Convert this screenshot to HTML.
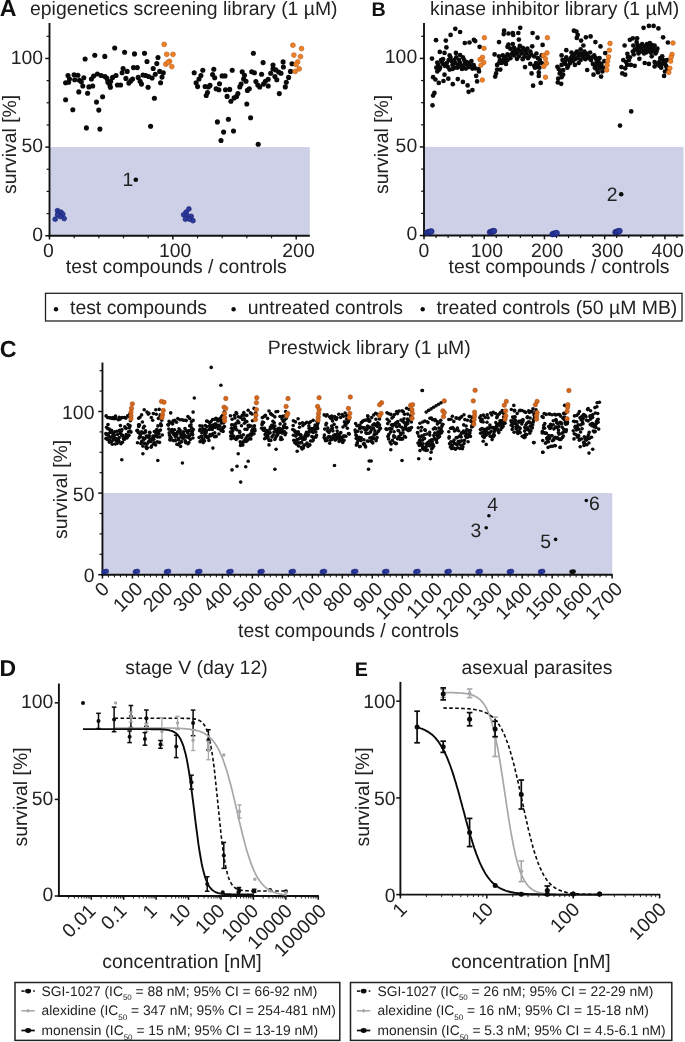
<!DOCTYPE html>
<html><head><meta charset="utf-8"><title>Figure</title>
<style>
html,body{margin:0;padding:0;background:#fff;}
svg{display:block;font-family:"Liberation Sans", sans-serif;will-change:transform;text-rendering:geometricPrecision;}
</style></head><body>
<svg width="685" height="1042" viewBox="0 0 685 1042">
<rect width="685" height="1042" fill="#ffffff"/>
<g id="panelA">
<rect x="49.5" y="147.1" width="260.3" height="88.6" fill="#cdd0e6"/>
<text x="-0.30" y="15.70" font-size="23.2" text-anchor="start" font-weight="bold" fill="#111" >A</text>
<text x="30.00" y="15.00" font-size="19.4" text-anchor="start" font-weight="normal" fill="#222222" >epigenetics screening library (1 µM)</text>
<line x1="49.50" y1="22.99" x2="49.50" y2="236.70" stroke="#111111" stroke-width="1.9" />
<line x1="45.30" y1="235.75" x2="49.50" y2="235.75" stroke="#111111" stroke-width="1.5" />
<text x="43.10" y="240.95" font-size="19.4" text-anchor="end" font-weight="normal" fill="#222222" >0</text>
<line x1="46.60" y1="213.59" x2="49.50" y2="213.59" stroke="#111111" stroke-width="1.2" />
<line x1="46.60" y1="191.43" x2="49.50" y2="191.43" stroke="#111111" stroke-width="1.2" />
<line x1="46.60" y1="169.26" x2="49.50" y2="169.26" stroke="#111111" stroke-width="1.2" />
<line x1="45.30" y1="147.10" x2="49.50" y2="147.10" stroke="#111111" stroke-width="1.5" />
<text x="43.10" y="152.30" font-size="19.4" text-anchor="end" font-weight="normal" fill="#222222" >50</text>
<line x1="46.60" y1="124.94" x2="49.50" y2="124.94" stroke="#111111" stroke-width="1.2" />
<line x1="46.60" y1="102.78" x2="49.50" y2="102.78" stroke="#111111" stroke-width="1.2" />
<line x1="46.60" y1="80.61" x2="49.50" y2="80.61" stroke="#111111" stroke-width="1.2" />
<line x1="45.30" y1="58.45" x2="49.50" y2="58.45" stroke="#111111" stroke-width="1.5" />
<text x="43.10" y="63.65" font-size="19.4" text-anchor="end" font-weight="normal" fill="#222222" >100</text>
<line x1="46.60" y1="36.29" x2="49.50" y2="36.29" stroke="#111111" stroke-width="1.2" />
<text transform="translate(16,144.4) rotate(-90)" font-size="19.4" text-anchor="middle" fill="#222222">survival [%]</text>
<line x1="48.55" y1="235.75" x2="309.80" y2="235.75" stroke="#111111" stroke-width="1.9" />
<line x1="49.50" y1="235.75" x2="49.50" y2="239.55" stroke="#111111" stroke-width="1.5" />
<text x="48.50" y="256.60" font-size="19.4" text-anchor="middle" font-weight="normal" fill="#222222" >0</text>
<line x1="74.17" y1="235.75" x2="74.17" y2="238.35" stroke="#111111" stroke-width="1.2" />
<line x1="98.84" y1="235.75" x2="98.84" y2="238.35" stroke="#111111" stroke-width="1.2" />
<line x1="123.51" y1="235.75" x2="123.51" y2="238.35" stroke="#111111" stroke-width="1.2" />
<line x1="148.18" y1="235.75" x2="148.18" y2="238.35" stroke="#111111" stroke-width="1.2" />
<line x1="172.85" y1="235.75" x2="172.85" y2="239.55" stroke="#111111" stroke-width="1.5" />
<text x="175.15" y="256.60" font-size="19.4" text-anchor="middle" font-weight="normal" fill="#222222" >100</text>
<line x1="197.52" y1="235.75" x2="197.52" y2="238.35" stroke="#111111" stroke-width="1.2" />
<line x1="222.19" y1="235.75" x2="222.19" y2="238.35" stroke="#111111" stroke-width="1.2" />
<line x1="246.86" y1="235.75" x2="246.86" y2="238.35" stroke="#111111" stroke-width="1.2" />
<line x1="271.53" y1="235.75" x2="271.53" y2="238.35" stroke="#111111" stroke-width="1.2" />
<line x1="296.20" y1="235.75" x2="296.20" y2="239.55" stroke="#111111" stroke-width="1.5" />
<text x="298.50" y="256.60" font-size="19.4" text-anchor="middle" font-weight="normal" fill="#222222" >200</text>
<text x="176.30" y="273.30" font-size="19.4" text-anchor="middle" font-weight="normal" fill="#222222" >test compounds / controls</text>
<circle cx="114.7" cy="48.0" r="2.55" fill="#0a0a0a"/>
<circle cx="124.6" cy="52.2" r="2.55" fill="#0a0a0a"/>
<circle cx="134.5" cy="53.9" r="2.55" fill="#0a0a0a"/>
<circle cx="144.5" cy="53.2" r="2.55" fill="#0a0a0a"/>
<circle cx="94.8" cy="55.2" r="2.55" fill="#0a0a0a"/>
<circle cx="104.8" cy="56.4" r="2.55" fill="#0a0a0a"/>
<circle cx="85.1" cy="59.0" r="2.55" fill="#0a0a0a"/>
<circle cx="158.0" cy="57.5" r="2.55" fill="#0a0a0a"/>
<circle cx="147.0" cy="61.5" r="2.55" fill="#0a0a0a"/>
<circle cx="156.8" cy="63.6" r="2.55" fill="#0a0a0a"/>
<circle cx="153.2" cy="68.5" r="2.55" fill="#0a0a0a"/>
<circle cx="123.1" cy="68.5" r="2.55" fill="#0a0a0a"/>
<circle cx="133.5" cy="67.6" r="2.55" fill="#0a0a0a"/>
<circle cx="137.3" cy="67.6" r="2.55" fill="#0a0a0a"/>
<circle cx="127.2" cy="71.4" r="2.55" fill="#0a0a0a"/>
<circle cx="122.1" cy="72.7" r="2.55" fill="#0a0a0a"/>
<circle cx="68.0" cy="75.5" r="2.55" fill="#0a0a0a"/>
<circle cx="74.1" cy="74.8" r="2.55" fill="#0a0a0a"/>
<circle cx="77.9" cy="75.2" r="2.55" fill="#0a0a0a"/>
<circle cx="69.5" cy="79.0" r="2.55" fill="#0a0a0a"/>
<circle cx="65.6" cy="82.8" r="2.55" fill="#0a0a0a"/>
<circle cx="68.6" cy="82.2" r="2.55" fill="#0a0a0a"/>
<circle cx="74.7" cy="79.7" r="2.55" fill="#0a0a0a"/>
<circle cx="79.4" cy="80.3" r="2.55" fill="#0a0a0a"/>
<circle cx="83.8" cy="77.8" r="2.55" fill="#0a0a0a"/>
<circle cx="81.3" cy="81.8" r="2.55" fill="#0a0a0a"/>
<circle cx="82.8" cy="86.0" r="2.55" fill="#0a0a0a"/>
<circle cx="78.8" cy="91.9" r="2.55" fill="#0a0a0a"/>
<circle cx="87.6" cy="93.2" r="2.55" fill="#0a0a0a"/>
<circle cx="88.9" cy="86.9" r="2.55" fill="#0a0a0a"/>
<circle cx="92.7" cy="86.0" r="2.55" fill="#0a0a0a"/>
<circle cx="91.4" cy="79.0" r="2.55" fill="#0a0a0a"/>
<circle cx="93.6" cy="76.1" r="2.55" fill="#0a0a0a"/>
<circle cx="97.4" cy="74.0" r="2.55" fill="#0a0a0a"/>
<circle cx="101.2" cy="75.5" r="2.55" fill="#0a0a0a"/>
<circle cx="105.0" cy="76.5" r="2.55" fill="#0a0a0a"/>
<circle cx="106.9" cy="78.4" r="2.55" fill="#0a0a0a"/>
<circle cx="107.9" cy="82.2" r="2.55" fill="#0a0a0a"/>
<circle cx="110.7" cy="81.2" r="2.55" fill="#0a0a0a"/>
<circle cx="109.8" cy="85.0" r="2.55" fill="#0a0a0a"/>
<circle cx="110.4" cy="87.3" r="2.55" fill="#0a0a0a"/>
<circle cx="112.6" cy="77.4" r="2.55" fill="#0a0a0a"/>
<circle cx="116.0" cy="75.5" r="2.55" fill="#0a0a0a"/>
<circle cx="117.4" cy="85.0" r="2.55" fill="#0a0a0a"/>
<circle cx="120.6" cy="85.0" r="2.55" fill="#0a0a0a"/>
<circle cx="125.9" cy="78.4" r="2.55" fill="#0a0a0a"/>
<circle cx="128.8" cy="83.1" r="2.55" fill="#0a0a0a"/>
<circle cx="130.7" cy="80.9" r="2.55" fill="#0a0a0a"/>
<circle cx="132.6" cy="79.0" r="2.55" fill="#0a0a0a"/>
<circle cx="138.2" cy="77.4" r="2.55" fill="#0a0a0a"/>
<circle cx="140.1" cy="81.2" r="2.55" fill="#0a0a0a"/>
<circle cx="141.5" cy="84.1" r="2.55" fill="#0a0a0a"/>
<circle cx="143.0" cy="75.0" r="2.55" fill="#0a0a0a"/>
<circle cx="145.8" cy="75.5" r="2.55" fill="#0a0a0a"/>
<circle cx="148.7" cy="76.5" r="2.55" fill="#0a0a0a"/>
<circle cx="152.1" cy="78.0" r="2.55" fill="#0a0a0a"/>
<circle cx="155.3" cy="74.2" r="2.55" fill="#0a0a0a"/>
<circle cx="159.7" cy="71.4" r="2.55" fill="#0a0a0a"/>
<circle cx="163.3" cy="72.7" r="2.55" fill="#0a0a0a"/>
<circle cx="162.0" cy="77.1" r="2.55" fill="#0a0a0a"/>
<circle cx="160.6" cy="82.8" r="2.55" fill="#0a0a0a"/>
<circle cx="148.1" cy="87.3" r="2.55" fill="#0a0a0a"/>
<circle cx="154.4" cy="98.3" r="2.55" fill="#0a0a0a"/>
<circle cx="150.6" cy="126.2" r="2.55" fill="#0a0a0a"/>
<circle cx="102.6" cy="96.8" r="2.55" fill="#0a0a0a"/>
<circle cx="96.5" cy="102.1" r="2.55" fill="#0a0a0a"/>
<circle cx="98.8" cy="110.1" r="2.55" fill="#0a0a0a"/>
<circle cx="86.4" cy="127.9" r="2.55" fill="#0a0a0a"/>
<circle cx="99.9" cy="129.1" r="2.55" fill="#0a0a0a"/>
<circle cx="65.6" cy="99.8" r="2.55" fill="#0a0a0a"/>
<circle cx="72.8" cy="109.7" r="2.55" fill="#0a0a0a"/>
<circle cx="253.4" cy="53.2" r="2.55" fill="#0a0a0a"/>
<circle cx="263.1" cy="62.6" r="2.55" fill="#0a0a0a"/>
<circle cx="283.1" cy="61.9" r="2.55" fill="#0a0a0a"/>
<circle cx="273.0" cy="65.1" r="2.55" fill="#0a0a0a"/>
<circle cx="292.0" cy="63.8" r="2.55" fill="#0a0a0a"/>
<circle cx="283.4" cy="67.0" r="2.55" fill="#0a0a0a"/>
<circle cx="232.2" cy="70.2" r="2.55" fill="#0a0a0a"/>
<circle cx="213.8" cy="69.3" r="2.55" fill="#0a0a0a"/>
<circle cx="202.8" cy="70.2" r="2.55" fill="#0a0a0a"/>
<circle cx="194.2" cy="72.7" r="2.55" fill="#0a0a0a"/>
<circle cx="200.9" cy="75.5" r="2.55" fill="#0a0a0a"/>
<circle cx="199.0" cy="79.0" r="2.55" fill="#0a0a0a"/>
<circle cx="196.1" cy="82.8" r="2.55" fill="#0a0a0a"/>
<circle cx="197.6" cy="86.6" r="2.55" fill="#0a0a0a"/>
<circle cx="212.6" cy="74.6" r="2.55" fill="#0a0a0a"/>
<circle cx="214.7" cy="77.8" r="2.55" fill="#0a0a0a"/>
<circle cx="222.1" cy="75.9" r="2.55" fill="#0a0a0a"/>
<circle cx="225.0" cy="75.9" r="2.55" fill="#0a0a0a"/>
<circle cx="242.2" cy="71.8" r="2.55" fill="#0a0a0a"/>
<circle cx="244.5" cy="75.2" r="2.55" fill="#0a0a0a"/>
<circle cx="243.6" cy="79.0" r="2.55" fill="#0a0a0a"/>
<circle cx="246.0" cy="81.2" r="2.55" fill="#0a0a0a"/>
<circle cx="251.7" cy="71.8" r="2.55" fill="#0a0a0a"/>
<circle cx="254.4" cy="72.7" r="2.55" fill="#0a0a0a"/>
<circle cx="261.6" cy="74.2" r="2.55" fill="#0a0a0a"/>
<circle cx="270.7" cy="73.3" r="2.55" fill="#0a0a0a"/>
<circle cx="273.0" cy="68.9" r="2.55" fill="#0a0a0a"/>
<circle cx="275.8" cy="69.9" r="2.55" fill="#0a0a0a"/>
<circle cx="278.7" cy="72.1" r="2.55" fill="#0a0a0a"/>
<circle cx="281.0" cy="73.3" r="2.55" fill="#0a0a0a"/>
<circle cx="290.5" cy="71.4" r="2.55" fill="#0a0a0a"/>
<circle cx="288.6" cy="77.4" r="2.55" fill="#0a0a0a"/>
<circle cx="286.3" cy="82.2" r="2.55" fill="#0a0a0a"/>
<circle cx="285.3" cy="86.9" r="2.55" fill="#0a0a0a"/>
<circle cx="274.9" cy="76.5" r="2.55" fill="#0a0a0a"/>
<circle cx="276.8" cy="79.7" r="2.55" fill="#0a0a0a"/>
<circle cx="268.2" cy="79.3" r="2.55" fill="#0a0a0a"/>
<circle cx="265.4" cy="81.2" r="2.55" fill="#0a0a0a"/>
<circle cx="263.5" cy="84.1" r="2.55" fill="#0a0a0a"/>
<circle cx="268.2" cy="86.0" r="2.55" fill="#0a0a0a"/>
<circle cx="255.9" cy="81.6" r="2.55" fill="#0a0a0a"/>
<circle cx="257.8" cy="85.0" r="2.55" fill="#0a0a0a"/>
<circle cx="259.7" cy="86.9" r="2.55" fill="#0a0a0a"/>
<circle cx="241.1" cy="84.1" r="2.55" fill="#0a0a0a"/>
<circle cx="239.8" cy="86.9" r="2.55" fill="#0a0a0a"/>
<circle cx="249.3" cy="88.8" r="2.55" fill="#0a0a0a"/>
<circle cx="247.4" cy="90.4" r="2.55" fill="#0a0a0a"/>
<circle cx="237.9" cy="93.6" r="2.55" fill="#0a0a0a"/>
<circle cx="236.6" cy="96.4" r="2.55" fill="#0a0a0a"/>
<circle cx="234.1" cy="97.9" r="2.55" fill="#0a0a0a"/>
<circle cx="230.9" cy="101.2" r="2.55" fill="#0a0a0a"/>
<circle cx="227.1" cy="96.4" r="2.55" fill="#0a0a0a"/>
<circle cx="225.5" cy="89.8" r="2.55" fill="#0a0a0a"/>
<circle cx="229.7" cy="89.4" r="2.55" fill="#0a0a0a"/>
<circle cx="219.5" cy="83.7" r="2.55" fill="#0a0a0a"/>
<circle cx="216.1" cy="88.8" r="2.55" fill="#0a0a0a"/>
<circle cx="218.9" cy="89.8" r="2.55" fill="#0a0a0a"/>
<circle cx="210.0" cy="85.4" r="2.55" fill="#0a0a0a"/>
<circle cx="205.1" cy="86.6" r="2.55" fill="#0a0a0a"/>
<circle cx="208.5" cy="86.9" r="2.55" fill="#0a0a0a"/>
<circle cx="207.5" cy="92.6" r="2.55" fill="#0a0a0a"/>
<circle cx="206.2" cy="95.5" r="2.55" fill="#0a0a0a"/>
<circle cx="279.3" cy="93.6" r="2.55" fill="#0a0a0a"/>
<circle cx="246.8" cy="104.0" r="2.55" fill="#0a0a0a"/>
<circle cx="250.6" cy="117.7" r="2.55" fill="#0a0a0a"/>
<circle cx="228.4" cy="119.2" r="2.55" fill="#0a0a0a"/>
<circle cx="217.4" cy="121.9" r="2.55" fill="#0a0a0a"/>
<circle cx="233.5" cy="131.0" r="2.55" fill="#0a0a0a"/>
<circle cx="223.6" cy="132.1" r="2.55" fill="#0a0a0a"/>
<circle cx="221.0" cy="140.5" r="2.55" fill="#0a0a0a"/>
<circle cx="258.2" cy="144.2" r="2.55" fill="#0a0a0a"/>
<circle cx="164.2" cy="44.4" r="2.4" fill="#ee8228" stroke="#c4621c" stroke-width="0.7"/>
<circle cx="166.7" cy="54.3" r="2.4" fill="#ee8228" stroke="#c4621c" stroke-width="0.7"/>
<circle cx="173.0" cy="54.3" r="2.4" fill="#ee8228" stroke="#c4621c" stroke-width="0.7"/>
<circle cx="169.6" cy="61.3" r="2.4" fill="#ee8228" stroke="#c4621c" stroke-width="0.7"/>
<circle cx="165.8" cy="64.2" r="2.4" fill="#ee8228" stroke="#c4621c" stroke-width="0.7"/>
<circle cx="168.0" cy="62.3" r="2.4" fill="#ee8228" stroke="#c4621c" stroke-width="0.7"/>
<circle cx="171.8" cy="66.6" r="2.4" fill="#ee8228" stroke="#c4621c" stroke-width="0.7"/>
<circle cx="292.9" cy="45.2" r="2.4" fill="#ee8228" stroke="#c4621c" stroke-width="0.7"/>
<circle cx="301.5" cy="48.6" r="2.4" fill="#ee8228" stroke="#c4621c" stroke-width="0.7"/>
<circle cx="293.9" cy="55.1" r="2.4" fill="#ee8228" stroke="#c4621c" stroke-width="0.7"/>
<circle cx="300.5" cy="56.6" r="2.4" fill="#ee8228" stroke="#c4621c" stroke-width="0.7"/>
<circle cx="297.7" cy="61.9" r="2.4" fill="#ee8228" stroke="#c4621c" stroke-width="0.7"/>
<circle cx="296.1" cy="64.5" r="2.4" fill="#ee8228" stroke="#c4621c" stroke-width="0.7"/>
<circle cx="299.2" cy="68.9" r="2.4" fill="#ee8228" stroke="#c4621c" stroke-width="0.7"/>
<circle cx="295.2" cy="71.4" r="2.4" fill="#ee8228" stroke="#c4621c" stroke-width="0.7"/>
<circle cx="55.2" cy="219.2" r="2.4" fill="#2c3a9c" stroke="#1b2478" stroke-width="0.7"/>
<circle cx="57.5" cy="210.7" r="2.4" fill="#2c3a9c" stroke="#1b2478" stroke-width="0.7"/>
<circle cx="59.0" cy="212.8" r="2.4" fill="#2c3a9c" stroke="#1b2478" stroke-width="0.7"/>
<circle cx="61.0" cy="212.2" r="2.4" fill="#2c3a9c" stroke="#1b2478" stroke-width="0.7"/>
<circle cx="62.8" cy="214.2" r="2.4" fill="#2c3a9c" stroke="#1b2478" stroke-width="0.7"/>
<circle cx="60.4" cy="216.6" r="2.4" fill="#2c3a9c" stroke="#1b2478" stroke-width="0.7"/>
<circle cx="64.2" cy="218.6" r="2.4" fill="#2c3a9c" stroke="#1b2478" stroke-width="0.7"/>
<circle cx="57.5" cy="214.8" r="2.4" fill="#2c3a9c" stroke="#1b2478" stroke-width="0.7"/>
<circle cx="188.9" cy="209.0" r="2.4" fill="#2c3a9c" stroke="#1b2478" stroke-width="0.7"/>
<circle cx="186.0" cy="212.2" r="2.4" fill="#2c3a9c" stroke="#1b2478" stroke-width="0.7"/>
<circle cx="183.6" cy="214.8" r="2.4" fill="#2c3a9c" stroke="#1b2478" stroke-width="0.7"/>
<circle cx="187.4" cy="215.7" r="2.4" fill="#2c3a9c" stroke="#1b2478" stroke-width="0.7"/>
<circle cx="191.2" cy="216.3" r="2.4" fill="#2c3a9c" stroke="#1b2478" stroke-width="0.7"/>
<circle cx="185.4" cy="219.2" r="2.4" fill="#2c3a9c" stroke="#1b2478" stroke-width="0.7"/>
<circle cx="189.5" cy="219.2" r="2.4" fill="#2c3a9c" stroke="#1b2478" stroke-width="0.7"/>
<circle cx="193.0" cy="220.7" r="2.4" fill="#2c3a9c" stroke="#1b2478" stroke-width="0.7"/>
<circle cx="135.8" cy="179.8" r="2.3" fill="#0a0a0a"/>
<text x="122.50" y="186.20" font-size="19.4" text-anchor="start" font-weight="normal" fill="#222222" >1</text>
</g>
<g id="panelB">
<rect x="424.0" y="146.9" width="259.5" height="88.6" fill="#cdd0e6"/>
<text x="371.60" y="15.50" font-size="19.7" text-anchor="start" font-weight="bold" fill="#111" >B</text>
<text x="430.00" y="15.00" font-size="19.4" text-anchor="start" font-weight="normal" fill="#222222" >kinase inhibitor library (1 µM)</text>
<line x1="424.00" y1="22.98" x2="424.00" y2="236.45" stroke="#111111" stroke-width="1.9" />
<line x1="419.80" y1="235.50" x2="424.00" y2="235.50" stroke="#111111" stroke-width="1.5" />
<text x="417.20" y="240.40" font-size="19.4" text-anchor="end" font-weight="normal" fill="#222222" >0</text>
<line x1="421.10" y1="213.36" x2="424.00" y2="213.36" stroke="#111111" stroke-width="1.2" />
<line x1="421.10" y1="191.22" x2="424.00" y2="191.22" stroke="#111111" stroke-width="1.2" />
<line x1="421.10" y1="169.09" x2="424.00" y2="169.09" stroke="#111111" stroke-width="1.2" />
<line x1="419.80" y1="146.95" x2="424.00" y2="146.95" stroke="#111111" stroke-width="1.5" />
<text x="417.20" y="151.85" font-size="19.4" text-anchor="end" font-weight="normal" fill="#222222" >50</text>
<line x1="421.10" y1="124.81" x2="424.00" y2="124.81" stroke="#111111" stroke-width="1.2" />
<line x1="421.10" y1="102.68" x2="424.00" y2="102.68" stroke="#111111" stroke-width="1.2" />
<line x1="421.10" y1="80.54" x2="424.00" y2="80.54" stroke="#111111" stroke-width="1.2" />
<line x1="419.80" y1="58.40" x2="424.00" y2="58.40" stroke="#111111" stroke-width="1.5" />
<text x="417.20" y="63.30" font-size="19.4" text-anchor="end" font-weight="normal" fill="#222222" >100</text>
<line x1="421.10" y1="36.26" x2="424.00" y2="36.26" stroke="#111111" stroke-width="1.2" />
<text transform="translate(388,144.4) rotate(-90)" font-size="19.4" text-anchor="middle" fill="#222222">survival [%]</text>
<line x1="423.05" y1="235.50" x2="683.50" y2="235.50" stroke="#111111" stroke-width="1.9" />
<line x1="424.00" y1="235.50" x2="424.00" y2="239.30" stroke="#111111" stroke-width="1.5" />
<text x="424.00" y="256.50" font-size="19.4" text-anchor="middle" font-weight="normal" fill="#222222" >0</text>
<line x1="436.04" y1="235.50" x2="436.04" y2="238.10" stroke="#111111" stroke-width="1.2" />
<line x1="448.09" y1="235.50" x2="448.09" y2="238.10" stroke="#111111" stroke-width="1.2" />
<line x1="460.13" y1="235.50" x2="460.13" y2="238.10" stroke="#111111" stroke-width="1.2" />
<line x1="472.18" y1="235.50" x2="472.18" y2="238.10" stroke="#111111" stroke-width="1.2" />
<line x1="484.22" y1="235.50" x2="484.22" y2="239.30" stroke="#111111" stroke-width="1.5" />
<text x="486.92" y="256.50" font-size="19.4" text-anchor="middle" font-weight="normal" fill="#222222" >100</text>
<line x1="496.26" y1="235.50" x2="496.26" y2="238.10" stroke="#111111" stroke-width="1.2" />
<line x1="508.31" y1="235.50" x2="508.31" y2="238.10" stroke="#111111" stroke-width="1.2" />
<line x1="520.35" y1="235.50" x2="520.35" y2="238.10" stroke="#111111" stroke-width="1.2" />
<line x1="532.40" y1="235.50" x2="532.40" y2="238.10" stroke="#111111" stroke-width="1.2" />
<line x1="544.44" y1="235.50" x2="544.44" y2="239.30" stroke="#111111" stroke-width="1.5" />
<text x="547.14" y="256.50" font-size="19.4" text-anchor="middle" font-weight="normal" fill="#222222" >200</text>
<line x1="556.48" y1="235.50" x2="556.48" y2="238.10" stroke="#111111" stroke-width="1.2" />
<line x1="568.53" y1="235.50" x2="568.53" y2="238.10" stroke="#111111" stroke-width="1.2" />
<line x1="580.57" y1="235.50" x2="580.57" y2="238.10" stroke="#111111" stroke-width="1.2" />
<line x1="592.62" y1="235.50" x2="592.62" y2="238.10" stroke="#111111" stroke-width="1.2" />
<line x1="604.66" y1="235.50" x2="604.66" y2="239.30" stroke="#111111" stroke-width="1.5" />
<text x="607.36" y="256.50" font-size="19.4" text-anchor="middle" font-weight="normal" fill="#222222" >300</text>
<line x1="616.70" y1="235.50" x2="616.70" y2="238.10" stroke="#111111" stroke-width="1.2" />
<line x1="628.75" y1="235.50" x2="628.75" y2="238.10" stroke="#111111" stroke-width="1.2" />
<line x1="640.79" y1="235.50" x2="640.79" y2="238.10" stroke="#111111" stroke-width="1.2" />
<line x1="652.84" y1="235.50" x2="652.84" y2="238.10" stroke="#111111" stroke-width="1.2" />
<line x1="664.88" y1="235.50" x2="664.88" y2="239.30" stroke="#111111" stroke-width="1.5" />
<text x="667.58" y="256.50" font-size="19.4" text-anchor="middle" font-weight="normal" fill="#222222" >400</text>
<line x1="676.92" y1="235.50" x2="676.92" y2="238.10" stroke="#111111" stroke-width="1.2" />
<text x="559.00" y="273.30" font-size="19.4" text-anchor="middle" font-weight="normal" fill="#222222" >test compounds / controls</text>
<circle cx="455.3" cy="28.8" r="2.35" fill="#0a0a0a"/>
<circle cx="460.1" cy="32.0" r="2.35" fill="#0a0a0a"/>
<circle cx="450.6" cy="34.9" r="2.35" fill="#0a0a0a"/>
<circle cx="436.0" cy="40.2" r="2.35" fill="#0a0a0a"/>
<circle cx="445.8" cy="40.6" r="2.35" fill="#0a0a0a"/>
<circle cx="446.4" cy="47.4" r="2.35" fill="#0a0a0a"/>
<circle cx="464.8" cy="43.0" r="2.35" fill="#0a0a0a"/>
<circle cx="469.5" cy="42.5" r="2.35" fill="#0a0a0a"/>
<circle cx="473.9" cy="39.8" r="2.35" fill="#0a0a0a"/>
<circle cx="475.2" cy="41.1" r="2.35" fill="#0a0a0a"/>
<circle cx="479.6" cy="46.8" r="2.35" fill="#0a0a0a"/>
<circle cx="439.8" cy="51.9" r="2.35" fill="#0a0a0a"/>
<circle cx="444.5" cy="52.9" r="2.35" fill="#0a0a0a"/>
<circle cx="455.9" cy="52.9" r="2.35" fill="#0a0a0a"/>
<circle cx="449.6" cy="55.4" r="2.35" fill="#0a0a0a"/>
<circle cx="460.1" cy="55.0" r="2.35" fill="#0a0a0a"/>
<circle cx="432.0" cy="58.6" r="2.35" fill="#0a0a0a"/>
<circle cx="441.1" cy="60.1" r="2.35" fill="#0a0a0a"/>
<circle cx="448.7" cy="60.1" r="2.35" fill="#0a0a0a"/>
<circle cx="454.4" cy="60.1" r="2.35" fill="#0a0a0a"/>
<circle cx="459.1" cy="60.1" r="2.35" fill="#0a0a0a"/>
<circle cx="464.2" cy="60.1" r="2.35" fill="#0a0a0a"/>
<circle cx="471.4" cy="61.1" r="2.35" fill="#0a0a0a"/>
<circle cx="438.2" cy="64.9" r="2.35" fill="#0a0a0a"/>
<circle cx="443.0" cy="63.9" r="2.35" fill="#0a0a0a"/>
<circle cx="446.8" cy="63.0" r="2.35" fill="#0a0a0a"/>
<circle cx="452.5" cy="64.9" r="2.35" fill="#0a0a0a"/>
<circle cx="458.2" cy="64.9" r="2.35" fill="#0a0a0a"/>
<circle cx="462.9" cy="65.8" r="2.35" fill="#0a0a0a"/>
<circle cx="467.6" cy="64.9" r="2.35" fill="#0a0a0a"/>
<circle cx="473.7" cy="65.2" r="2.35" fill="#0a0a0a"/>
<circle cx="436.3" cy="67.7" r="2.35" fill="#0a0a0a"/>
<circle cx="440.1" cy="67.7" r="2.35" fill="#0a0a0a"/>
<circle cx="449.6" cy="69.6" r="2.35" fill="#0a0a0a"/>
<circle cx="452.5" cy="69.0" r="2.35" fill="#0a0a0a"/>
<circle cx="462.0" cy="69.0" r="2.35" fill="#0a0a0a"/>
<circle cx="465.8" cy="68.6" r="2.35" fill="#0a0a0a"/>
<circle cx="475.2" cy="68.3" r="2.35" fill="#0a0a0a"/>
<circle cx="478.5" cy="69.2" r="2.35" fill="#0a0a0a"/>
<circle cx="437.3" cy="71.5" r="2.35" fill="#0a0a0a"/>
<circle cx="444.5" cy="74.7" r="2.35" fill="#0a0a0a"/>
<circle cx="433.1" cy="77.2" r="2.35" fill="#0a0a0a"/>
<circle cx="435.4" cy="79.5" r="2.35" fill="#0a0a0a"/>
<circle cx="438.8" cy="82.9" r="2.35" fill="#0a0a0a"/>
<circle cx="443.5" cy="81.0" r="2.35" fill="#0a0a0a"/>
<circle cx="448.3" cy="78.7" r="2.35" fill="#0a0a0a"/>
<circle cx="452.8" cy="84.2" r="2.35" fill="#0a0a0a"/>
<circle cx="457.8" cy="79.1" r="2.35" fill="#0a0a0a"/>
<circle cx="462.9" cy="81.9" r="2.35" fill="#0a0a0a"/>
<circle cx="467.6" cy="85.4" r="2.35" fill="#0a0a0a"/>
<circle cx="476.2" cy="75.9" r="2.35" fill="#0a0a0a"/>
<circle cx="477.1" cy="81.4" r="2.35" fill="#0a0a0a"/>
<circle cx="479.0" cy="71.5" r="2.35" fill="#0a0a0a"/>
<circle cx="472.4" cy="90.1" r="2.35" fill="#0a0a0a"/>
<circle cx="468.6" cy="91.8" r="2.35" fill="#0a0a0a"/>
<circle cx="434.4" cy="92.9" r="2.35" fill="#0a0a0a"/>
<circle cx="433.1" cy="95.6" r="2.35" fill="#0a0a0a"/>
<circle cx="432.5" cy="105.3" r="2.35" fill="#0a0a0a"/>
<circle cx="442.0" cy="62.0" r="2.35" fill="#0a0a0a"/>
<circle cx="444.9" cy="65.8" r="2.35" fill="#0a0a0a"/>
<circle cx="455.3" cy="63.0" r="2.35" fill="#0a0a0a"/>
<circle cx="457.2" cy="67.7" r="2.35" fill="#0a0a0a"/>
<circle cx="469.5" cy="63.0" r="2.35" fill="#0a0a0a"/>
<circle cx="464.8" cy="63.9" r="2.35" fill="#0a0a0a"/>
<circle cx="451.5" cy="61.1" r="2.35" fill="#0a0a0a"/>
<circle cx="460.1" cy="63.0" r="2.35" fill="#0a0a0a"/>
<circle cx="471.4" cy="65.8" r="2.35" fill="#0a0a0a"/>
<circle cx="437.3" cy="62.6" r="2.35" fill="#0a0a0a"/>
<circle cx="447.7" cy="66.8" r="2.35" fill="#0a0a0a"/>
<circle cx="454.4" cy="67.7" r="2.35" fill="#0a0a0a"/>
<circle cx="461.0" cy="67.1" r="2.35" fill="#0a0a0a"/>
<circle cx="468.6" cy="67.1" r="2.35" fill="#0a0a0a"/>
<circle cx="472.4" cy="68.6" r="2.35" fill="#0a0a0a"/>
<circle cx="439.2" cy="69.6" r="2.35" fill="#0a0a0a"/>
<circle cx="443.0" cy="59.2" r="2.35" fill="#0a0a0a"/>
<circle cx="450.6" cy="57.6" r="2.35" fill="#0a0a0a"/>
<circle cx="462.9" cy="57.3" r="2.35" fill="#0a0a0a"/>
<circle cx="466.7" cy="62.0" r="2.35" fill="#0a0a0a"/>
<circle cx="456.3" cy="57.3" r="2.35" fill="#0a0a0a"/>
<circle cx="520.2" cy="27.8" r="2.35" fill="#0a0a0a"/>
<circle cx="504.1" cy="30.7" r="2.35" fill="#0a0a0a"/>
<circle cx="503.7" cy="34.1" r="2.35" fill="#0a0a0a"/>
<circle cx="508.5" cy="33.5" r="2.35" fill="#0a0a0a"/>
<circle cx="512.8" cy="33.0" r="2.35" fill="#0a0a0a"/>
<circle cx="513.2" cy="34.9" r="2.35" fill="#0a0a0a"/>
<circle cx="518.3" cy="33.0" r="2.35" fill="#0a0a0a"/>
<circle cx="532.6" cy="33.0" r="2.35" fill="#0a0a0a"/>
<circle cx="537.5" cy="37.7" r="2.35" fill="#0a0a0a"/>
<circle cx="518.9" cy="39.6" r="2.35" fill="#0a0a0a"/>
<circle cx="499.0" cy="42.1" r="2.35" fill="#0a0a0a"/>
<circle cx="508.5" cy="44.5" r="2.35" fill="#0a0a0a"/>
<circle cx="512.8" cy="44.0" r="2.35" fill="#0a0a0a"/>
<circle cx="542.6" cy="44.9" r="2.35" fill="#0a0a0a"/>
<circle cx="507.5" cy="46.8" r="2.35" fill="#0a0a0a"/>
<circle cx="514.1" cy="47.8" r="2.35" fill="#0a0a0a"/>
<circle cx="518.3" cy="49.3" r="2.35" fill="#0a0a0a"/>
<circle cx="522.7" cy="47.8" r="2.35" fill="#0a0a0a"/>
<circle cx="527.4" cy="48.7" r="2.35" fill="#0a0a0a"/>
<circle cx="532.2" cy="46.3" r="2.35" fill="#0a0a0a"/>
<circle cx="494.6" cy="54.4" r="2.35" fill="#0a0a0a"/>
<circle cx="499.0" cy="56.3" r="2.35" fill="#0a0a0a"/>
<circle cx="502.8" cy="55.4" r="2.35" fill="#0a0a0a"/>
<circle cx="507.5" cy="54.4" r="2.35" fill="#0a0a0a"/>
<circle cx="512.2" cy="53.5" r="2.35" fill="#0a0a0a"/>
<circle cx="517.0" cy="53.5" r="2.35" fill="#0a0a0a"/>
<circle cx="521.7" cy="53.5" r="2.35" fill="#0a0a0a"/>
<circle cx="526.5" cy="53.5" r="2.35" fill="#0a0a0a"/>
<circle cx="531.2" cy="54.4" r="2.35" fill="#0a0a0a"/>
<circle cx="536.4" cy="53.5" r="2.35" fill="#0a0a0a"/>
<circle cx="541.7" cy="55.4" r="2.35" fill="#0a0a0a"/>
<circle cx="510.4" cy="58.2" r="2.35" fill="#0a0a0a"/>
<circle cx="517.0" cy="58.8" r="2.35" fill="#0a0a0a"/>
<circle cx="522.7" cy="59.2" r="2.35" fill="#0a0a0a"/>
<circle cx="528.0" cy="58.2" r="2.35" fill="#0a0a0a"/>
<circle cx="499.9" cy="60.1" r="2.35" fill="#0a0a0a"/>
<circle cx="497.1" cy="64.9" r="2.35" fill="#0a0a0a"/>
<circle cx="501.8" cy="63.0" r="2.35" fill="#0a0a0a"/>
<circle cx="506.0" cy="63.9" r="2.35" fill="#0a0a0a"/>
<circle cx="530.3" cy="63.9" r="2.35" fill="#0a0a0a"/>
<circle cx="534.1" cy="65.8" r="2.35" fill="#0a0a0a"/>
<circle cx="537.9" cy="66.8" r="2.35" fill="#0a0a0a"/>
<circle cx="541.7" cy="63.0" r="2.35" fill="#0a0a0a"/>
<circle cx="525.0" cy="67.1" r="2.35" fill="#0a0a0a"/>
<circle cx="497.1" cy="69.6" r="2.35" fill="#0a0a0a"/>
<circle cx="500.3" cy="69.6" r="2.35" fill="#0a0a0a"/>
<circle cx="496.1" cy="73.4" r="2.35" fill="#0a0a0a"/>
<circle cx="495.2" cy="76.6" r="2.35" fill="#0a0a0a"/>
<circle cx="531.6" cy="73.4" r="2.35" fill="#0a0a0a"/>
<circle cx="538.8" cy="72.4" r="2.35" fill="#0a0a0a"/>
<circle cx="538.8" cy="75.9" r="2.35" fill="#0a0a0a"/>
<circle cx="540.7" cy="82.9" r="2.35" fill="#0a0a0a"/>
<circle cx="533.1" cy="85.7" r="2.35" fill="#0a0a0a"/>
<circle cx="539.4" cy="67.7" r="2.35" fill="#0a0a0a"/>
<circle cx="535.0" cy="67.7" r="2.35" fill="#0a0a0a"/>
<circle cx="505.6" cy="57.3" r="2.35" fill="#0a0a0a"/>
<circle cx="509.4" cy="55.4" r="2.35" fill="#0a0a0a"/>
<circle cx="514.1" cy="55.4" r="2.35" fill="#0a0a0a"/>
<circle cx="518.9" cy="56.3" r="2.35" fill="#0a0a0a"/>
<circle cx="524.6" cy="56.3" r="2.35" fill="#0a0a0a"/>
<circle cx="529.3" cy="56.3" r="2.35" fill="#0a0a0a"/>
<circle cx="534.1" cy="56.3" r="2.35" fill="#0a0a0a"/>
<circle cx="537.9" cy="58.2" r="2.35" fill="#0a0a0a"/>
<circle cx="503.7" cy="59.2" r="2.35" fill="#0a0a0a"/>
<circle cx="507.5" cy="60.1" r="2.35" fill="#0a0a0a"/>
<circle cx="513.2" cy="51.6" r="2.35" fill="#0a0a0a"/>
<circle cx="520.8" cy="51.2" r="2.35" fill="#0a0a0a"/>
<circle cx="525.5" cy="51.6" r="2.35" fill="#0a0a0a"/>
<circle cx="530.3" cy="51.6" r="2.35" fill="#0a0a0a"/>
<circle cx="536.0" cy="63.0" r="2.35" fill="#0a0a0a"/>
<circle cx="539.8" cy="60.1" r="2.35" fill="#0a0a0a"/>
<circle cx="499.0" cy="63.0" r="2.35" fill="#0a0a0a"/>
<circle cx="504.7" cy="62.0" r="2.35" fill="#0a0a0a"/>
<circle cx="516.0" cy="50.6" r="2.35" fill="#0a0a0a"/>
<circle cx="510.4" cy="48.7" r="2.35" fill="#0a0a0a"/>
<circle cx="519.8" cy="45.9" r="2.35" fill="#0a0a0a"/>
<circle cx="524.6" cy="49.7" r="2.35" fill="#0a0a0a"/>
<circle cx="537.9" cy="63.9" r="2.35" fill="#0a0a0a"/>
<circle cx="573.9" cy="30.7" r="2.35" fill="#0a0a0a"/>
<circle cx="576.4" cy="31.6" r="2.35" fill="#0a0a0a"/>
<circle cx="577.7" cy="34.9" r="2.35" fill="#0a0a0a"/>
<circle cx="576.8" cy="37.9" r="2.35" fill="#0a0a0a"/>
<circle cx="581.1" cy="40.6" r="2.35" fill="#0a0a0a"/>
<circle cx="585.9" cy="37.3" r="2.35" fill="#0a0a0a"/>
<circle cx="590.6" cy="36.4" r="2.35" fill="#0a0a0a"/>
<circle cx="595.4" cy="42.1" r="2.35" fill="#0a0a0a"/>
<circle cx="600.5" cy="46.4" r="2.35" fill="#0a0a0a"/>
<circle cx="583.4" cy="45.5" r="2.35" fill="#0a0a0a"/>
<circle cx="580.6" cy="49.3" r="2.35" fill="#0a0a0a"/>
<circle cx="566.3" cy="50.2" r="2.35" fill="#0a0a0a"/>
<circle cx="571.5" cy="52.5" r="2.35" fill="#0a0a0a"/>
<circle cx="575.8" cy="53.5" r="2.35" fill="#0a0a0a"/>
<circle cx="584.4" cy="51.6" r="2.35" fill="#0a0a0a"/>
<circle cx="590.1" cy="52.5" r="2.35" fill="#0a0a0a"/>
<circle cx="605.2" cy="53.1" r="2.35" fill="#0a0a0a"/>
<circle cx="561.6" cy="55.4" r="2.35" fill="#0a0a0a"/>
<circle cx="566.3" cy="57.3" r="2.35" fill="#0a0a0a"/>
<circle cx="572.0" cy="56.3" r="2.35" fill="#0a0a0a"/>
<circle cx="578.7" cy="56.3" r="2.35" fill="#0a0a0a"/>
<circle cx="582.5" cy="55.4" r="2.35" fill="#0a0a0a"/>
<circle cx="588.2" cy="56.3" r="2.35" fill="#0a0a0a"/>
<circle cx="594.2" cy="55.4" r="2.35" fill="#0a0a0a"/>
<circle cx="599.5" cy="58.2" r="2.35" fill="#0a0a0a"/>
<circle cx="562.5" cy="60.1" r="2.35" fill="#0a0a0a"/>
<circle cx="569.2" cy="60.1" r="2.35" fill="#0a0a0a"/>
<circle cx="574.9" cy="59.2" r="2.35" fill="#0a0a0a"/>
<circle cx="580.6" cy="60.1" r="2.35" fill="#0a0a0a"/>
<circle cx="585.3" cy="59.2" r="2.35" fill="#0a0a0a"/>
<circle cx="591.0" cy="60.1" r="2.35" fill="#0a0a0a"/>
<circle cx="596.7" cy="61.1" r="2.35" fill="#0a0a0a"/>
<circle cx="604.3" cy="61.1" r="2.35" fill="#0a0a0a"/>
<circle cx="557.4" cy="66.8" r="2.35" fill="#0a0a0a"/>
<circle cx="561.6" cy="64.9" r="2.35" fill="#0a0a0a"/>
<circle cx="565.4" cy="63.9" r="2.35" fill="#0a0a0a"/>
<circle cx="570.1" cy="63.0" r="2.35" fill="#0a0a0a"/>
<circle cx="574.9" cy="64.9" r="2.35" fill="#0a0a0a"/>
<circle cx="578.7" cy="63.0" r="2.35" fill="#0a0a0a"/>
<circle cx="592.9" cy="63.9" r="2.35" fill="#0a0a0a"/>
<circle cx="597.6" cy="64.9" r="2.35" fill="#0a0a0a"/>
<circle cx="601.4" cy="63.9" r="2.35" fill="#0a0a0a"/>
<circle cx="558.7" cy="69.0" r="2.35" fill="#0a0a0a"/>
<circle cx="563.1" cy="70.2" r="2.35" fill="#0a0a0a"/>
<circle cx="567.3" cy="67.7" r="2.35" fill="#0a0a0a"/>
<circle cx="587.2" cy="70.0" r="2.35" fill="#0a0a0a"/>
<circle cx="594.8" cy="67.7" r="2.35" fill="#0a0a0a"/>
<circle cx="599.5" cy="68.3" r="2.35" fill="#0a0a0a"/>
<circle cx="603.0" cy="67.7" r="2.35" fill="#0a0a0a"/>
<circle cx="559.7" cy="73.4" r="2.35" fill="#0a0a0a"/>
<circle cx="563.1" cy="74.7" r="2.35" fill="#0a0a0a"/>
<circle cx="558.2" cy="78.7" r="2.35" fill="#0a0a0a"/>
<circle cx="561.6" cy="77.2" r="2.35" fill="#0a0a0a"/>
<circle cx="557.8" cy="82.5" r="2.35" fill="#0a0a0a"/>
<circle cx="561.2" cy="83.8" r="2.35" fill="#0a0a0a"/>
<circle cx="593.5" cy="74.7" r="2.35" fill="#0a0a0a"/>
<circle cx="598.0" cy="72.4" r="2.35" fill="#0a0a0a"/>
<circle cx="602.4" cy="71.5" r="2.35" fill="#0a0a0a"/>
<circle cx="601.1" cy="76.6" r="2.35" fill="#0a0a0a"/>
<circle cx="573.0" cy="61.1" r="2.35" fill="#0a0a0a"/>
<circle cx="568.2" cy="65.8" r="2.35" fill="#0a0a0a"/>
<circle cx="576.8" cy="51.6" r="2.35" fill="#0a0a0a"/>
<circle cx="581.5" cy="53.5" r="2.35" fill="#0a0a0a"/>
<circle cx="586.3" cy="53.5" r="2.35" fill="#0a0a0a"/>
<circle cx="592.0" cy="57.3" r="2.35" fill="#0a0a0a"/>
<circle cx="595.8" cy="58.2" r="2.35" fill="#0a0a0a"/>
<circle cx="573.9" cy="55.4" r="2.35" fill="#0a0a0a"/>
<circle cx="577.7" cy="58.2" r="2.35" fill="#0a0a0a"/>
<circle cx="583.4" cy="57.3" r="2.35" fill="#0a0a0a"/>
<circle cx="589.1" cy="58.2" r="2.35" fill="#0a0a0a"/>
<circle cx="564.4" cy="62.0" r="2.35" fill="#0a0a0a"/>
<circle cx="571.1" cy="58.2" r="2.35" fill="#0a0a0a"/>
<circle cx="598.6" cy="62.0" r="2.35" fill="#0a0a0a"/>
<circle cx="594.8" cy="64.9" r="2.35" fill="#0a0a0a"/>
<circle cx="600.5" cy="66.4" r="2.35" fill="#0a0a0a"/>
<circle cx="596.7" cy="69.6" r="2.35" fill="#0a0a0a"/>
<circle cx="560.6" cy="71.5" r="2.35" fill="#0a0a0a"/>
<circle cx="565.4" cy="60.1" r="2.35" fill="#0a0a0a"/>
<circle cx="579.6" cy="53.5" r="2.35" fill="#0a0a0a"/>
<circle cx="585.3" cy="54.4" r="2.35" fill="#0a0a0a"/>
<circle cx="643.6" cy="27.8" r="2.35" fill="#0a0a0a"/>
<circle cx="648.9" cy="25.9" r="2.35" fill="#0a0a0a"/>
<circle cx="653.6" cy="25.9" r="2.35" fill="#0a0a0a"/>
<circle cx="658.4" cy="28.4" r="2.35" fill="#0a0a0a"/>
<circle cx="663.1" cy="37.3" r="2.35" fill="#0a0a0a"/>
<circle cx="667.9" cy="42.5" r="2.35" fill="#0a0a0a"/>
<circle cx="629.9" cy="39.8" r="2.35" fill="#0a0a0a"/>
<circle cx="632.8" cy="38.3" r="2.35" fill="#0a0a0a"/>
<circle cx="637.1" cy="38.3" r="2.35" fill="#0a0a0a"/>
<circle cx="636.6" cy="42.1" r="2.35" fill="#0a0a0a"/>
<circle cx="624.6" cy="45.5" r="2.35" fill="#0a0a0a"/>
<circle cx="633.3" cy="45.5" r="2.35" fill="#0a0a0a"/>
<circle cx="637.5" cy="44.9" r="2.35" fill="#0a0a0a"/>
<circle cx="642.2" cy="44.0" r="2.35" fill="#0a0a0a"/>
<circle cx="647.0" cy="44.0" r="2.35" fill="#0a0a0a"/>
<circle cx="651.7" cy="44.9" r="2.35" fill="#0a0a0a"/>
<circle cx="636.6" cy="48.7" r="2.35" fill="#0a0a0a"/>
<circle cx="641.3" cy="48.7" r="2.35" fill="#0a0a0a"/>
<circle cx="646.0" cy="48.7" r="2.35" fill="#0a0a0a"/>
<circle cx="650.8" cy="48.7" r="2.35" fill="#0a0a0a"/>
<circle cx="657.4" cy="48.7" r="2.35" fill="#0a0a0a"/>
<circle cx="632.8" cy="51.6" r="2.35" fill="#0a0a0a"/>
<circle cx="638.5" cy="53.5" r="2.35" fill="#0a0a0a"/>
<circle cx="644.1" cy="53.5" r="2.35" fill="#0a0a0a"/>
<circle cx="650.8" cy="52.5" r="2.35" fill="#0a0a0a"/>
<circle cx="656.5" cy="51.6" r="2.35" fill="#0a0a0a"/>
<circle cx="627.4" cy="53.8" r="2.35" fill="#0a0a0a"/>
<circle cx="651.7" cy="56.3" r="2.35" fill="#0a0a0a"/>
<circle cx="662.2" cy="56.3" r="2.35" fill="#0a0a0a"/>
<circle cx="639.4" cy="58.8" r="2.35" fill="#0a0a0a"/>
<circle cx="623.3" cy="60.1" r="2.35" fill="#0a0a0a"/>
<circle cx="629.0" cy="60.1" r="2.35" fill="#0a0a0a"/>
<circle cx="663.1" cy="60.1" r="2.35" fill="#0a0a0a"/>
<circle cx="666.9" cy="60.1" r="2.35" fill="#0a0a0a"/>
<circle cx="644.7" cy="63.0" r="2.35" fill="#0a0a0a"/>
<circle cx="648.9" cy="63.9" r="2.35" fill="#0a0a0a"/>
<circle cx="654.6" cy="62.0" r="2.35" fill="#0a0a0a"/>
<circle cx="659.3" cy="62.0" r="2.35" fill="#0a0a0a"/>
<circle cx="627.1" cy="64.9" r="2.35" fill="#0a0a0a"/>
<circle cx="630.9" cy="64.9" r="2.35" fill="#0a0a0a"/>
<circle cx="634.7" cy="65.8" r="2.35" fill="#0a0a0a"/>
<circle cx="621.4" cy="67.1" r="2.35" fill="#0a0a0a"/>
<circle cx="625.2" cy="68.3" r="2.35" fill="#0a0a0a"/>
<circle cx="654.6" cy="66.4" r="2.35" fill="#0a0a0a"/>
<circle cx="659.3" cy="65.8" r="2.35" fill="#0a0a0a"/>
<circle cx="666.0" cy="65.8" r="2.35" fill="#0a0a0a"/>
<circle cx="667.9" cy="69.6" r="2.35" fill="#0a0a0a"/>
<circle cx="622.3" cy="73.4" r="2.35" fill="#0a0a0a"/>
<circle cx="625.2" cy="74.7" r="2.35" fill="#0a0a0a"/>
<circle cx="664.1" cy="75.9" r="2.35" fill="#0a0a0a"/>
<circle cx="631.2" cy="111.4" r="2.35" fill="#0a0a0a"/>
<circle cx="620.0" cy="125.6" r="2.35" fill="#0a0a0a"/>
<circle cx="639.4" cy="46.3" r="2.35" fill="#0a0a0a"/>
<circle cx="644.1" cy="46.3" r="2.35" fill="#0a0a0a"/>
<circle cx="648.9" cy="46.8" r="2.35" fill="#0a0a0a"/>
<circle cx="653.6" cy="47.4" r="2.35" fill="#0a0a0a"/>
<circle cx="643.2" cy="51.2" r="2.35" fill="#0a0a0a"/>
<circle cx="647.9" cy="51.2" r="2.35" fill="#0a0a0a"/>
<circle cx="653.6" cy="50.6" r="2.35" fill="#0a0a0a"/>
<circle cx="634.7" cy="49.7" r="2.35" fill="#0a0a0a"/>
<circle cx="640.4" cy="51.6" r="2.35" fill="#0a0a0a"/>
<circle cx="646.0" cy="52.5" r="2.35" fill="#0a0a0a"/>
<circle cx="655.5" cy="53.5" r="2.35" fill="#0a0a0a"/>
<circle cx="660.3" cy="58.2" r="2.35" fill="#0a0a0a"/>
<circle cx="665.0" cy="63.0" r="2.35" fill="#0a0a0a"/>
<circle cx="657.4" cy="63.9" r="2.35" fill="#0a0a0a"/>
<circle cx="662.2" cy="63.9" r="2.35" fill="#0a0a0a"/>
<circle cx="629.9" cy="57.3" r="2.35" fill="#0a0a0a"/>
<circle cx="626.1" cy="62.0" r="2.35" fill="#0a0a0a"/>
<circle cx="633.7" cy="54.4" r="2.35" fill="#0a0a0a"/>
<circle cx="637.5" cy="50.6" r="2.35" fill="#0a0a0a"/>
<circle cx="649.8" cy="43.0" r="2.35" fill="#0a0a0a"/>
<circle cx="654.6" cy="45.5" r="2.35" fill="#0a0a0a"/>
<circle cx="666.9" cy="67.7" r="2.35" fill="#0a0a0a"/>
<circle cx="665.0" cy="71.5" r="2.35" fill="#0a0a0a"/>
<circle cx="661.2" cy="67.7" r="2.35" fill="#0a0a0a"/>
<circle cx="628.0" cy="57.3" r="2.35" fill="#0a0a0a"/>
<circle cx="484.4" cy="37.7" r="2.3" fill="#ee8228" stroke="#c4621c" stroke-width="0.7"/>
<circle cx="484.0" cy="48.3" r="2.3" fill="#ee8228" stroke="#c4621c" stroke-width="0.7"/>
<circle cx="482.5" cy="57.3" r="2.3" fill="#ee8228" stroke="#c4621c" stroke-width="0.7"/>
<circle cx="480.0" cy="59.5" r="2.3" fill="#ee8228" stroke="#c4621c" stroke-width="0.7"/>
<circle cx="483.8" cy="62.4" r="2.3" fill="#ee8228" stroke="#c4621c" stroke-width="0.7"/>
<circle cx="480.9" cy="65.2" r="2.3" fill="#ee8228" stroke="#c4621c" stroke-width="0.7"/>
<circle cx="482.3" cy="80.0" r="2.3" fill="#ee8228" stroke="#c4621c" stroke-width="0.7"/>
<circle cx="547.4" cy="37.7" r="2.3" fill="#ee8228" stroke="#c4621c" stroke-width="0.7"/>
<circle cx="547.0" cy="52.9" r="2.3" fill="#ee8228" stroke="#c4621c" stroke-width="0.7"/>
<circle cx="543.6" cy="55.4" r="2.3" fill="#ee8228" stroke="#c4621c" stroke-width="0.7"/>
<circle cx="545.5" cy="58.8" r="2.3" fill="#ee8228" stroke="#c4621c" stroke-width="0.7"/>
<circle cx="546.4" cy="63.3" r="2.3" fill="#ee8228" stroke="#c4621c" stroke-width="0.7"/>
<circle cx="543.9" cy="66.4" r="2.3" fill="#ee8228" stroke="#c4621c" stroke-width="0.7"/>
<circle cx="545.5" cy="77.2" r="2.3" fill="#ee8228" stroke="#c4621c" stroke-width="0.7"/>
<circle cx="610.0" cy="43.4" r="2.3" fill="#ee8228" stroke="#c4621c" stroke-width="0.7"/>
<circle cx="609.4" cy="50.2" r="2.3" fill="#ee8228" stroke="#c4621c" stroke-width="0.7"/>
<circle cx="608.5" cy="56.9" r="2.3" fill="#ee8228" stroke="#c4621c" stroke-width="0.7"/>
<circle cx="607.7" cy="61.1" r="2.3" fill="#ee8228" stroke="#c4621c" stroke-width="0.7"/>
<circle cx="607.1" cy="65.2" r="2.3" fill="#ee8228" stroke="#c4621c" stroke-width="0.7"/>
<circle cx="606.8" cy="70.0" r="2.3" fill="#ee8228" stroke="#c4621c" stroke-width="0.7"/>
<circle cx="673.0" cy="43.0" r="2.3" fill="#ee8228" stroke="#c4621c" stroke-width="0.7"/>
<circle cx="672.0" cy="54.4" r="2.3" fill="#ee8228" stroke="#c4621c" stroke-width="0.7"/>
<circle cx="671.1" cy="57.3" r="2.3" fill="#ee8228" stroke="#c4621c" stroke-width="0.7"/>
<circle cx="670.7" cy="61.1" r="2.3" fill="#ee8228" stroke="#c4621c" stroke-width="0.7"/>
<circle cx="669.8" cy="68.3" r="2.3" fill="#ee8228" stroke="#c4621c" stroke-width="0.7"/>
<circle cx="668.8" cy="72.4" r="2.3" fill="#ee8228" stroke="#c4621c" stroke-width="0.7"/>
<circle cx="427.3" cy="232.6" r="2.8" fill="#2c3a9c" stroke="#1b2478" stroke-width="0.7"/>
<circle cx="428.6" cy="232.2" r="2.8" fill="#2c3a9c" stroke="#1b2478" stroke-width="0.7"/>
<circle cx="430.0" cy="231.8" r="2.8" fill="#2c3a9c" stroke="#1b2478" stroke-width="0.7"/>
<circle cx="431.3" cy="231.4" r="2.8" fill="#2c3a9c" stroke="#1b2478" stroke-width="0.7"/>
<circle cx="490.0" cy="232.2" r="2.8" fill="#2c3a9c" stroke="#1b2478" stroke-width="0.7"/>
<circle cx="491.3" cy="231.8" r="2.8" fill="#2c3a9c" stroke="#1b2478" stroke-width="0.7"/>
<circle cx="492.7" cy="231.4" r="2.8" fill="#2c3a9c" stroke="#1b2478" stroke-width="0.7"/>
<circle cx="494.0" cy="231.0" r="2.8" fill="#2c3a9c" stroke="#1b2478" stroke-width="0.7"/>
<circle cx="552.6" cy="234.2" r="2.8" fill="#2c3a9c" stroke="#1b2478" stroke-width="0.7"/>
<circle cx="553.9" cy="233.8" r="2.8" fill="#2c3a9c" stroke="#1b2478" stroke-width="0.7"/>
<circle cx="555.3" cy="233.4" r="2.8" fill="#2c3a9c" stroke="#1b2478" stroke-width="0.7"/>
<circle cx="556.6" cy="233.0" r="2.8" fill="#2c3a9c" stroke="#1b2478" stroke-width="0.7"/>
<circle cx="615.5" cy="232.2" r="2.8" fill="#2c3a9c" stroke="#1b2478" stroke-width="0.7"/>
<circle cx="616.8" cy="231.8" r="2.8" fill="#2c3a9c" stroke="#1b2478" stroke-width="0.7"/>
<circle cx="618.2" cy="231.4" r="2.8" fill="#2c3a9c" stroke="#1b2478" stroke-width="0.7"/>
<circle cx="619.5" cy="231.0" r="2.8" fill="#2c3a9c" stroke="#1b2478" stroke-width="0.7"/>
<circle cx="621.2" cy="194.3" r="2.3" fill="#0a0a0a"/>
<text x="606.80" y="200.60" font-size="19.4" text-anchor="start" font-weight="normal" fill="#222222" >2</text>
</g>
<g id="legendTop">
<rect x="45.5" y="293.3" width="636.5" height="27.7" fill="#fff" stroke="#222" stroke-width="1.3"/>
<circle cx="56.0" cy="309.3" r="2.2" fill="#0a0a0a"/>
<text x="70.00" y="314.00" font-size="19.4" text-anchor="start" font-weight="normal" fill="#222222" >test compounds</text>
<circle cx="233.6" cy="309.3" r="2.2" fill="#0a0a0a"/>
<text x="247.80" y="314.00" font-size="19.4" text-anchor="start" font-weight="normal" fill="#222222" >untreated controls</text>
<circle cx="422.7" cy="309.3" r="2.2" fill="#0a0a0a"/>
<text x="436.60" y="314.00" font-size="19.4" text-anchor="start" font-weight="normal" fill="#222222" >treated controls (50 µM MB)</text>
</g>
<g id="panelC">
<rect x="102.5" y="493.1" width="509.7" height="81.6" fill="#cdd0e6"/>
<text x="-0.30" y="356.90" font-size="23.3" text-anchor="start" font-weight="bold" fill="#111" >C</text>
<text x="369.20" y="354.00" font-size="19.4" text-anchor="middle" font-weight="normal" fill="#222222" >Prestwick library (1 µM)</text>
<line x1="102.45" y1="362.54" x2="102.45" y2="575.65" stroke="#111111" stroke-width="1.9" />
<line x1="98.25" y1="574.70" x2="102.45" y2="574.70" stroke="#111111" stroke-width="1.5" />
<text x="94.45" y="582.30" font-size="19.4" text-anchor="end" font-weight="normal" fill="#222222" >0</text>
<line x1="99.55" y1="554.30" x2="102.45" y2="554.30" stroke="#111111" stroke-width="1.2" />
<line x1="99.55" y1="533.90" x2="102.45" y2="533.90" stroke="#111111" stroke-width="1.2" />
<line x1="99.55" y1="513.50" x2="102.45" y2="513.50" stroke="#111111" stroke-width="1.2" />
<line x1="98.25" y1="493.10" x2="102.45" y2="493.10" stroke="#111111" stroke-width="1.5" />
<text x="94.45" y="500.70" font-size="19.4" text-anchor="end" font-weight="normal" fill="#222222" >50</text>
<line x1="99.55" y1="472.70" x2="102.45" y2="472.70" stroke="#111111" stroke-width="1.2" />
<line x1="99.55" y1="452.30" x2="102.45" y2="452.30" stroke="#111111" stroke-width="1.2" />
<line x1="99.55" y1="431.90" x2="102.45" y2="431.90" stroke="#111111" stroke-width="1.2" />
<line x1="98.25" y1="411.50" x2="102.45" y2="411.50" stroke="#111111" stroke-width="1.5" />
<text x="94.45" y="419.10" font-size="19.4" text-anchor="end" font-weight="normal" fill="#222222" >100</text>
<line x1="99.55" y1="391.10" x2="102.45" y2="391.10" stroke="#111111" stroke-width="1.2" />
<line x1="99.55" y1="370.70" x2="102.45" y2="370.70" stroke="#111111" stroke-width="1.2" />
<text transform="translate(67,489.4) rotate(-90)" font-size="19.4" text-anchor="middle" fill="#222222">survival [%]</text>
<line x1="101.50" y1="574.70" x2="612.71" y2="574.70" stroke="#111111" stroke-width="1.9" />
<line x1="102.45" y1="574.70" x2="102.45" y2="578.50" stroke="#111111" stroke-width="1.5" />
<text transform="translate(110.4,590.2) rotate(-45)" font-size="19.4" text-anchor="end" fill="#222222">0</text>
<line x1="108.45" y1="574.70" x2="108.45" y2="577.30" stroke="#111111" stroke-width="1.0" />
<line x1="114.44" y1="574.70" x2="114.44" y2="577.30" stroke="#111111" stroke-width="1.0" />
<line x1="120.44" y1="574.70" x2="120.44" y2="577.30" stroke="#111111" stroke-width="1.0" />
<line x1="126.43" y1="574.70" x2="126.43" y2="577.30" stroke="#111111" stroke-width="1.0" />
<line x1="132.43" y1="574.70" x2="132.43" y2="578.50" stroke="#111111" stroke-width="1.5" />
<text transform="translate(143.9,590.2) rotate(-45)" font-size="19.4" text-anchor="end" fill="#222222">100</text>
<line x1="138.43" y1="574.70" x2="138.43" y2="577.30" stroke="#111111" stroke-width="1.0" />
<line x1="144.42" y1="574.70" x2="144.42" y2="577.30" stroke="#111111" stroke-width="1.0" />
<line x1="150.42" y1="574.70" x2="150.42" y2="577.30" stroke="#111111" stroke-width="1.0" />
<line x1="156.41" y1="574.70" x2="156.41" y2="577.30" stroke="#111111" stroke-width="1.0" />
<line x1="162.41" y1="574.70" x2="162.41" y2="578.50" stroke="#111111" stroke-width="1.5" />
<text transform="translate(173.9,590.2) rotate(-45)" font-size="19.4" text-anchor="end" fill="#222222">200</text>
<line x1="168.41" y1="574.70" x2="168.41" y2="577.30" stroke="#111111" stroke-width="1.0" />
<line x1="174.40" y1="574.70" x2="174.40" y2="577.30" stroke="#111111" stroke-width="1.0" />
<line x1="180.40" y1="574.70" x2="180.40" y2="577.30" stroke="#111111" stroke-width="1.0" />
<line x1="186.39" y1="574.70" x2="186.39" y2="577.30" stroke="#111111" stroke-width="1.0" />
<line x1="192.39" y1="574.70" x2="192.39" y2="578.50" stroke="#111111" stroke-width="1.5" />
<text transform="translate(203.9,590.2) rotate(-45)" font-size="19.4" text-anchor="end" fill="#222222">300</text>
<line x1="198.39" y1="574.70" x2="198.39" y2="577.30" stroke="#111111" stroke-width="1.0" />
<line x1="204.38" y1="574.70" x2="204.38" y2="577.30" stroke="#111111" stroke-width="1.0" />
<line x1="210.38" y1="574.70" x2="210.38" y2="577.30" stroke="#111111" stroke-width="1.0" />
<line x1="216.37" y1="574.70" x2="216.37" y2="577.30" stroke="#111111" stroke-width="1.0" />
<line x1="222.37" y1="574.70" x2="222.37" y2="578.50" stroke="#111111" stroke-width="1.5" />
<text transform="translate(233.9,590.2) rotate(-45)" font-size="19.4" text-anchor="end" fill="#222222">400</text>
<line x1="228.37" y1="574.70" x2="228.37" y2="577.30" stroke="#111111" stroke-width="1.0" />
<line x1="234.36" y1="574.70" x2="234.36" y2="577.30" stroke="#111111" stroke-width="1.0" />
<line x1="240.36" y1="574.70" x2="240.36" y2="577.30" stroke="#111111" stroke-width="1.0" />
<line x1="246.35" y1="574.70" x2="246.35" y2="577.30" stroke="#111111" stroke-width="1.0" />
<line x1="252.35" y1="574.70" x2="252.35" y2="578.50" stroke="#111111" stroke-width="1.5" />
<text transform="translate(263.9,590.2) rotate(-45)" font-size="19.4" text-anchor="end" fill="#222222">500</text>
<line x1="258.35" y1="574.70" x2="258.35" y2="577.30" stroke="#111111" stroke-width="1.0" />
<line x1="264.34" y1="574.70" x2="264.34" y2="577.30" stroke="#111111" stroke-width="1.0" />
<line x1="270.34" y1="574.70" x2="270.34" y2="577.30" stroke="#111111" stroke-width="1.0" />
<line x1="276.33" y1="574.70" x2="276.33" y2="577.30" stroke="#111111" stroke-width="1.0" />
<line x1="282.33" y1="574.70" x2="282.33" y2="578.50" stroke="#111111" stroke-width="1.5" />
<text transform="translate(293.8,590.2) rotate(-45)" font-size="19.4" text-anchor="end" fill="#222222">600</text>
<line x1="288.33" y1="574.70" x2="288.33" y2="577.30" stroke="#111111" stroke-width="1.0" />
<line x1="294.32" y1="574.70" x2="294.32" y2="577.30" stroke="#111111" stroke-width="1.0" />
<line x1="300.32" y1="574.70" x2="300.32" y2="577.30" stroke="#111111" stroke-width="1.0" />
<line x1="306.31" y1="574.70" x2="306.31" y2="577.30" stroke="#111111" stroke-width="1.0" />
<line x1="312.31" y1="574.70" x2="312.31" y2="578.50" stroke="#111111" stroke-width="1.5" />
<text transform="translate(323.8,590.2) rotate(-45)" font-size="19.4" text-anchor="end" fill="#222222">700</text>
<line x1="318.31" y1="574.70" x2="318.31" y2="577.30" stroke="#111111" stroke-width="1.0" />
<line x1="324.30" y1="574.70" x2="324.30" y2="577.30" stroke="#111111" stroke-width="1.0" />
<line x1="330.30" y1="574.70" x2="330.30" y2="577.30" stroke="#111111" stroke-width="1.0" />
<line x1="336.29" y1="574.70" x2="336.29" y2="577.30" stroke="#111111" stroke-width="1.0" />
<line x1="342.29" y1="574.70" x2="342.29" y2="578.50" stroke="#111111" stroke-width="1.5" />
<text transform="translate(353.8,590.2) rotate(-45)" font-size="19.4" text-anchor="end" fill="#222222">800</text>
<line x1="348.29" y1="574.70" x2="348.29" y2="577.30" stroke="#111111" stroke-width="1.0" />
<line x1="354.28" y1="574.70" x2="354.28" y2="577.30" stroke="#111111" stroke-width="1.0" />
<line x1="360.28" y1="574.70" x2="360.28" y2="577.30" stroke="#111111" stroke-width="1.0" />
<line x1="366.27" y1="574.70" x2="366.27" y2="577.30" stroke="#111111" stroke-width="1.0" />
<line x1="372.27" y1="574.70" x2="372.27" y2="578.50" stroke="#111111" stroke-width="1.5" />
<text transform="translate(383.8,590.2) rotate(-45)" font-size="19.4" text-anchor="end" fill="#222222">900</text>
<line x1="378.27" y1="574.70" x2="378.27" y2="577.30" stroke="#111111" stroke-width="1.0" />
<line x1="384.26" y1="574.70" x2="384.26" y2="577.30" stroke="#111111" stroke-width="1.0" />
<line x1="390.26" y1="574.70" x2="390.26" y2="577.30" stroke="#111111" stroke-width="1.0" />
<line x1="396.25" y1="574.70" x2="396.25" y2="577.30" stroke="#111111" stroke-width="1.0" />
<line x1="402.25" y1="574.70" x2="402.25" y2="578.50" stroke="#111111" stroke-width="1.5" />
<text transform="translate(413.8,590.2) rotate(-45)" font-size="19.4" text-anchor="end" fill="#222222">1000</text>
<line x1="408.25" y1="574.70" x2="408.25" y2="577.30" stroke="#111111" stroke-width="1.0" />
<line x1="414.24" y1="574.70" x2="414.24" y2="577.30" stroke="#111111" stroke-width="1.0" />
<line x1="420.24" y1="574.70" x2="420.24" y2="577.30" stroke="#111111" stroke-width="1.0" />
<line x1="426.23" y1="574.70" x2="426.23" y2="577.30" stroke="#111111" stroke-width="1.0" />
<line x1="432.23" y1="574.70" x2="432.23" y2="578.50" stroke="#111111" stroke-width="1.5" />
<text transform="translate(443.7,590.2) rotate(-45)" font-size="19.4" text-anchor="end" fill="#222222">1100</text>
<line x1="438.23" y1="574.70" x2="438.23" y2="577.30" stroke="#111111" stroke-width="1.0" />
<line x1="444.22" y1="574.70" x2="444.22" y2="577.30" stroke="#111111" stroke-width="1.0" />
<line x1="450.22" y1="574.70" x2="450.22" y2="577.30" stroke="#111111" stroke-width="1.0" />
<line x1="456.21" y1="574.70" x2="456.21" y2="577.30" stroke="#111111" stroke-width="1.0" />
<line x1="462.21" y1="574.70" x2="462.21" y2="578.50" stroke="#111111" stroke-width="1.5" />
<text transform="translate(473.7,590.2) rotate(-45)" font-size="19.4" text-anchor="end" fill="#222222">1200</text>
<line x1="468.21" y1="574.70" x2="468.21" y2="577.30" stroke="#111111" stroke-width="1.0" />
<line x1="474.20" y1="574.70" x2="474.20" y2="577.30" stroke="#111111" stroke-width="1.0" />
<line x1="480.20" y1="574.70" x2="480.20" y2="577.30" stroke="#111111" stroke-width="1.0" />
<line x1="486.19" y1="574.70" x2="486.19" y2="577.30" stroke="#111111" stroke-width="1.0" />
<line x1="492.19" y1="574.70" x2="492.19" y2="578.50" stroke="#111111" stroke-width="1.5" />
<text transform="translate(503.7,590.2) rotate(-45)" font-size="19.4" text-anchor="end" fill="#222222">1300</text>
<line x1="498.19" y1="574.70" x2="498.19" y2="577.30" stroke="#111111" stroke-width="1.0" />
<line x1="504.18" y1="574.70" x2="504.18" y2="577.30" stroke="#111111" stroke-width="1.0" />
<line x1="510.18" y1="574.70" x2="510.18" y2="577.30" stroke="#111111" stroke-width="1.0" />
<line x1="516.17" y1="574.70" x2="516.17" y2="577.30" stroke="#111111" stroke-width="1.0" />
<line x1="522.17" y1="574.70" x2="522.17" y2="578.50" stroke="#111111" stroke-width="1.5" />
<text transform="translate(533.7,590.2) rotate(-45)" font-size="19.4" text-anchor="end" fill="#222222">1400</text>
<line x1="528.17" y1="574.70" x2="528.17" y2="577.30" stroke="#111111" stroke-width="1.0" />
<line x1="534.16" y1="574.70" x2="534.16" y2="577.30" stroke="#111111" stroke-width="1.0" />
<line x1="540.16" y1="574.70" x2="540.16" y2="577.30" stroke="#111111" stroke-width="1.0" />
<line x1="546.15" y1="574.70" x2="546.15" y2="577.30" stroke="#111111" stroke-width="1.0" />
<line x1="552.15" y1="574.70" x2="552.15" y2="578.50" stroke="#111111" stroke-width="1.5" />
<text transform="translate(563.6,590.2) rotate(-45)" font-size="19.4" text-anchor="end" fill="#222222">1500</text>
<line x1="558.15" y1="574.70" x2="558.15" y2="577.30" stroke="#111111" stroke-width="1.0" />
<line x1="564.14" y1="574.70" x2="564.14" y2="577.30" stroke="#111111" stroke-width="1.0" />
<line x1="570.14" y1="574.70" x2="570.14" y2="577.30" stroke="#111111" stroke-width="1.0" />
<line x1="576.13" y1="574.70" x2="576.13" y2="577.30" stroke="#111111" stroke-width="1.0" />
<line x1="582.13" y1="574.70" x2="582.13" y2="578.50" stroke="#111111" stroke-width="1.5" />
<text transform="translate(593.6,590.2) rotate(-45)" font-size="19.4" text-anchor="end" fill="#222222">1600</text>
<line x1="588.13" y1="574.70" x2="588.13" y2="577.30" stroke="#111111" stroke-width="1.0" />
<line x1="594.12" y1="574.70" x2="594.12" y2="577.30" stroke="#111111" stroke-width="1.0" />
<line x1="600.12" y1="574.70" x2="600.12" y2="577.30" stroke="#111111" stroke-width="1.0" />
<line x1="606.11" y1="574.70" x2="606.11" y2="577.30" stroke="#111111" stroke-width="1.0" />
<line x1="612.11" y1="574.70" x2="612.11" y2="578.50" stroke="#111111" stroke-width="1.5" />
<text transform="translate(623.6,590.2) rotate(-45)" font-size="19.4" text-anchor="end" fill="#222222">1700</text>
<text x="348.50" y="637.00" font-size="19.4" text-anchor="middle" font-weight="normal" fill="#222222" >test compounds / controls</text>
<circle cx="106.1" cy="415.9" r="1.8" fill="#0a0a0a"/>
<circle cx="107.6" cy="417.5" r="1.8" fill="#0a0a0a"/>
<circle cx="109.1" cy="417.7" r="1.8" fill="#0a0a0a"/>
<circle cx="110.5" cy="417.9" r="1.8" fill="#0a0a0a"/>
<circle cx="112.1" cy="418.4" r="1.8" fill="#0a0a0a"/>
<circle cx="113.0" cy="417.6" r="1.8" fill="#0a0a0a"/>
<circle cx="114.2" cy="418.8" r="1.8" fill="#0a0a0a"/>
<circle cx="115.5" cy="416.1" r="1.8" fill="#0a0a0a"/>
<circle cx="118.3" cy="419.7" r="1.8" fill="#0a0a0a"/>
<circle cx="119.2" cy="417.3" r="1.8" fill="#0a0a0a"/>
<circle cx="119.9" cy="419.3" r="1.8" fill="#0a0a0a"/>
<circle cx="121.2" cy="417.7" r="1.8" fill="#0a0a0a"/>
<circle cx="122.8" cy="417.5" r="1.8" fill="#0a0a0a"/>
<circle cx="124.6" cy="417.6" r="1.8" fill="#0a0a0a"/>
<circle cx="126.0" cy="418.1" r="1.8" fill="#0a0a0a"/>
<circle cx="127.7" cy="415.7" r="1.8" fill="#0a0a0a"/>
<circle cx="129.0" cy="416.2" r="1.8" fill="#0a0a0a"/>
<circle cx="130.1" cy="415.6" r="1.8" fill="#0a0a0a"/>
<circle cx="105.9" cy="438.5" r="1.8" fill="#0a0a0a"/>
<circle cx="105.9" cy="433.5" r="1.8" fill="#0a0a0a"/>
<circle cx="106.4" cy="434.8" r="1.8" fill="#0a0a0a"/>
<circle cx="106.6" cy="427.3" r="1.8" fill="#0a0a0a"/>
<circle cx="107.1" cy="438.9" r="1.8" fill="#0a0a0a"/>
<circle cx="107.6" cy="428.6" r="1.8" fill="#0a0a0a"/>
<circle cx="107.8" cy="439.7" r="1.8" fill="#0a0a0a"/>
<circle cx="108.0" cy="424.6" r="1.8" fill="#0a0a0a"/>
<circle cx="108.4" cy="433.8" r="1.8" fill="#0a0a0a"/>
<circle cx="108.7" cy="436.1" r="1.8" fill="#0a0a0a"/>
<circle cx="109.2" cy="429.0" r="1.8" fill="#0a0a0a"/>
<circle cx="109.5" cy="442.2" r="1.8" fill="#0a0a0a"/>
<circle cx="109.9" cy="439.9" r="1.8" fill="#0a0a0a"/>
<circle cx="110.2" cy="430.8" r="1.8" fill="#0a0a0a"/>
<circle cx="110.6" cy="432.3" r="1.8" fill="#0a0a0a"/>
<circle cx="110.9" cy="437.3" r="1.8" fill="#0a0a0a"/>
<circle cx="111.4" cy="441.7" r="1.8" fill="#0a0a0a"/>
<circle cx="111.6" cy="430.4" r="1.8" fill="#0a0a0a"/>
<circle cx="112.2" cy="432.9" r="1.8" fill="#0a0a0a"/>
<circle cx="112.3" cy="444.3" r="1.8" fill="#0a0a0a"/>
<circle cx="112.8" cy="435.8" r="1.8" fill="#0a0a0a"/>
<circle cx="113.1" cy="440.1" r="1.8" fill="#0a0a0a"/>
<circle cx="113.6" cy="438.5" r="1.8" fill="#0a0a0a"/>
<circle cx="113.7" cy="433.4" r="1.8" fill="#0a0a0a"/>
<circle cx="114.3" cy="438.8" r="1.8" fill="#0a0a0a"/>
<circle cx="114.4" cy="435.5" r="1.8" fill="#0a0a0a"/>
<circle cx="114.8" cy="431.8" r="1.8" fill="#0a0a0a"/>
<circle cx="115.2" cy="444.0" r="1.8" fill="#0a0a0a"/>
<circle cx="115.7" cy="418.4" r="1.8" fill="#0a0a0a"/>
<circle cx="116.1" cy="440.6" r="1.8" fill="#0a0a0a"/>
<circle cx="116.2" cy="438.6" r="1.8" fill="#0a0a0a"/>
<circle cx="116.9" cy="431.2" r="1.8" fill="#0a0a0a"/>
<circle cx="117.1" cy="443.4" r="1.8" fill="#0a0a0a"/>
<circle cx="117.6" cy="434.5" r="1.8" fill="#0a0a0a"/>
<circle cx="117.9" cy="441.9" r="1.8" fill="#0a0a0a"/>
<circle cx="118.1" cy="440.3" r="1.8" fill="#0a0a0a"/>
<circle cx="118.5" cy="440.3" r="1.8" fill="#0a0a0a"/>
<circle cx="119.0" cy="441.5" r="1.8" fill="#0a0a0a"/>
<circle cx="119.3" cy="437.5" r="1.8" fill="#0a0a0a"/>
<circle cx="119.6" cy="430.4" r="1.8" fill="#0a0a0a"/>
<circle cx="119.9" cy="433.1" r="1.8" fill="#0a0a0a"/>
<circle cx="120.4" cy="425.6" r="1.8" fill="#0a0a0a"/>
<circle cx="120.7" cy="433.5" r="1.8" fill="#0a0a0a"/>
<circle cx="120.9" cy="443.8" r="1.8" fill="#0a0a0a"/>
<circle cx="121.4" cy="431.1" r="1.8" fill="#0a0a0a"/>
<circle cx="121.8" cy="435.5" r="1.8" fill="#0a0a0a"/>
<circle cx="122.0" cy="429.5" r="1.8" fill="#0a0a0a"/>
<circle cx="122.5" cy="442.3" r="1.8" fill="#0a0a0a"/>
<circle cx="122.6" cy="435.3" r="1.8" fill="#0a0a0a"/>
<circle cx="123.1" cy="436.2" r="1.8" fill="#0a0a0a"/>
<circle cx="123.6" cy="438.9" r="1.8" fill="#0a0a0a"/>
<circle cx="123.6" cy="438.3" r="1.8" fill="#0a0a0a"/>
<circle cx="124.1" cy="439.3" r="1.8" fill="#0a0a0a"/>
<circle cx="124.4" cy="439.3" r="1.8" fill="#0a0a0a"/>
<circle cx="124.8" cy="426.8" r="1.8" fill="#0a0a0a"/>
<circle cx="125.3" cy="437.4" r="1.8" fill="#0a0a0a"/>
<circle cx="125.7" cy="428.0" r="1.8" fill="#0a0a0a"/>
<circle cx="126.0" cy="428.5" r="1.8" fill="#0a0a0a"/>
<circle cx="126.2" cy="434.6" r="1.8" fill="#0a0a0a"/>
<circle cx="126.6" cy="436.3" r="1.8" fill="#0a0a0a"/>
<circle cx="126.9" cy="437.9" r="1.8" fill="#0a0a0a"/>
<circle cx="127.4" cy="436.6" r="1.8" fill="#0a0a0a"/>
<circle cx="127.7" cy="436.7" r="1.8" fill="#0a0a0a"/>
<circle cx="128.1" cy="424.5" r="1.8" fill="#0a0a0a"/>
<circle cx="128.5" cy="431.9" r="1.8" fill="#0a0a0a"/>
<circle cx="129.0" cy="435.2" r="1.8" fill="#0a0a0a"/>
<circle cx="129.2" cy="427.8" r="1.8" fill="#0a0a0a"/>
<circle cx="129.4" cy="427.3" r="1.8" fill="#0a0a0a"/>
<circle cx="130.0" cy="431.0" r="1.8" fill="#0a0a0a"/>
<circle cx="130.1" cy="425.7" r="1.8" fill="#0a0a0a"/>
<circle cx="130.4" cy="420.8" r="1.8" fill="#0a0a0a"/>
<circle cx="131.0" cy="432.1" r="1.8" fill="#0a0a0a"/>
<circle cx="138.7" cy="418.3" r="1.8" fill="#0a0a0a"/>
<circle cx="139.9" cy="417.3" r="1.8" fill="#0a0a0a"/>
<circle cx="141.6" cy="414.9" r="1.8" fill="#0a0a0a"/>
<circle cx="144.2" cy="409.7" r="1.8" fill="#0a0a0a"/>
<circle cx="147.0" cy="412.1" r="1.8" fill="#0a0a0a"/>
<circle cx="148.2" cy="414.1" r="1.8" fill="#0a0a0a"/>
<circle cx="151.3" cy="417.6" r="1.8" fill="#0a0a0a"/>
<circle cx="153.4" cy="413.6" r="1.8" fill="#0a0a0a"/>
<circle cx="155.8" cy="409.8" r="1.8" fill="#0a0a0a"/>
<circle cx="156.3" cy="414.3" r="1.8" fill="#0a0a0a"/>
<circle cx="159.2" cy="409.4" r="1.8" fill="#0a0a0a"/>
<circle cx="160.2" cy="414.9" r="1.8" fill="#0a0a0a"/>
<circle cx="137.0" cy="430.7" r="1.8" fill="#0a0a0a"/>
<circle cx="137.2" cy="430.4" r="1.8" fill="#0a0a0a"/>
<circle cx="137.5" cy="442.8" r="1.8" fill="#0a0a0a"/>
<circle cx="137.7" cy="430.6" r="1.8" fill="#0a0a0a"/>
<circle cx="138.3" cy="432.4" r="1.8" fill="#0a0a0a"/>
<circle cx="138.6" cy="424.8" r="1.8" fill="#0a0a0a"/>
<circle cx="138.7" cy="426.4" r="1.8" fill="#0a0a0a"/>
<circle cx="139.1" cy="437.9" r="1.8" fill="#0a0a0a"/>
<circle cx="139.5" cy="424.9" r="1.8" fill="#0a0a0a"/>
<circle cx="139.8" cy="433.4" r="1.8" fill="#0a0a0a"/>
<circle cx="140.1" cy="436.1" r="1.8" fill="#0a0a0a"/>
<circle cx="140.5" cy="436.7" r="1.8" fill="#0a0a0a"/>
<circle cx="140.8" cy="443.5" r="1.8" fill="#0a0a0a"/>
<circle cx="141.2" cy="433.4" r="1.8" fill="#0a0a0a"/>
<circle cx="141.6" cy="431.7" r="1.8" fill="#0a0a0a"/>
<circle cx="141.7" cy="441.4" r="1.8" fill="#0a0a0a"/>
<circle cx="142.0" cy="442.5" r="1.8" fill="#0a0a0a"/>
<circle cx="142.4" cy="422.0" r="1.8" fill="#0a0a0a"/>
<circle cx="142.8" cy="446.1" r="1.8" fill="#0a0a0a"/>
<circle cx="143.2" cy="437.7" r="1.8" fill="#0a0a0a"/>
<circle cx="143.3" cy="428.0" r="1.8" fill="#0a0a0a"/>
<circle cx="143.7" cy="439.6" r="1.8" fill="#0a0a0a"/>
<circle cx="144.0" cy="432.9" r="1.8" fill="#0a0a0a"/>
<circle cx="144.3" cy="426.3" r="1.8" fill="#0a0a0a"/>
<circle cx="144.7" cy="443.4" r="1.8" fill="#0a0a0a"/>
<circle cx="145.0" cy="438.5" r="1.8" fill="#0a0a0a"/>
<circle cx="145.5" cy="430.8" r="1.8" fill="#0a0a0a"/>
<circle cx="145.6" cy="432.0" r="1.8" fill="#0a0a0a"/>
<circle cx="145.9" cy="446.9" r="1.8" fill="#0a0a0a"/>
<circle cx="146.4" cy="436.1" r="1.8" fill="#0a0a0a"/>
<circle cx="146.7" cy="448.5" r="1.8" fill="#0a0a0a"/>
<circle cx="147.1" cy="444.1" r="1.8" fill="#0a0a0a"/>
<circle cx="147.3" cy="447.7" r="1.8" fill="#0a0a0a"/>
<circle cx="147.8" cy="436.7" r="1.8" fill="#0a0a0a"/>
<circle cx="147.9" cy="436.1" r="1.8" fill="#0a0a0a"/>
<circle cx="148.4" cy="441.8" r="1.8" fill="#0a0a0a"/>
<circle cx="148.8" cy="442.0" r="1.8" fill="#0a0a0a"/>
<circle cx="149.0" cy="438.1" r="1.8" fill="#0a0a0a"/>
<circle cx="149.4" cy="435.8" r="1.8" fill="#0a0a0a"/>
<circle cx="149.7" cy="432.3" r="1.8" fill="#0a0a0a"/>
<circle cx="149.8" cy="432.8" r="1.8" fill="#0a0a0a"/>
<circle cx="150.4" cy="440.4" r="1.8" fill="#0a0a0a"/>
<circle cx="150.8" cy="441.5" r="1.8" fill="#0a0a0a"/>
<circle cx="150.8" cy="440.9" r="1.8" fill="#0a0a0a"/>
<circle cx="151.1" cy="447.3" r="1.8" fill="#0a0a0a"/>
<circle cx="151.6" cy="446.1" r="1.8" fill="#0a0a0a"/>
<circle cx="151.9" cy="438.6" r="1.8" fill="#0a0a0a"/>
<circle cx="152.3" cy="439.2" r="1.8" fill="#0a0a0a"/>
<circle cx="152.7" cy="420.3" r="1.8" fill="#0a0a0a"/>
<circle cx="153.0" cy="436.1" r="1.8" fill="#0a0a0a"/>
<circle cx="153.3" cy="444.0" r="1.8" fill="#0a0a0a"/>
<circle cx="153.6" cy="437.3" r="1.8" fill="#0a0a0a"/>
<circle cx="153.8" cy="439.2" r="1.8" fill="#0a0a0a"/>
<circle cx="154.4" cy="442.6" r="1.8" fill="#0a0a0a"/>
<circle cx="154.4" cy="431.6" r="1.8" fill="#0a0a0a"/>
<circle cx="154.8" cy="436.0" r="1.8" fill="#0a0a0a"/>
<circle cx="155.2" cy="431.2" r="1.8" fill="#0a0a0a"/>
<circle cx="155.6" cy="444.9" r="1.8" fill="#0a0a0a"/>
<circle cx="156.0" cy="432.0" r="1.8" fill="#0a0a0a"/>
<circle cx="156.2" cy="434.0" r="1.8" fill="#0a0a0a"/>
<circle cx="156.6" cy="435.7" r="1.8" fill="#0a0a0a"/>
<circle cx="156.8" cy="429.6" r="1.8" fill="#0a0a0a"/>
<circle cx="157.3" cy="441.9" r="1.8" fill="#0a0a0a"/>
<circle cx="157.5" cy="436.9" r="1.8" fill="#0a0a0a"/>
<circle cx="157.9" cy="425.9" r="1.8" fill="#0a0a0a"/>
<circle cx="158.2" cy="431.8" r="1.8" fill="#0a0a0a"/>
<circle cx="158.4" cy="418.4" r="1.8" fill="#0a0a0a"/>
<circle cx="158.9" cy="433.7" r="1.8" fill="#0a0a0a"/>
<circle cx="159.1" cy="431.1" r="1.8" fill="#0a0a0a"/>
<circle cx="159.5" cy="442.4" r="1.8" fill="#0a0a0a"/>
<circle cx="159.8" cy="437.0" r="1.8" fill="#0a0a0a"/>
<circle cx="160.0" cy="417.1" r="1.8" fill="#0a0a0a"/>
<circle cx="160.5" cy="430.1" r="1.8" fill="#0a0a0a"/>
<circle cx="160.7" cy="423.9" r="1.8" fill="#0a0a0a"/>
<circle cx="161.0" cy="425.8" r="1.8" fill="#0a0a0a"/>
<circle cx="161.3" cy="425.4" r="1.8" fill="#0a0a0a"/>
<circle cx="161.7" cy="420.2" r="1.8" fill="#0a0a0a"/>
<circle cx="162.3" cy="435.0" r="1.8" fill="#0a0a0a"/>
<circle cx="169.1" cy="421.4" r="1.8" fill="#0a0a0a"/>
<circle cx="170.1" cy="423.0" r="1.8" fill="#0a0a0a"/>
<circle cx="172.6" cy="422.4" r="1.8" fill="#0a0a0a"/>
<circle cx="173.2" cy="420.8" r="1.8" fill="#0a0a0a"/>
<circle cx="174.8" cy="420.3" r="1.8" fill="#0a0a0a"/>
<circle cx="176.5" cy="422.3" r="1.8" fill="#0a0a0a"/>
<circle cx="177.8" cy="418.6" r="1.8" fill="#0a0a0a"/>
<circle cx="179.9" cy="419.8" r="1.8" fill="#0a0a0a"/>
<circle cx="182.0" cy="419.8" r="1.8" fill="#0a0a0a"/>
<circle cx="183.5" cy="420.2" r="1.8" fill="#0a0a0a"/>
<circle cx="185.3" cy="420.3" r="1.8" fill="#0a0a0a"/>
<circle cx="186.3" cy="420.6" r="1.8" fill="#0a0a0a"/>
<circle cx="187.9" cy="416.6" r="1.8" fill="#0a0a0a"/>
<circle cx="189.7" cy="418.4" r="1.8" fill="#0a0a0a"/>
<circle cx="191.5" cy="421.6" r="1.8" fill="#0a0a0a"/>
<circle cx="193.1" cy="420.4" r="1.8" fill="#0a0a0a"/>
<circle cx="167.9" cy="424.8" r="1.8" fill="#0a0a0a"/>
<circle cx="168.4" cy="425.1" r="1.8" fill="#0a0a0a"/>
<circle cx="168.8" cy="429.1" r="1.8" fill="#0a0a0a"/>
<circle cx="169.2" cy="432.9" r="1.8" fill="#0a0a0a"/>
<circle cx="169.6" cy="435.2" r="1.8" fill="#0a0a0a"/>
<circle cx="169.8" cy="439.8" r="1.8" fill="#0a0a0a"/>
<circle cx="170.2" cy="437.6" r="1.8" fill="#0a0a0a"/>
<circle cx="170.6" cy="440.0" r="1.8" fill="#0a0a0a"/>
<circle cx="170.8" cy="438.2" r="1.8" fill="#0a0a0a"/>
<circle cx="171.0" cy="437.9" r="1.8" fill="#0a0a0a"/>
<circle cx="171.4" cy="430.5" r="1.8" fill="#0a0a0a"/>
<circle cx="172.0" cy="429.5" r="1.8" fill="#0a0a0a"/>
<circle cx="172.1" cy="431.5" r="1.8" fill="#0a0a0a"/>
<circle cx="172.6" cy="423.9" r="1.8" fill="#0a0a0a"/>
<circle cx="172.8" cy="432.4" r="1.8" fill="#0a0a0a"/>
<circle cx="173.1" cy="433.2" r="1.8" fill="#0a0a0a"/>
<circle cx="173.5" cy="440.6" r="1.8" fill="#0a0a0a"/>
<circle cx="173.9" cy="434.7" r="1.8" fill="#0a0a0a"/>
<circle cx="174.4" cy="433.6" r="1.8" fill="#0a0a0a"/>
<circle cx="174.5" cy="429.7" r="1.8" fill="#0a0a0a"/>
<circle cx="175.1" cy="435.5" r="1.8" fill="#0a0a0a"/>
<circle cx="175.5" cy="440.6" r="1.8" fill="#0a0a0a"/>
<circle cx="175.5" cy="437.1" r="1.8" fill="#0a0a0a"/>
<circle cx="176.0" cy="434.1" r="1.8" fill="#0a0a0a"/>
<circle cx="176.3" cy="435.6" r="1.8" fill="#0a0a0a"/>
<circle cx="176.9" cy="434.6" r="1.8" fill="#0a0a0a"/>
<circle cx="176.9" cy="444.3" r="1.8" fill="#0a0a0a"/>
<circle cx="177.5" cy="432.2" r="1.8" fill="#0a0a0a"/>
<circle cx="177.8" cy="431.7" r="1.8" fill="#0a0a0a"/>
<circle cx="178.1" cy="444.6" r="1.8" fill="#0a0a0a"/>
<circle cx="178.5" cy="438.4" r="1.8" fill="#0a0a0a"/>
<circle cx="178.7" cy="439.9" r="1.8" fill="#0a0a0a"/>
<circle cx="179.0" cy="428.8" r="1.8" fill="#0a0a0a"/>
<circle cx="179.4" cy="443.2" r="1.8" fill="#0a0a0a"/>
<circle cx="179.9" cy="432.2" r="1.8" fill="#0a0a0a"/>
<circle cx="180.3" cy="430.6" r="1.8" fill="#0a0a0a"/>
<circle cx="180.6" cy="446.4" r="1.8" fill="#0a0a0a"/>
<circle cx="180.9" cy="434.4" r="1.8" fill="#0a0a0a"/>
<circle cx="181.1" cy="436.8" r="1.8" fill="#0a0a0a"/>
<circle cx="181.5" cy="441.7" r="1.8" fill="#0a0a0a"/>
<circle cx="181.8" cy="441.8" r="1.8" fill="#0a0a0a"/>
<circle cx="182.3" cy="438.1" r="1.8" fill="#0a0a0a"/>
<circle cx="182.4" cy="434.2" r="1.8" fill="#0a0a0a"/>
<circle cx="182.8" cy="438.1" r="1.8" fill="#0a0a0a"/>
<circle cx="183.3" cy="432.0" r="1.8" fill="#0a0a0a"/>
<circle cx="183.6" cy="432.0" r="1.8" fill="#0a0a0a"/>
<circle cx="183.9" cy="438.0" r="1.8" fill="#0a0a0a"/>
<circle cx="184.3" cy="434.8" r="1.8" fill="#0a0a0a"/>
<circle cx="184.5" cy="436.1" r="1.8" fill="#0a0a0a"/>
<circle cx="185.0" cy="428.6" r="1.8" fill="#0a0a0a"/>
<circle cx="185.3" cy="440.7" r="1.8" fill="#0a0a0a"/>
<circle cx="185.8" cy="442.8" r="1.8" fill="#0a0a0a"/>
<circle cx="185.9" cy="442.2" r="1.8" fill="#0a0a0a"/>
<circle cx="186.4" cy="430.8" r="1.8" fill="#0a0a0a"/>
<circle cx="186.9" cy="436.7" r="1.8" fill="#0a0a0a"/>
<circle cx="187.2" cy="437.0" r="1.8" fill="#0a0a0a"/>
<circle cx="187.3" cy="431.4" r="1.8" fill="#0a0a0a"/>
<circle cx="187.9" cy="433.3" r="1.8" fill="#0a0a0a"/>
<circle cx="188.0" cy="443.8" r="1.8" fill="#0a0a0a"/>
<circle cx="188.5" cy="437.6" r="1.8" fill="#0a0a0a"/>
<circle cx="188.9" cy="442.5" r="1.8" fill="#0a0a0a"/>
<circle cx="189.2" cy="430.5" r="1.8" fill="#0a0a0a"/>
<circle cx="189.4" cy="435.9" r="1.8" fill="#0a0a0a"/>
<circle cx="189.7" cy="425.9" r="1.8" fill="#0a0a0a"/>
<circle cx="190.3" cy="439.4" r="1.8" fill="#0a0a0a"/>
<circle cx="190.6" cy="430.9" r="1.8" fill="#0a0a0a"/>
<circle cx="191.0" cy="424.8" r="1.8" fill="#0a0a0a"/>
<circle cx="191.2" cy="434.4" r="1.8" fill="#0a0a0a"/>
<circle cx="191.6" cy="427.8" r="1.8" fill="#0a0a0a"/>
<circle cx="191.7" cy="434.1" r="1.8" fill="#0a0a0a"/>
<circle cx="192.4" cy="431.7" r="1.8" fill="#0a0a0a"/>
<circle cx="192.7" cy="434.5" r="1.8" fill="#0a0a0a"/>
<circle cx="192.9" cy="438.0" r="1.8" fill="#0a0a0a"/>
<circle cx="193.3" cy="429.5" r="1.8" fill="#0a0a0a"/>
<circle cx="199.9" cy="425.7" r="1.8" fill="#0a0a0a"/>
<circle cx="202.1" cy="426.1" r="1.8" fill="#0a0a0a"/>
<circle cx="202.8" cy="428.9" r="1.8" fill="#0a0a0a"/>
<circle cx="205.3" cy="425.5" r="1.8" fill="#0a0a0a"/>
<circle cx="206.6" cy="421.1" r="1.8" fill="#0a0a0a"/>
<circle cx="207.5" cy="421.4" r="1.8" fill="#0a0a0a"/>
<circle cx="209.6" cy="422.8" r="1.8" fill="#0a0a0a"/>
<circle cx="211.0" cy="421.6" r="1.8" fill="#0a0a0a"/>
<circle cx="212.6" cy="419.6" r="1.8" fill="#0a0a0a"/>
<circle cx="214.6" cy="419.4" r="1.8" fill="#0a0a0a"/>
<circle cx="215.9" cy="418.3" r="1.8" fill="#0a0a0a"/>
<circle cx="217.3" cy="419.0" r="1.8" fill="#0a0a0a"/>
<circle cx="218.6" cy="420.4" r="1.8" fill="#0a0a0a"/>
<circle cx="221.4" cy="416.7" r="1.8" fill="#0a0a0a"/>
<circle cx="222.5" cy="415.6" r="1.8" fill="#0a0a0a"/>
<circle cx="224.3" cy="411.7" r="1.8" fill="#0a0a0a"/>
<circle cx="199.1" cy="437.5" r="1.8" fill="#0a0a0a"/>
<circle cx="199.7" cy="430.8" r="1.8" fill="#0a0a0a"/>
<circle cx="200.1" cy="429.2" r="1.8" fill="#0a0a0a"/>
<circle cx="200.1" cy="441.8" r="1.8" fill="#0a0a0a"/>
<circle cx="200.6" cy="441.0" r="1.8" fill="#0a0a0a"/>
<circle cx="200.9" cy="436.5" r="1.8" fill="#0a0a0a"/>
<circle cx="201.5" cy="436.5" r="1.8" fill="#0a0a0a"/>
<circle cx="201.8" cy="433.0" r="1.8" fill="#0a0a0a"/>
<circle cx="201.9" cy="437.1" r="1.8" fill="#0a0a0a"/>
<circle cx="202.2" cy="439.9" r="1.8" fill="#0a0a0a"/>
<circle cx="202.8" cy="430.7" r="1.8" fill="#0a0a0a"/>
<circle cx="203.2" cy="442.6" r="1.8" fill="#0a0a0a"/>
<circle cx="203.2" cy="429.7" r="1.8" fill="#0a0a0a"/>
<circle cx="203.6" cy="439.4" r="1.8" fill="#0a0a0a"/>
<circle cx="203.9" cy="432.0" r="1.8" fill="#0a0a0a"/>
<circle cx="204.5" cy="441.0" r="1.8" fill="#0a0a0a"/>
<circle cx="204.7" cy="434.7" r="1.8" fill="#0a0a0a"/>
<circle cx="205.1" cy="429.4" r="1.8" fill="#0a0a0a"/>
<circle cx="205.4" cy="436.8" r="1.8" fill="#0a0a0a"/>
<circle cx="205.7" cy="432.6" r="1.8" fill="#0a0a0a"/>
<circle cx="206.0" cy="433.1" r="1.8" fill="#0a0a0a"/>
<circle cx="206.5" cy="430.7" r="1.8" fill="#0a0a0a"/>
<circle cx="207.0" cy="426.8" r="1.8" fill="#0a0a0a"/>
<circle cx="207.3" cy="436.6" r="1.8" fill="#0a0a0a"/>
<circle cx="207.5" cy="437.8" r="1.8" fill="#0a0a0a"/>
<circle cx="207.9" cy="437.1" r="1.8" fill="#0a0a0a"/>
<circle cx="208.3" cy="436.8" r="1.8" fill="#0a0a0a"/>
<circle cx="208.4" cy="437.5" r="1.8" fill="#0a0a0a"/>
<circle cx="208.9" cy="440.4" r="1.8" fill="#0a0a0a"/>
<circle cx="209.2" cy="429.5" r="1.8" fill="#0a0a0a"/>
<circle cx="209.6" cy="425.9" r="1.8" fill="#0a0a0a"/>
<circle cx="210.1" cy="429.0" r="1.8" fill="#0a0a0a"/>
<circle cx="210.1" cy="434.5" r="1.8" fill="#0a0a0a"/>
<circle cx="210.7" cy="427.5" r="1.8" fill="#0a0a0a"/>
<circle cx="211.0" cy="435.8" r="1.8" fill="#0a0a0a"/>
<circle cx="211.3" cy="425.6" r="1.8" fill="#0a0a0a"/>
<circle cx="211.7" cy="434.9" r="1.8" fill="#0a0a0a"/>
<circle cx="212.1" cy="429.4" r="1.8" fill="#0a0a0a"/>
<circle cx="212.2" cy="429.3" r="1.8" fill="#0a0a0a"/>
<circle cx="212.7" cy="427.8" r="1.8" fill="#0a0a0a"/>
<circle cx="212.9" cy="433.9" r="1.8" fill="#0a0a0a"/>
<circle cx="213.4" cy="425.0" r="1.8" fill="#0a0a0a"/>
<circle cx="213.9" cy="426.2" r="1.8" fill="#0a0a0a"/>
<circle cx="213.9" cy="424.7" r="1.8" fill="#0a0a0a"/>
<circle cx="214.5" cy="436.8" r="1.8" fill="#0a0a0a"/>
<circle cx="214.7" cy="432.7" r="1.8" fill="#0a0a0a"/>
<circle cx="215.1" cy="427.5" r="1.8" fill="#0a0a0a"/>
<circle cx="215.5" cy="423.7" r="1.8" fill="#0a0a0a"/>
<circle cx="215.9" cy="436.5" r="1.8" fill="#0a0a0a"/>
<circle cx="216.1" cy="436.4" r="1.8" fill="#0a0a0a"/>
<circle cx="216.6" cy="426.0" r="1.8" fill="#0a0a0a"/>
<circle cx="216.7" cy="426.3" r="1.8" fill="#0a0a0a"/>
<circle cx="217.2" cy="425.2" r="1.8" fill="#0a0a0a"/>
<circle cx="217.7" cy="426.0" r="1.8" fill="#0a0a0a"/>
<circle cx="217.7" cy="421.0" r="1.8" fill="#0a0a0a"/>
<circle cx="218.2" cy="428.7" r="1.8" fill="#0a0a0a"/>
<circle cx="218.7" cy="425.3" r="1.8" fill="#0a0a0a"/>
<circle cx="218.9" cy="434.0" r="1.8" fill="#0a0a0a"/>
<circle cx="219.4" cy="419.4" r="1.8" fill="#0a0a0a"/>
<circle cx="219.8" cy="426.2" r="1.8" fill="#0a0a0a"/>
<circle cx="220.0" cy="418.9" r="1.8" fill="#0a0a0a"/>
<circle cx="220.3" cy="419.6" r="1.8" fill="#0a0a0a"/>
<circle cx="220.6" cy="429.2" r="1.8" fill="#0a0a0a"/>
<circle cx="221.1" cy="430.7" r="1.8" fill="#0a0a0a"/>
<circle cx="221.3" cy="423.1" r="1.8" fill="#0a0a0a"/>
<circle cx="221.8" cy="421.0" r="1.8" fill="#0a0a0a"/>
<circle cx="222.0" cy="421.6" r="1.8" fill="#0a0a0a"/>
<circle cx="222.4" cy="430.5" r="1.8" fill="#0a0a0a"/>
<circle cx="222.7" cy="428.6" r="1.8" fill="#0a0a0a"/>
<circle cx="223.1" cy="431.4" r="1.8" fill="#0a0a0a"/>
<circle cx="223.3" cy="427.4" r="1.8" fill="#0a0a0a"/>
<circle cx="223.6" cy="422.9" r="1.8" fill="#0a0a0a"/>
<circle cx="224.1" cy="420.6" r="1.8" fill="#0a0a0a"/>
<circle cx="224.4" cy="426.6" r="1.8" fill="#0a0a0a"/>
<circle cx="230.4" cy="415.8" r="1.8" fill="#0a0a0a"/>
<circle cx="232.1" cy="419.2" r="1.8" fill="#0a0a0a"/>
<circle cx="234.4" cy="415.2" r="1.8" fill="#0a0a0a"/>
<circle cx="236.1" cy="412.5" r="1.8" fill="#0a0a0a"/>
<circle cx="236.7" cy="413.6" r="1.8" fill="#0a0a0a"/>
<circle cx="238.3" cy="416.7" r="1.8" fill="#0a0a0a"/>
<circle cx="240.5" cy="417.4" r="1.8" fill="#0a0a0a"/>
<circle cx="242.4" cy="415.0" r="1.8" fill="#0a0a0a"/>
<circle cx="243.8" cy="412.6" r="1.8" fill="#0a0a0a"/>
<circle cx="244.7" cy="415.1" r="1.8" fill="#0a0a0a"/>
<circle cx="246.8" cy="415.4" r="1.8" fill="#0a0a0a"/>
<circle cx="248.2" cy="410.2" r="1.8" fill="#0a0a0a"/>
<circle cx="250.5" cy="412.9" r="1.8" fill="#0a0a0a"/>
<circle cx="252.0" cy="414.0" r="1.8" fill="#0a0a0a"/>
<circle cx="254.1" cy="408.4" r="1.8" fill="#0a0a0a"/>
<circle cx="255.7" cy="412.9" r="1.8" fill="#0a0a0a"/>
<circle cx="230.5" cy="432.1" r="1.8" fill="#0a0a0a"/>
<circle cx="230.7" cy="436.0" r="1.8" fill="#0a0a0a"/>
<circle cx="231.0" cy="438.8" r="1.8" fill="#0a0a0a"/>
<circle cx="231.4" cy="428.3" r="1.8" fill="#0a0a0a"/>
<circle cx="231.7" cy="424.9" r="1.8" fill="#0a0a0a"/>
<circle cx="232.0" cy="433.5" r="1.8" fill="#0a0a0a"/>
<circle cx="232.4" cy="431.2" r="1.8" fill="#0a0a0a"/>
<circle cx="232.8" cy="437.9" r="1.8" fill="#0a0a0a"/>
<circle cx="233.1" cy="429.7" r="1.8" fill="#0a0a0a"/>
<circle cx="233.6" cy="436.0" r="1.8" fill="#0a0a0a"/>
<circle cx="234.0" cy="424.8" r="1.8" fill="#0a0a0a"/>
<circle cx="234.2" cy="427.8" r="1.8" fill="#0a0a0a"/>
<circle cx="234.6" cy="427.5" r="1.8" fill="#0a0a0a"/>
<circle cx="234.9" cy="417.9" r="1.8" fill="#0a0a0a"/>
<circle cx="235.1" cy="438.4" r="1.8" fill="#0a0a0a"/>
<circle cx="235.6" cy="426.7" r="1.8" fill="#0a0a0a"/>
<circle cx="236.1" cy="423.4" r="1.8" fill="#0a0a0a"/>
<circle cx="236.2" cy="439.4" r="1.8" fill="#0a0a0a"/>
<circle cx="236.7" cy="429.8" r="1.8" fill="#0a0a0a"/>
<circle cx="237.1" cy="436.9" r="1.8" fill="#0a0a0a"/>
<circle cx="237.4" cy="437.7" r="1.8" fill="#0a0a0a"/>
<circle cx="237.6" cy="436.8" r="1.8" fill="#0a0a0a"/>
<circle cx="237.9" cy="421.0" r="1.8" fill="#0a0a0a"/>
<circle cx="238.2" cy="437.6" r="1.8" fill="#0a0a0a"/>
<circle cx="238.7" cy="436.3" r="1.8" fill="#0a0a0a"/>
<circle cx="238.9" cy="422.7" r="1.8" fill="#0a0a0a"/>
<circle cx="239.5" cy="431.2" r="1.8" fill="#0a0a0a"/>
<circle cx="239.7" cy="432.5" r="1.8" fill="#0a0a0a"/>
<circle cx="240.2" cy="441.7" r="1.8" fill="#0a0a0a"/>
<circle cx="240.5" cy="445.4" r="1.8" fill="#0a0a0a"/>
<circle cx="240.8" cy="435.9" r="1.8" fill="#0a0a0a"/>
<circle cx="241.0" cy="443.3" r="1.8" fill="#0a0a0a"/>
<circle cx="241.5" cy="425.7" r="1.8" fill="#0a0a0a"/>
<circle cx="241.7" cy="437.5" r="1.8" fill="#0a0a0a"/>
<circle cx="242.1" cy="416.0" r="1.8" fill="#0a0a0a"/>
<circle cx="242.6" cy="419.5" r="1.8" fill="#0a0a0a"/>
<circle cx="242.8" cy="445.1" r="1.8" fill="#0a0a0a"/>
<circle cx="243.2" cy="442.3" r="1.8" fill="#0a0a0a"/>
<circle cx="243.4" cy="434.8" r="1.8" fill="#0a0a0a"/>
<circle cx="244.0" cy="440.8" r="1.8" fill="#0a0a0a"/>
<circle cx="244.2" cy="418.7" r="1.8" fill="#0a0a0a"/>
<circle cx="244.4" cy="423.2" r="1.8" fill="#0a0a0a"/>
<circle cx="245.0" cy="429.3" r="1.8" fill="#0a0a0a"/>
<circle cx="245.4" cy="421.1" r="1.8" fill="#0a0a0a"/>
<circle cx="245.7" cy="439.4" r="1.8" fill="#0a0a0a"/>
<circle cx="246.1" cy="438.0" r="1.8" fill="#0a0a0a"/>
<circle cx="246.2" cy="441.4" r="1.8" fill="#0a0a0a"/>
<circle cx="246.8" cy="421.6" r="1.8" fill="#0a0a0a"/>
<circle cx="246.9" cy="429.4" r="1.8" fill="#0a0a0a"/>
<circle cx="247.3" cy="436.1" r="1.8" fill="#0a0a0a"/>
<circle cx="247.6" cy="440.3" r="1.8" fill="#0a0a0a"/>
<circle cx="248.1" cy="425.5" r="1.8" fill="#0a0a0a"/>
<circle cx="248.4" cy="435.5" r="1.8" fill="#0a0a0a"/>
<circle cx="248.7" cy="426.9" r="1.8" fill="#0a0a0a"/>
<circle cx="249.0" cy="425.2" r="1.8" fill="#0a0a0a"/>
<circle cx="249.6" cy="426.2" r="1.8" fill="#0a0a0a"/>
<circle cx="249.6" cy="438.5" r="1.8" fill="#0a0a0a"/>
<circle cx="250.1" cy="435.1" r="1.8" fill="#0a0a0a"/>
<circle cx="250.4" cy="434.1" r="1.8" fill="#0a0a0a"/>
<circle cx="250.8" cy="438.9" r="1.8" fill="#0a0a0a"/>
<circle cx="251.2" cy="426.0" r="1.8" fill="#0a0a0a"/>
<circle cx="251.6" cy="435.2" r="1.8" fill="#0a0a0a"/>
<circle cx="251.8" cy="430.7" r="1.8" fill="#0a0a0a"/>
<circle cx="252.2" cy="432.2" r="1.8" fill="#0a0a0a"/>
<circle cx="252.5" cy="420.8" r="1.8" fill="#0a0a0a"/>
<circle cx="252.7" cy="429.2" r="1.8" fill="#0a0a0a"/>
<circle cx="253.3" cy="428.9" r="1.8" fill="#0a0a0a"/>
<circle cx="253.7" cy="430.5" r="1.8" fill="#0a0a0a"/>
<circle cx="254.0" cy="433.8" r="1.8" fill="#0a0a0a"/>
<circle cx="254.4" cy="425.7" r="1.8" fill="#0a0a0a"/>
<circle cx="254.7" cy="428.9" r="1.8" fill="#0a0a0a"/>
<circle cx="255.0" cy="430.8" r="1.8" fill="#0a0a0a"/>
<circle cx="255.4" cy="418.8" r="1.8" fill="#0a0a0a"/>
<circle cx="255.8" cy="415.9" r="1.8" fill="#0a0a0a"/>
<circle cx="262.4" cy="417.6" r="1.8" fill="#0a0a0a"/>
<circle cx="264.3" cy="416.4" r="1.8" fill="#0a0a0a"/>
<circle cx="265.4" cy="415.4" r="1.8" fill="#0a0a0a"/>
<circle cx="267.6" cy="418.4" r="1.8" fill="#0a0a0a"/>
<circle cx="269.0" cy="411.0" r="1.8" fill="#0a0a0a"/>
<circle cx="270.7" cy="413.6" r="1.8" fill="#0a0a0a"/>
<circle cx="271.2" cy="414.2" r="1.8" fill="#0a0a0a"/>
<circle cx="272.7" cy="415.3" r="1.8" fill="#0a0a0a"/>
<circle cx="274.8" cy="416.9" r="1.8" fill="#0a0a0a"/>
<circle cx="276.0" cy="411.7" r="1.8" fill="#0a0a0a"/>
<circle cx="277.7" cy="411.5" r="1.8" fill="#0a0a0a"/>
<circle cx="280.0" cy="416.5" r="1.8" fill="#0a0a0a"/>
<circle cx="282.0" cy="419.0" r="1.8" fill="#0a0a0a"/>
<circle cx="282.5" cy="416.4" r="1.8" fill="#0a0a0a"/>
<circle cx="284.8" cy="415.9" r="1.8" fill="#0a0a0a"/>
<circle cx="285.7" cy="411.6" r="1.8" fill="#0a0a0a"/>
<circle cx="261.6" cy="428.2" r="1.8" fill="#0a0a0a"/>
<circle cx="262.0" cy="424.7" r="1.8" fill="#0a0a0a"/>
<circle cx="262.3" cy="423.5" r="1.8" fill="#0a0a0a"/>
<circle cx="262.5" cy="422.1" r="1.8" fill="#0a0a0a"/>
<circle cx="263.0" cy="428.2" r="1.8" fill="#0a0a0a"/>
<circle cx="263.4" cy="430.2" r="1.8" fill="#0a0a0a"/>
<circle cx="263.6" cy="422.6" r="1.8" fill="#0a0a0a"/>
<circle cx="264.0" cy="429.9" r="1.8" fill="#0a0a0a"/>
<circle cx="264.5" cy="428.4" r="1.8" fill="#0a0a0a"/>
<circle cx="264.6" cy="438.8" r="1.8" fill="#0a0a0a"/>
<circle cx="265.2" cy="434.2" r="1.8" fill="#0a0a0a"/>
<circle cx="265.5" cy="435.1" r="1.8" fill="#0a0a0a"/>
<circle cx="265.6" cy="430.8" r="1.8" fill="#0a0a0a"/>
<circle cx="266.0" cy="437.7" r="1.8" fill="#0a0a0a"/>
<circle cx="266.3" cy="432.4" r="1.8" fill="#0a0a0a"/>
<circle cx="266.7" cy="431.3" r="1.8" fill="#0a0a0a"/>
<circle cx="267.2" cy="435.2" r="1.8" fill="#0a0a0a"/>
<circle cx="267.3" cy="430.8" r="1.8" fill="#0a0a0a"/>
<circle cx="267.9" cy="436.6" r="1.8" fill="#0a0a0a"/>
<circle cx="268.0" cy="438.2" r="1.8" fill="#0a0a0a"/>
<circle cx="268.4" cy="433.1" r="1.8" fill="#0a0a0a"/>
<circle cx="269.0" cy="444.9" r="1.8" fill="#0a0a0a"/>
<circle cx="269.1" cy="440.4" r="1.8" fill="#0a0a0a"/>
<circle cx="269.4" cy="433.0" r="1.8" fill="#0a0a0a"/>
<circle cx="269.9" cy="429.3" r="1.8" fill="#0a0a0a"/>
<circle cx="270.1" cy="432.7" r="1.8" fill="#0a0a0a"/>
<circle cx="270.4" cy="427.0" r="1.8" fill="#0a0a0a"/>
<circle cx="270.8" cy="440.4" r="1.8" fill="#0a0a0a"/>
<circle cx="271.4" cy="426.6" r="1.8" fill="#0a0a0a"/>
<circle cx="271.8" cy="425.3" r="1.8" fill="#0a0a0a"/>
<circle cx="272.0" cy="436.9" r="1.8" fill="#0a0a0a"/>
<circle cx="272.3" cy="427.8" r="1.8" fill="#0a0a0a"/>
<circle cx="272.5" cy="425.4" r="1.8" fill="#0a0a0a"/>
<circle cx="272.9" cy="421.2" r="1.8" fill="#0a0a0a"/>
<circle cx="273.3" cy="435.0" r="1.8" fill="#0a0a0a"/>
<circle cx="273.8" cy="428.1" r="1.8" fill="#0a0a0a"/>
<circle cx="274.0" cy="432.1" r="1.8" fill="#0a0a0a"/>
<circle cx="274.3" cy="422.7" r="1.8" fill="#0a0a0a"/>
<circle cx="274.8" cy="439.5" r="1.8" fill="#0a0a0a"/>
<circle cx="274.9" cy="426.0" r="1.8" fill="#0a0a0a"/>
<circle cx="275.6" cy="437.8" r="1.8" fill="#0a0a0a"/>
<circle cx="275.6" cy="429.7" r="1.8" fill="#0a0a0a"/>
<circle cx="276.2" cy="430.0" r="1.8" fill="#0a0a0a"/>
<circle cx="276.6" cy="436.0" r="1.8" fill="#0a0a0a"/>
<circle cx="276.9" cy="431.9" r="1.8" fill="#0a0a0a"/>
<circle cx="277.1" cy="434.1" r="1.8" fill="#0a0a0a"/>
<circle cx="277.4" cy="432.6" r="1.8" fill="#0a0a0a"/>
<circle cx="277.7" cy="434.7" r="1.8" fill="#0a0a0a"/>
<circle cx="278.1" cy="428.7" r="1.8" fill="#0a0a0a"/>
<circle cx="278.5" cy="428.5" r="1.8" fill="#0a0a0a"/>
<circle cx="278.9" cy="431.1" r="1.8" fill="#0a0a0a"/>
<circle cx="279.4" cy="431.5" r="1.8" fill="#0a0a0a"/>
<circle cx="279.5" cy="428.2" r="1.8" fill="#0a0a0a"/>
<circle cx="279.9" cy="432.4" r="1.8" fill="#0a0a0a"/>
<circle cx="280.1" cy="423.9" r="1.8" fill="#0a0a0a"/>
<circle cx="280.6" cy="439.5" r="1.8" fill="#0a0a0a"/>
<circle cx="280.9" cy="437.3" r="1.8" fill="#0a0a0a"/>
<circle cx="281.2" cy="429.2" r="1.8" fill="#0a0a0a"/>
<circle cx="281.7" cy="430.4" r="1.8" fill="#0a0a0a"/>
<circle cx="282.0" cy="439.2" r="1.8" fill="#0a0a0a"/>
<circle cx="282.2" cy="433.0" r="1.8" fill="#0a0a0a"/>
<circle cx="282.6" cy="432.7" r="1.8" fill="#0a0a0a"/>
<circle cx="283.2" cy="421.2" r="1.8" fill="#0a0a0a"/>
<circle cx="283.3" cy="428.0" r="1.8" fill="#0a0a0a"/>
<circle cx="283.6" cy="426.0" r="1.8" fill="#0a0a0a"/>
<circle cx="284.2" cy="431.5" r="1.8" fill="#0a0a0a"/>
<circle cx="284.3" cy="420.3" r="1.8" fill="#0a0a0a"/>
<circle cx="284.9" cy="424.1" r="1.8" fill="#0a0a0a"/>
<circle cx="285.1" cy="434.8" r="1.8" fill="#0a0a0a"/>
<circle cx="285.3" cy="427.3" r="1.8" fill="#0a0a0a"/>
<circle cx="285.8" cy="433.0" r="1.8" fill="#0a0a0a"/>
<circle cx="286.2" cy="418.5" r="1.8" fill="#0a0a0a"/>
<circle cx="286.4" cy="427.8" r="1.8" fill="#0a0a0a"/>
<circle cx="286.8" cy="427.8" r="1.8" fill="#0a0a0a"/>
<circle cx="293.4" cy="420.8" r="1.8" fill="#0a0a0a"/>
<circle cx="295.5" cy="421.9" r="1.8" fill="#0a0a0a"/>
<circle cx="298.1" cy="418.8" r="1.8" fill="#0a0a0a"/>
<circle cx="299.7" cy="423.5" r="1.8" fill="#0a0a0a"/>
<circle cx="302.6" cy="422.8" r="1.8" fill="#0a0a0a"/>
<circle cx="304.8" cy="423.7" r="1.8" fill="#0a0a0a"/>
<circle cx="306.6" cy="422.4" r="1.8" fill="#0a0a0a"/>
<circle cx="309.3" cy="422.8" r="1.8" fill="#0a0a0a"/>
<circle cx="310.5" cy="421.8" r="1.8" fill="#0a0a0a"/>
<circle cx="313.1" cy="420.4" r="1.8" fill="#0a0a0a"/>
<circle cx="315.1" cy="425.1" r="1.8" fill="#0a0a0a"/>
<circle cx="317.0" cy="421.2" r="1.8" fill="#0a0a0a"/>
<circle cx="292.7" cy="429.5" r="1.8" fill="#0a0a0a"/>
<circle cx="293.2" cy="425.5" r="1.8" fill="#0a0a0a"/>
<circle cx="293.4" cy="435.3" r="1.8" fill="#0a0a0a"/>
<circle cx="293.8" cy="440.3" r="1.8" fill="#0a0a0a"/>
<circle cx="294.2" cy="430.4" r="1.8" fill="#0a0a0a"/>
<circle cx="294.3" cy="440.7" r="1.8" fill="#0a0a0a"/>
<circle cx="294.8" cy="442.7" r="1.8" fill="#0a0a0a"/>
<circle cx="295.1" cy="431.4" r="1.8" fill="#0a0a0a"/>
<circle cx="295.4" cy="431.8" r="1.8" fill="#0a0a0a"/>
<circle cx="295.6" cy="432.6" r="1.8" fill="#0a0a0a"/>
<circle cx="295.9" cy="436.1" r="1.8" fill="#0a0a0a"/>
<circle cx="296.4" cy="444.1" r="1.8" fill="#0a0a0a"/>
<circle cx="296.8" cy="442.8" r="1.8" fill="#0a0a0a"/>
<circle cx="297.0" cy="439.6" r="1.8" fill="#0a0a0a"/>
<circle cx="297.4" cy="434.2" r="1.8" fill="#0a0a0a"/>
<circle cx="297.8" cy="432.7" r="1.8" fill="#0a0a0a"/>
<circle cx="298.0" cy="442.8" r="1.8" fill="#0a0a0a"/>
<circle cx="298.3" cy="431.9" r="1.8" fill="#0a0a0a"/>
<circle cx="298.5" cy="446.0" r="1.8" fill="#0a0a0a"/>
<circle cx="298.8" cy="439.0" r="1.8" fill="#0a0a0a"/>
<circle cx="299.5" cy="434.4" r="1.8" fill="#0a0a0a"/>
<circle cx="299.5" cy="427.2" r="1.8" fill="#0a0a0a"/>
<circle cx="300.1" cy="442.9" r="1.8" fill="#0a0a0a"/>
<circle cx="300.2" cy="437.9" r="1.8" fill="#0a0a0a"/>
<circle cx="300.6" cy="434.9" r="1.8" fill="#0a0a0a"/>
<circle cx="300.9" cy="435.2" r="1.8" fill="#0a0a0a"/>
<circle cx="301.3" cy="447.4" r="1.8" fill="#0a0a0a"/>
<circle cx="301.6" cy="442.5" r="1.8" fill="#0a0a0a"/>
<circle cx="302.1" cy="448.9" r="1.8" fill="#0a0a0a"/>
<circle cx="302.1" cy="437.8" r="1.8" fill="#0a0a0a"/>
<circle cx="302.7" cy="439.7" r="1.8" fill="#0a0a0a"/>
<circle cx="302.9" cy="425.6" r="1.8" fill="#0a0a0a"/>
<circle cx="303.4" cy="447.9" r="1.8" fill="#0a0a0a"/>
<circle cx="303.6" cy="439.2" r="1.8" fill="#0a0a0a"/>
<circle cx="304.0" cy="445.1" r="1.8" fill="#0a0a0a"/>
<circle cx="304.4" cy="445.2" r="1.8" fill="#0a0a0a"/>
<circle cx="304.5" cy="436.7" r="1.8" fill="#0a0a0a"/>
<circle cx="304.9" cy="439.2" r="1.8" fill="#0a0a0a"/>
<circle cx="305.3" cy="437.7" r="1.8" fill="#0a0a0a"/>
<circle cx="305.4" cy="434.8" r="1.8" fill="#0a0a0a"/>
<circle cx="306.0" cy="435.0" r="1.8" fill="#0a0a0a"/>
<circle cx="306.2" cy="434.2" r="1.8" fill="#0a0a0a"/>
<circle cx="306.4" cy="432.4" r="1.8" fill="#0a0a0a"/>
<circle cx="306.9" cy="444.3" r="1.8" fill="#0a0a0a"/>
<circle cx="307.0" cy="443.1" r="1.8" fill="#0a0a0a"/>
<circle cx="307.7" cy="435.7" r="1.8" fill="#0a0a0a"/>
<circle cx="308.0" cy="446.4" r="1.8" fill="#0a0a0a"/>
<circle cx="308.3" cy="434.6" r="1.8" fill="#0a0a0a"/>
<circle cx="308.5" cy="432.1" r="1.8" fill="#0a0a0a"/>
<circle cx="308.9" cy="425.9" r="1.8" fill="#0a0a0a"/>
<circle cx="309.1" cy="428.3" r="1.8" fill="#0a0a0a"/>
<circle cx="309.6" cy="444.8" r="1.8" fill="#0a0a0a"/>
<circle cx="309.8" cy="445.1" r="1.8" fill="#0a0a0a"/>
<circle cx="310.0" cy="430.3" r="1.8" fill="#0a0a0a"/>
<circle cx="310.6" cy="441.0" r="1.8" fill="#0a0a0a"/>
<circle cx="310.7" cy="431.7" r="1.8" fill="#0a0a0a"/>
<circle cx="311.0" cy="429.9" r="1.8" fill="#0a0a0a"/>
<circle cx="311.3" cy="428.8" r="1.8" fill="#0a0a0a"/>
<circle cx="311.8" cy="436.6" r="1.8" fill="#0a0a0a"/>
<circle cx="312.0" cy="428.6" r="1.8" fill="#0a0a0a"/>
<circle cx="312.5" cy="441.0" r="1.8" fill="#0a0a0a"/>
<circle cx="312.8" cy="431.1" r="1.8" fill="#0a0a0a"/>
<circle cx="313.2" cy="432.4" r="1.8" fill="#0a0a0a"/>
<circle cx="313.3" cy="439.9" r="1.8" fill="#0a0a0a"/>
<circle cx="313.6" cy="437.6" r="1.8" fill="#0a0a0a"/>
<circle cx="314.0" cy="437.2" r="1.8" fill="#0a0a0a"/>
<circle cx="314.2" cy="429.1" r="1.8" fill="#0a0a0a"/>
<circle cx="314.7" cy="427.2" r="1.8" fill="#0a0a0a"/>
<circle cx="314.9" cy="428.5" r="1.8" fill="#0a0a0a"/>
<circle cx="315.4" cy="429.0" r="1.8" fill="#0a0a0a"/>
<circle cx="315.8" cy="431.9" r="1.8" fill="#0a0a0a"/>
<circle cx="316.0" cy="437.1" r="1.8" fill="#0a0a0a"/>
<circle cx="316.5" cy="435.4" r="1.8" fill="#0a0a0a"/>
<circle cx="316.9" cy="427.5" r="1.8" fill="#0a0a0a"/>
<circle cx="317.1" cy="426.5" r="1.8" fill="#0a0a0a"/>
<circle cx="317.3" cy="424.6" r="1.8" fill="#0a0a0a"/>
<circle cx="317.6" cy="428.4" r="1.8" fill="#0a0a0a"/>
<circle cx="318.0" cy="422.9" r="1.8" fill="#0a0a0a"/>
<circle cx="324.2" cy="414.9" r="1.8" fill="#0a0a0a"/>
<circle cx="326.1" cy="415.9" r="1.8" fill="#0a0a0a"/>
<circle cx="327.1" cy="414.8" r="1.8" fill="#0a0a0a"/>
<circle cx="329.6" cy="416.7" r="1.8" fill="#0a0a0a"/>
<circle cx="331.7" cy="416.1" r="1.8" fill="#0a0a0a"/>
<circle cx="331.9" cy="418.4" r="1.8" fill="#0a0a0a"/>
<circle cx="334.6" cy="416.5" r="1.8" fill="#0a0a0a"/>
<circle cx="336.2" cy="419.5" r="1.8" fill="#0a0a0a"/>
<circle cx="337.0" cy="417.7" r="1.8" fill="#0a0a0a"/>
<circle cx="338.8" cy="414.3" r="1.8" fill="#0a0a0a"/>
<circle cx="340.6" cy="417.5" r="1.8" fill="#0a0a0a"/>
<circle cx="342.1" cy="414.5" r="1.8" fill="#0a0a0a"/>
<circle cx="343.4" cy="416.3" r="1.8" fill="#0a0a0a"/>
<circle cx="345.1" cy="413.0" r="1.8" fill="#0a0a0a"/>
<circle cx="346.5" cy="415.5" r="1.8" fill="#0a0a0a"/>
<circle cx="349.0" cy="417.9" r="1.8" fill="#0a0a0a"/>
<circle cx="324.1" cy="437.5" r="1.8" fill="#0a0a0a"/>
<circle cx="324.4" cy="435.1" r="1.8" fill="#0a0a0a"/>
<circle cx="324.7" cy="429.1" r="1.8" fill="#0a0a0a"/>
<circle cx="324.9" cy="438.5" r="1.8" fill="#0a0a0a"/>
<circle cx="325.5" cy="439.8" r="1.8" fill="#0a0a0a"/>
<circle cx="325.5" cy="440.7" r="1.8" fill="#0a0a0a"/>
<circle cx="325.9" cy="425.0" r="1.8" fill="#0a0a0a"/>
<circle cx="326.4" cy="423.2" r="1.8" fill="#0a0a0a"/>
<circle cx="326.5" cy="440.1" r="1.8" fill="#0a0a0a"/>
<circle cx="327.1" cy="440.5" r="1.8" fill="#0a0a0a"/>
<circle cx="327.4" cy="430.9" r="1.8" fill="#0a0a0a"/>
<circle cx="327.8" cy="428.0" r="1.8" fill="#0a0a0a"/>
<circle cx="328.2" cy="437.3" r="1.8" fill="#0a0a0a"/>
<circle cx="328.3" cy="437.1" r="1.8" fill="#0a0a0a"/>
<circle cx="328.9" cy="432.4" r="1.8" fill="#0a0a0a"/>
<circle cx="329.3" cy="436.5" r="1.8" fill="#0a0a0a"/>
<circle cx="329.6" cy="431.1" r="1.8" fill="#0a0a0a"/>
<circle cx="329.7" cy="443.2" r="1.8" fill="#0a0a0a"/>
<circle cx="330.2" cy="440.3" r="1.8" fill="#0a0a0a"/>
<circle cx="330.4" cy="418.1" r="1.8" fill="#0a0a0a"/>
<circle cx="330.8" cy="437.1" r="1.8" fill="#0a0a0a"/>
<circle cx="331.2" cy="429.4" r="1.8" fill="#0a0a0a"/>
<circle cx="331.7" cy="426.0" r="1.8" fill="#0a0a0a"/>
<circle cx="331.9" cy="439.4" r="1.8" fill="#0a0a0a"/>
<circle cx="332.4" cy="428.0" r="1.8" fill="#0a0a0a"/>
<circle cx="332.5" cy="420.9" r="1.8" fill="#0a0a0a"/>
<circle cx="332.9" cy="430.9" r="1.8" fill="#0a0a0a"/>
<circle cx="333.4" cy="438.3" r="1.8" fill="#0a0a0a"/>
<circle cx="333.6" cy="435.6" r="1.8" fill="#0a0a0a"/>
<circle cx="334.1" cy="424.4" r="1.8" fill="#0a0a0a"/>
<circle cx="334.4" cy="435.6" r="1.8" fill="#0a0a0a"/>
<circle cx="334.7" cy="434.9" r="1.8" fill="#0a0a0a"/>
<circle cx="335.1" cy="440.1" r="1.8" fill="#0a0a0a"/>
<circle cx="335.2" cy="418.3" r="1.8" fill="#0a0a0a"/>
<circle cx="335.7" cy="437.3" r="1.8" fill="#0a0a0a"/>
<circle cx="336.0" cy="439.5" r="1.8" fill="#0a0a0a"/>
<circle cx="336.6" cy="427.3" r="1.8" fill="#0a0a0a"/>
<circle cx="336.7" cy="434.9" r="1.8" fill="#0a0a0a"/>
<circle cx="337.2" cy="431.1" r="1.8" fill="#0a0a0a"/>
<circle cx="337.4" cy="433.7" r="1.8" fill="#0a0a0a"/>
<circle cx="337.7" cy="438.2" r="1.8" fill="#0a0a0a"/>
<circle cx="338.1" cy="435.8" r="1.8" fill="#0a0a0a"/>
<circle cx="338.4" cy="434.9" r="1.8" fill="#0a0a0a"/>
<circle cx="338.8" cy="438.2" r="1.8" fill="#0a0a0a"/>
<circle cx="339.1" cy="441.4" r="1.8" fill="#0a0a0a"/>
<circle cx="339.5" cy="438.4" r="1.8" fill="#0a0a0a"/>
<circle cx="339.9" cy="436.9" r="1.8" fill="#0a0a0a"/>
<circle cx="340.0" cy="433.4" r="1.8" fill="#0a0a0a"/>
<circle cx="340.5" cy="437.6" r="1.8" fill="#0a0a0a"/>
<circle cx="340.8" cy="432.6" r="1.8" fill="#0a0a0a"/>
<circle cx="341.3" cy="440.6" r="1.8" fill="#0a0a0a"/>
<circle cx="341.7" cy="440.0" r="1.8" fill="#0a0a0a"/>
<circle cx="341.8" cy="437.6" r="1.8" fill="#0a0a0a"/>
<circle cx="342.1" cy="439.4" r="1.8" fill="#0a0a0a"/>
<circle cx="342.7" cy="442.4" r="1.8" fill="#0a0a0a"/>
<circle cx="343.0" cy="427.0" r="1.8" fill="#0a0a0a"/>
<circle cx="343.4" cy="436.0" r="1.8" fill="#0a0a0a"/>
<circle cx="343.5" cy="436.5" r="1.8" fill="#0a0a0a"/>
<circle cx="344.0" cy="440.4" r="1.8" fill="#0a0a0a"/>
<circle cx="344.4" cy="421.8" r="1.8" fill="#0a0a0a"/>
<circle cx="344.8" cy="436.0" r="1.8" fill="#0a0a0a"/>
<circle cx="345.0" cy="424.7" r="1.8" fill="#0a0a0a"/>
<circle cx="345.4" cy="423.0" r="1.8" fill="#0a0a0a"/>
<circle cx="345.6" cy="425.6" r="1.8" fill="#0a0a0a"/>
<circle cx="345.9" cy="436.3" r="1.8" fill="#0a0a0a"/>
<circle cx="346.5" cy="418.9" r="1.8" fill="#0a0a0a"/>
<circle cx="346.9" cy="423.3" r="1.8" fill="#0a0a0a"/>
<circle cx="347.2" cy="422.3" r="1.8" fill="#0a0a0a"/>
<circle cx="347.4" cy="428.3" r="1.8" fill="#0a0a0a"/>
<circle cx="348.0" cy="421.8" r="1.8" fill="#0a0a0a"/>
<circle cx="348.2" cy="421.5" r="1.8" fill="#0a0a0a"/>
<circle cx="348.5" cy="433.5" r="1.8" fill="#0a0a0a"/>
<circle cx="348.9" cy="419.7" r="1.8" fill="#0a0a0a"/>
<circle cx="349.3" cy="434.1" r="1.8" fill="#0a0a0a"/>
<circle cx="355.6" cy="423.6" r="1.8" fill="#0a0a0a"/>
<circle cx="356.9" cy="425.8" r="1.8" fill="#0a0a0a"/>
<circle cx="359.9" cy="425.0" r="1.8" fill="#0a0a0a"/>
<circle cx="361.4" cy="422.5" r="1.8" fill="#0a0a0a"/>
<circle cx="363.3" cy="420.8" r="1.8" fill="#0a0a0a"/>
<circle cx="364.7" cy="420.2" r="1.8" fill="#0a0a0a"/>
<circle cx="367.7" cy="415.7" r="1.8" fill="#0a0a0a"/>
<circle cx="367.9" cy="416.5" r="1.8" fill="#0a0a0a"/>
<circle cx="369.8" cy="420.9" r="1.8" fill="#0a0a0a"/>
<circle cx="371.7" cy="417.6" r="1.8" fill="#0a0a0a"/>
<circle cx="373.7" cy="415.0" r="1.8" fill="#0a0a0a"/>
<circle cx="375.6" cy="413.3" r="1.8" fill="#0a0a0a"/>
<circle cx="377.7" cy="414.4" r="1.8" fill="#0a0a0a"/>
<circle cx="379.4" cy="416.8" r="1.8" fill="#0a0a0a"/>
<circle cx="355.1" cy="430.0" r="1.8" fill="#0a0a0a"/>
<circle cx="355.5" cy="431.9" r="1.8" fill="#0a0a0a"/>
<circle cx="355.9" cy="434.9" r="1.8" fill="#0a0a0a"/>
<circle cx="356.2" cy="438.5" r="1.8" fill="#0a0a0a"/>
<circle cx="356.5" cy="435.7" r="1.8" fill="#0a0a0a"/>
<circle cx="356.8" cy="437.4" r="1.8" fill="#0a0a0a"/>
<circle cx="357.2" cy="444.1" r="1.8" fill="#0a0a0a"/>
<circle cx="357.3" cy="442.5" r="1.8" fill="#0a0a0a"/>
<circle cx="357.7" cy="431.2" r="1.8" fill="#0a0a0a"/>
<circle cx="358.2" cy="440.6" r="1.8" fill="#0a0a0a"/>
<circle cx="358.4" cy="439.7" r="1.8" fill="#0a0a0a"/>
<circle cx="358.9" cy="425.9" r="1.8" fill="#0a0a0a"/>
<circle cx="359.3" cy="437.4" r="1.8" fill="#0a0a0a"/>
<circle cx="359.5" cy="446.6" r="1.8" fill="#0a0a0a"/>
<circle cx="359.7" cy="428.6" r="1.8" fill="#0a0a0a"/>
<circle cx="360.2" cy="446.5" r="1.8" fill="#0a0a0a"/>
<circle cx="360.6" cy="438.7" r="1.8" fill="#0a0a0a"/>
<circle cx="361.0" cy="440.6" r="1.8" fill="#0a0a0a"/>
<circle cx="361.2" cy="437.7" r="1.8" fill="#0a0a0a"/>
<circle cx="361.3" cy="432.0" r="1.8" fill="#0a0a0a"/>
<circle cx="361.7" cy="427.5" r="1.8" fill="#0a0a0a"/>
<circle cx="362.2" cy="427.5" r="1.8" fill="#0a0a0a"/>
<circle cx="362.4" cy="421.6" r="1.8" fill="#0a0a0a"/>
<circle cx="363.0" cy="427.8" r="1.8" fill="#0a0a0a"/>
<circle cx="363.0" cy="427.8" r="1.8" fill="#0a0a0a"/>
<circle cx="363.4" cy="444.1" r="1.8" fill="#0a0a0a"/>
<circle cx="363.9" cy="439.7" r="1.8" fill="#0a0a0a"/>
<circle cx="364.2" cy="443.5" r="1.8" fill="#0a0a0a"/>
<circle cx="364.6" cy="427.9" r="1.8" fill="#0a0a0a"/>
<circle cx="364.8" cy="445.3" r="1.8" fill="#0a0a0a"/>
<circle cx="365.1" cy="429.9" r="1.8" fill="#0a0a0a"/>
<circle cx="365.6" cy="446.9" r="1.8" fill="#0a0a0a"/>
<circle cx="365.9" cy="432.7" r="1.8" fill="#0a0a0a"/>
<circle cx="366.2" cy="420.1" r="1.8" fill="#0a0a0a"/>
<circle cx="366.7" cy="433.4" r="1.8" fill="#0a0a0a"/>
<circle cx="367.0" cy="429.5" r="1.8" fill="#0a0a0a"/>
<circle cx="367.2" cy="441.0" r="1.8" fill="#0a0a0a"/>
<circle cx="367.6" cy="426.0" r="1.8" fill="#0a0a0a"/>
<circle cx="367.8" cy="427.6" r="1.8" fill="#0a0a0a"/>
<circle cx="368.3" cy="441.2" r="1.8" fill="#0a0a0a"/>
<circle cx="368.4" cy="419.2" r="1.8" fill="#0a0a0a"/>
<circle cx="369.0" cy="433.2" r="1.8" fill="#0a0a0a"/>
<circle cx="369.1" cy="421.2" r="1.8" fill="#0a0a0a"/>
<circle cx="369.5" cy="427.3" r="1.8" fill="#0a0a0a"/>
<circle cx="369.8" cy="438.0" r="1.8" fill="#0a0a0a"/>
<circle cx="370.2" cy="427.3" r="1.8" fill="#0a0a0a"/>
<circle cx="370.6" cy="431.9" r="1.8" fill="#0a0a0a"/>
<circle cx="370.8" cy="441.0" r="1.8" fill="#0a0a0a"/>
<circle cx="371.3" cy="430.0" r="1.8" fill="#0a0a0a"/>
<circle cx="371.6" cy="437.5" r="1.8" fill="#0a0a0a"/>
<circle cx="372.0" cy="442.0" r="1.8" fill="#0a0a0a"/>
<circle cx="372.4" cy="438.9" r="1.8" fill="#0a0a0a"/>
<circle cx="372.8" cy="425.1" r="1.8" fill="#0a0a0a"/>
<circle cx="372.8" cy="442.9" r="1.8" fill="#0a0a0a"/>
<circle cx="373.4" cy="428.2" r="1.8" fill="#0a0a0a"/>
<circle cx="373.7" cy="438.4" r="1.8" fill="#0a0a0a"/>
<circle cx="374.1" cy="435.3" r="1.8" fill="#0a0a0a"/>
<circle cx="374.3" cy="423.8" r="1.8" fill="#0a0a0a"/>
<circle cx="374.5" cy="433.9" r="1.8" fill="#0a0a0a"/>
<circle cx="374.9" cy="430.9" r="1.8" fill="#0a0a0a"/>
<circle cx="375.5" cy="425.1" r="1.8" fill="#0a0a0a"/>
<circle cx="375.8" cy="425.2" r="1.8" fill="#0a0a0a"/>
<circle cx="375.9" cy="419.2" r="1.8" fill="#0a0a0a"/>
<circle cx="376.3" cy="438.7" r="1.8" fill="#0a0a0a"/>
<circle cx="376.5" cy="433.7" r="1.8" fill="#0a0a0a"/>
<circle cx="377.1" cy="437.6" r="1.8" fill="#0a0a0a"/>
<circle cx="377.3" cy="426.5" r="1.8" fill="#0a0a0a"/>
<circle cx="377.7" cy="422.7" r="1.8" fill="#0a0a0a"/>
<circle cx="378.2" cy="423.8" r="1.8" fill="#0a0a0a"/>
<circle cx="378.2" cy="431.6" r="1.8" fill="#0a0a0a"/>
<circle cx="378.7" cy="424.3" r="1.8" fill="#0a0a0a"/>
<circle cx="379.1" cy="430.1" r="1.8" fill="#0a0a0a"/>
<circle cx="379.5" cy="419.0" r="1.8" fill="#0a0a0a"/>
<circle cx="379.5" cy="425.1" r="1.8" fill="#0a0a0a"/>
<circle cx="379.9" cy="428.0" r="1.8" fill="#0a0a0a"/>
<circle cx="380.4" cy="428.4" r="1.8" fill="#0a0a0a"/>
<circle cx="387.0" cy="412.8" r="1.8" fill="#0a0a0a"/>
<circle cx="388.8" cy="413.8" r="1.8" fill="#0a0a0a"/>
<circle cx="390.9" cy="414.4" r="1.8" fill="#0a0a0a"/>
<circle cx="391.9" cy="418.1" r="1.8" fill="#0a0a0a"/>
<circle cx="393.3" cy="416.8" r="1.8" fill="#0a0a0a"/>
<circle cx="394.5" cy="414.5" r="1.8" fill="#0a0a0a"/>
<circle cx="396.7" cy="411.6" r="1.8" fill="#0a0a0a"/>
<circle cx="397.4" cy="413.6" r="1.8" fill="#0a0a0a"/>
<circle cx="399.1" cy="411.1" r="1.8" fill="#0a0a0a"/>
<circle cx="402.1" cy="410.9" r="1.8" fill="#0a0a0a"/>
<circle cx="403.4" cy="411.9" r="1.8" fill="#0a0a0a"/>
<circle cx="404.5" cy="414.2" r="1.8" fill="#0a0a0a"/>
<circle cx="406.6" cy="408.3" r="1.8" fill="#0a0a0a"/>
<circle cx="407.7" cy="414.1" r="1.8" fill="#0a0a0a"/>
<circle cx="409.2" cy="409.4" r="1.8" fill="#0a0a0a"/>
<circle cx="411.7" cy="410.8" r="1.8" fill="#0a0a0a"/>
<circle cx="386.1" cy="428.8" r="1.8" fill="#0a0a0a"/>
<circle cx="386.5" cy="429.3" r="1.8" fill="#0a0a0a"/>
<circle cx="387.1" cy="429.5" r="1.8" fill="#0a0a0a"/>
<circle cx="387.2" cy="419.3" r="1.8" fill="#0a0a0a"/>
<circle cx="387.7" cy="423.6" r="1.8" fill="#0a0a0a"/>
<circle cx="387.9" cy="436.6" r="1.8" fill="#0a0a0a"/>
<circle cx="388.3" cy="436.0" r="1.8" fill="#0a0a0a"/>
<circle cx="388.6" cy="438.9" r="1.8" fill="#0a0a0a"/>
<circle cx="388.9" cy="434.2" r="1.8" fill="#0a0a0a"/>
<circle cx="389.3" cy="421.2" r="1.8" fill="#0a0a0a"/>
<circle cx="389.7" cy="428.6" r="1.8" fill="#0a0a0a"/>
<circle cx="390.0" cy="442.1" r="1.8" fill="#0a0a0a"/>
<circle cx="390.5" cy="428.7" r="1.8" fill="#0a0a0a"/>
<circle cx="390.6" cy="431.9" r="1.8" fill="#0a0a0a"/>
<circle cx="391.2" cy="444.0" r="1.8" fill="#0a0a0a"/>
<circle cx="391.4" cy="425.0" r="1.8" fill="#0a0a0a"/>
<circle cx="391.9" cy="429.0" r="1.8" fill="#0a0a0a"/>
<circle cx="392.2" cy="424.8" r="1.8" fill="#0a0a0a"/>
<circle cx="392.4" cy="440.4" r="1.8" fill="#0a0a0a"/>
<circle cx="392.8" cy="426.1" r="1.8" fill="#0a0a0a"/>
<circle cx="393.2" cy="424.5" r="1.8" fill="#0a0a0a"/>
<circle cx="393.7" cy="435.9" r="1.8" fill="#0a0a0a"/>
<circle cx="394.1" cy="431.8" r="1.8" fill="#0a0a0a"/>
<circle cx="394.2" cy="437.3" r="1.8" fill="#0a0a0a"/>
<circle cx="394.5" cy="442.7" r="1.8" fill="#0a0a0a"/>
<circle cx="394.9" cy="436.7" r="1.8" fill="#0a0a0a"/>
<circle cx="395.2" cy="424.7" r="1.8" fill="#0a0a0a"/>
<circle cx="395.6" cy="423.0" r="1.8" fill="#0a0a0a"/>
<circle cx="396.0" cy="443.8" r="1.8" fill="#0a0a0a"/>
<circle cx="396.2" cy="443.3" r="1.8" fill="#0a0a0a"/>
<circle cx="396.7" cy="426.8" r="1.8" fill="#0a0a0a"/>
<circle cx="397.1" cy="422.6" r="1.8" fill="#0a0a0a"/>
<circle cx="397.5" cy="438.7" r="1.8" fill="#0a0a0a"/>
<circle cx="397.7" cy="421.5" r="1.8" fill="#0a0a0a"/>
<circle cx="398.1" cy="430.5" r="1.8" fill="#0a0a0a"/>
<circle cx="398.6" cy="430.8" r="1.8" fill="#0a0a0a"/>
<circle cx="398.9" cy="436.5" r="1.8" fill="#0a0a0a"/>
<circle cx="399.1" cy="424.5" r="1.8" fill="#0a0a0a"/>
<circle cx="399.4" cy="426.1" r="1.8" fill="#0a0a0a"/>
<circle cx="399.9" cy="439.0" r="1.8" fill="#0a0a0a"/>
<circle cx="400.1" cy="439.1" r="1.8" fill="#0a0a0a"/>
<circle cx="400.4" cy="433.1" r="1.8" fill="#0a0a0a"/>
<circle cx="400.9" cy="434.7" r="1.8" fill="#0a0a0a"/>
<circle cx="401.0" cy="420.0" r="1.8" fill="#0a0a0a"/>
<circle cx="401.7" cy="427.2" r="1.8" fill="#0a0a0a"/>
<circle cx="401.8" cy="438.5" r="1.8" fill="#0a0a0a"/>
<circle cx="402.3" cy="439.2" r="1.8" fill="#0a0a0a"/>
<circle cx="402.7" cy="421.3" r="1.8" fill="#0a0a0a"/>
<circle cx="403.0" cy="432.9" r="1.8" fill="#0a0a0a"/>
<circle cx="403.1" cy="429.8" r="1.8" fill="#0a0a0a"/>
<circle cx="403.7" cy="422.1" r="1.8" fill="#0a0a0a"/>
<circle cx="404.0" cy="418.8" r="1.8" fill="#0a0a0a"/>
<circle cx="404.4" cy="428.4" r="1.8" fill="#0a0a0a"/>
<circle cx="404.5" cy="436.4" r="1.8" fill="#0a0a0a"/>
<circle cx="405.1" cy="423.5" r="1.8" fill="#0a0a0a"/>
<circle cx="405.5" cy="437.3" r="1.8" fill="#0a0a0a"/>
<circle cx="405.5" cy="426.1" r="1.8" fill="#0a0a0a"/>
<circle cx="406.1" cy="428.3" r="1.8" fill="#0a0a0a"/>
<circle cx="406.3" cy="424.5" r="1.8" fill="#0a0a0a"/>
<circle cx="406.6" cy="429.4" r="1.8" fill="#0a0a0a"/>
<circle cx="406.9" cy="422.2" r="1.8" fill="#0a0a0a"/>
<circle cx="407.5" cy="419.1" r="1.8" fill="#0a0a0a"/>
<circle cx="407.7" cy="423.6" r="1.8" fill="#0a0a0a"/>
<circle cx="408.0" cy="420.5" r="1.8" fill="#0a0a0a"/>
<circle cx="408.3" cy="430.6" r="1.8" fill="#0a0a0a"/>
<circle cx="408.6" cy="420.6" r="1.8" fill="#0a0a0a"/>
<circle cx="409.2" cy="428.2" r="1.8" fill="#0a0a0a"/>
<circle cx="409.5" cy="429.8" r="1.8" fill="#0a0a0a"/>
<circle cx="409.9" cy="428.6" r="1.8" fill="#0a0a0a"/>
<circle cx="410.0" cy="429.9" r="1.8" fill="#0a0a0a"/>
<circle cx="410.6" cy="415.5" r="1.8" fill="#0a0a0a"/>
<circle cx="410.9" cy="417.7" r="1.8" fill="#0a0a0a"/>
<circle cx="411.3" cy="422.0" r="1.8" fill="#0a0a0a"/>
<circle cx="411.5" cy="427.6" r="1.8" fill="#0a0a0a"/>
<circle cx="419.9" cy="423.2" r="1.8" fill="#0a0a0a"/>
<circle cx="422.8" cy="422.0" r="1.8" fill="#0a0a0a"/>
<circle cx="424.8" cy="421.1" r="1.8" fill="#0a0a0a"/>
<circle cx="427.1" cy="421.8" r="1.8" fill="#0a0a0a"/>
<circle cx="431.4" cy="418.0" r="1.8" fill="#0a0a0a"/>
<circle cx="435.1" cy="419.5" r="1.8" fill="#0a0a0a"/>
<circle cx="437.4" cy="424.0" r="1.8" fill="#0a0a0a"/>
<circle cx="440.8" cy="420.2" r="1.8" fill="#0a0a0a"/>
<circle cx="417.5" cy="432.6" r="1.8" fill="#0a0a0a"/>
<circle cx="417.7" cy="433.1" r="1.8" fill="#0a0a0a"/>
<circle cx="418.0" cy="443.1" r="1.8" fill="#0a0a0a"/>
<circle cx="418.3" cy="427.7" r="1.8" fill="#0a0a0a"/>
<circle cx="418.8" cy="436.1" r="1.8" fill="#0a0a0a"/>
<circle cx="419.3" cy="445.4" r="1.8" fill="#0a0a0a"/>
<circle cx="419.6" cy="440.4" r="1.8" fill="#0a0a0a"/>
<circle cx="419.8" cy="444.8" r="1.8" fill="#0a0a0a"/>
<circle cx="420.0" cy="442.6" r="1.8" fill="#0a0a0a"/>
<circle cx="420.3" cy="437.2" r="1.8" fill="#0a0a0a"/>
<circle cx="421.0" cy="430.8" r="1.8" fill="#0a0a0a"/>
<circle cx="421.2" cy="443.9" r="1.8" fill="#0a0a0a"/>
<circle cx="421.6" cy="427.2" r="1.8" fill="#0a0a0a"/>
<circle cx="421.9" cy="435.8" r="1.8" fill="#0a0a0a"/>
<circle cx="422.3" cy="446.4" r="1.8" fill="#0a0a0a"/>
<circle cx="422.4" cy="440.2" r="1.8" fill="#0a0a0a"/>
<circle cx="422.7" cy="448.5" r="1.8" fill="#0a0a0a"/>
<circle cx="423.1" cy="443.9" r="1.8" fill="#0a0a0a"/>
<circle cx="423.5" cy="437.8" r="1.8" fill="#0a0a0a"/>
<circle cx="424.0" cy="449.8" r="1.8" fill="#0a0a0a"/>
<circle cx="424.3" cy="434.8" r="1.8" fill="#0a0a0a"/>
<circle cx="424.6" cy="438.5" r="1.8" fill="#0a0a0a"/>
<circle cx="424.8" cy="429.7" r="1.8" fill="#0a0a0a"/>
<circle cx="425.3" cy="430.4" r="1.8" fill="#0a0a0a"/>
<circle cx="425.5" cy="447.6" r="1.8" fill="#0a0a0a"/>
<circle cx="426.0" cy="450.4" r="1.8" fill="#0a0a0a"/>
<circle cx="426.2" cy="446.5" r="1.8" fill="#0a0a0a"/>
<circle cx="426.6" cy="443.8" r="1.8" fill="#0a0a0a"/>
<circle cx="426.9" cy="434.0" r="1.8" fill="#0a0a0a"/>
<circle cx="427.4" cy="450.1" r="1.8" fill="#0a0a0a"/>
<circle cx="427.7" cy="442.9" r="1.8" fill="#0a0a0a"/>
<circle cx="428.0" cy="422.6" r="1.8" fill="#0a0a0a"/>
<circle cx="428.3" cy="442.9" r="1.8" fill="#0a0a0a"/>
<circle cx="428.6" cy="443.0" r="1.8" fill="#0a0a0a"/>
<circle cx="428.9" cy="445.4" r="1.8" fill="#0a0a0a"/>
<circle cx="429.4" cy="441.0" r="1.8" fill="#0a0a0a"/>
<circle cx="429.6" cy="432.4" r="1.8" fill="#0a0a0a"/>
<circle cx="429.8" cy="435.1" r="1.8" fill="#0a0a0a"/>
<circle cx="430.2" cy="446.0" r="1.8" fill="#0a0a0a"/>
<circle cx="430.6" cy="444.3" r="1.8" fill="#0a0a0a"/>
<circle cx="430.9" cy="440.2" r="1.8" fill="#0a0a0a"/>
<circle cx="431.4" cy="443.7" r="1.8" fill="#0a0a0a"/>
<circle cx="431.7" cy="449.0" r="1.8" fill="#0a0a0a"/>
<circle cx="431.8" cy="439.9" r="1.8" fill="#0a0a0a"/>
<circle cx="432.4" cy="441.5" r="1.8" fill="#0a0a0a"/>
<circle cx="432.7" cy="447.7" r="1.8" fill="#0a0a0a"/>
<circle cx="433.1" cy="444.6" r="1.8" fill="#0a0a0a"/>
<circle cx="433.3" cy="429.0" r="1.8" fill="#0a0a0a"/>
<circle cx="433.6" cy="446.3" r="1.8" fill="#0a0a0a"/>
<circle cx="433.8" cy="435.4" r="1.8" fill="#0a0a0a"/>
<circle cx="434.2" cy="438.6" r="1.8" fill="#0a0a0a"/>
<circle cx="434.8" cy="433.0" r="1.8" fill="#0a0a0a"/>
<circle cx="434.9" cy="427.9" r="1.8" fill="#0a0a0a"/>
<circle cx="435.3" cy="439.0" r="1.8" fill="#0a0a0a"/>
<circle cx="435.7" cy="428.8" r="1.8" fill="#0a0a0a"/>
<circle cx="436.1" cy="439.8" r="1.8" fill="#0a0a0a"/>
<circle cx="436.5" cy="439.7" r="1.8" fill="#0a0a0a"/>
<circle cx="436.8" cy="442.4" r="1.8" fill="#0a0a0a"/>
<circle cx="436.9" cy="435.6" r="1.8" fill="#0a0a0a"/>
<circle cx="437.5" cy="434.0" r="1.8" fill="#0a0a0a"/>
<circle cx="437.8" cy="433.5" r="1.8" fill="#0a0a0a"/>
<circle cx="437.9" cy="431.7" r="1.8" fill="#0a0a0a"/>
<circle cx="438.3" cy="437.6" r="1.8" fill="#0a0a0a"/>
<circle cx="438.8" cy="428.1" r="1.8" fill="#0a0a0a"/>
<circle cx="438.9" cy="434.0" r="1.8" fill="#0a0a0a"/>
<circle cx="439.2" cy="434.9" r="1.8" fill="#0a0a0a"/>
<circle cx="439.5" cy="436.6" r="1.8" fill="#0a0a0a"/>
<circle cx="440.0" cy="431.4" r="1.8" fill="#0a0a0a"/>
<circle cx="440.2" cy="431.9" r="1.8" fill="#0a0a0a"/>
<circle cx="440.8" cy="431.2" r="1.8" fill="#0a0a0a"/>
<circle cx="441.1" cy="429.0" r="1.8" fill="#0a0a0a"/>
<circle cx="441.3" cy="433.0" r="1.8" fill="#0a0a0a"/>
<circle cx="441.8" cy="426.5" r="1.8" fill="#0a0a0a"/>
<circle cx="442.1" cy="431.5" r="1.8" fill="#0a0a0a"/>
<circle cx="442.2" cy="424.7" r="1.8" fill="#0a0a0a"/>
<circle cx="442.9" cy="424.3" r="1.8" fill="#0a0a0a"/>
<circle cx="448.8" cy="419.5" r="1.8" fill="#0a0a0a"/>
<circle cx="450.9" cy="419.3" r="1.8" fill="#0a0a0a"/>
<circle cx="452.4" cy="416.3" r="1.8" fill="#0a0a0a"/>
<circle cx="453.8" cy="421.4" r="1.8" fill="#0a0a0a"/>
<circle cx="456.2" cy="417.7" r="1.8" fill="#0a0a0a"/>
<circle cx="456.5" cy="418.2" r="1.8" fill="#0a0a0a"/>
<circle cx="459.1" cy="418.4" r="1.8" fill="#0a0a0a"/>
<circle cx="460.8" cy="417.5" r="1.8" fill="#0a0a0a"/>
<circle cx="461.7" cy="416.6" r="1.8" fill="#0a0a0a"/>
<circle cx="464.0" cy="414.8" r="1.8" fill="#0a0a0a"/>
<circle cx="464.9" cy="419.6" r="1.8" fill="#0a0a0a"/>
<circle cx="467.5" cy="420.3" r="1.8" fill="#0a0a0a"/>
<circle cx="469.2" cy="416.4" r="1.8" fill="#0a0a0a"/>
<circle cx="469.9" cy="416.6" r="1.8" fill="#0a0a0a"/>
<circle cx="472.3" cy="417.6" r="1.8" fill="#0a0a0a"/>
<circle cx="472.5" cy="417.0" r="1.8" fill="#0a0a0a"/>
<circle cx="448.8" cy="431.8" r="1.8" fill="#0a0a0a"/>
<circle cx="449.0" cy="438.1" r="1.8" fill="#0a0a0a"/>
<circle cx="449.2" cy="436.8" r="1.8" fill="#0a0a0a"/>
<circle cx="449.6" cy="443.5" r="1.8" fill="#0a0a0a"/>
<circle cx="450.0" cy="443.9" r="1.8" fill="#0a0a0a"/>
<circle cx="450.4" cy="447.0" r="1.8" fill="#0a0a0a"/>
<circle cx="450.6" cy="428.2" r="1.8" fill="#0a0a0a"/>
<circle cx="450.9" cy="441.7" r="1.8" fill="#0a0a0a"/>
<circle cx="451.2" cy="428.3" r="1.8" fill="#0a0a0a"/>
<circle cx="451.6" cy="448.4" r="1.8" fill="#0a0a0a"/>
<circle cx="452.1" cy="448.4" r="1.8" fill="#0a0a0a"/>
<circle cx="452.2" cy="445.4" r="1.8" fill="#0a0a0a"/>
<circle cx="452.7" cy="427.5" r="1.8" fill="#0a0a0a"/>
<circle cx="453.1" cy="441.8" r="1.8" fill="#0a0a0a"/>
<circle cx="453.5" cy="428.8" r="1.8" fill="#0a0a0a"/>
<circle cx="453.5" cy="448.1" r="1.8" fill="#0a0a0a"/>
<circle cx="454.1" cy="440.1" r="1.8" fill="#0a0a0a"/>
<circle cx="454.5" cy="431.0" r="1.8" fill="#0a0a0a"/>
<circle cx="454.6" cy="443.5" r="1.8" fill="#0a0a0a"/>
<circle cx="455.0" cy="448.6" r="1.8" fill="#0a0a0a"/>
<circle cx="455.5" cy="449.3" r="1.8" fill="#0a0a0a"/>
<circle cx="455.6" cy="443.7" r="1.8" fill="#0a0a0a"/>
<circle cx="456.1" cy="430.0" r="1.8" fill="#0a0a0a"/>
<circle cx="456.3" cy="437.6" r="1.8" fill="#0a0a0a"/>
<circle cx="456.8" cy="444.6" r="1.8" fill="#0a0a0a"/>
<circle cx="457.1" cy="437.8" r="1.8" fill="#0a0a0a"/>
<circle cx="457.4" cy="428.1" r="1.8" fill="#0a0a0a"/>
<circle cx="457.6" cy="447.8" r="1.8" fill="#0a0a0a"/>
<circle cx="458.2" cy="441.5" r="1.8" fill="#0a0a0a"/>
<circle cx="458.4" cy="443.9" r="1.8" fill="#0a0a0a"/>
<circle cx="458.6" cy="430.8" r="1.8" fill="#0a0a0a"/>
<circle cx="459.1" cy="436.5" r="1.8" fill="#0a0a0a"/>
<circle cx="459.4" cy="418.9" r="1.8" fill="#0a0a0a"/>
<circle cx="459.9" cy="448.5" r="1.8" fill="#0a0a0a"/>
<circle cx="459.9" cy="441.4" r="1.8" fill="#0a0a0a"/>
<circle cx="460.5" cy="435.1" r="1.8" fill="#0a0a0a"/>
<circle cx="460.7" cy="445.1" r="1.8" fill="#0a0a0a"/>
<circle cx="461.2" cy="437.0" r="1.8" fill="#0a0a0a"/>
<circle cx="461.5" cy="432.8" r="1.8" fill="#0a0a0a"/>
<circle cx="461.6" cy="440.9" r="1.8" fill="#0a0a0a"/>
<circle cx="462.0" cy="445.6" r="1.8" fill="#0a0a0a"/>
<circle cx="462.4" cy="448.7" r="1.8" fill="#0a0a0a"/>
<circle cx="462.9" cy="446.8" r="1.8" fill="#0a0a0a"/>
<circle cx="463.2" cy="433.0" r="1.8" fill="#0a0a0a"/>
<circle cx="463.5" cy="431.1" r="1.8" fill="#0a0a0a"/>
<circle cx="463.7" cy="424.9" r="1.8" fill="#0a0a0a"/>
<circle cx="464.1" cy="443.5" r="1.8" fill="#0a0a0a"/>
<circle cx="464.5" cy="440.4" r="1.8" fill="#0a0a0a"/>
<circle cx="464.8" cy="431.6" r="1.8" fill="#0a0a0a"/>
<circle cx="465.3" cy="432.6" r="1.8" fill="#0a0a0a"/>
<circle cx="465.5" cy="435.8" r="1.8" fill="#0a0a0a"/>
<circle cx="465.7" cy="432.5" r="1.8" fill="#0a0a0a"/>
<circle cx="466.1" cy="426.0" r="1.8" fill="#0a0a0a"/>
<circle cx="466.5" cy="437.4" r="1.8" fill="#0a0a0a"/>
<circle cx="466.9" cy="429.6" r="1.8" fill="#0a0a0a"/>
<circle cx="467.3" cy="436.1" r="1.8" fill="#0a0a0a"/>
<circle cx="467.6" cy="434.9" r="1.8" fill="#0a0a0a"/>
<circle cx="467.8" cy="437.1" r="1.8" fill="#0a0a0a"/>
<circle cx="468.1" cy="441.8" r="1.8" fill="#0a0a0a"/>
<circle cx="468.6" cy="430.5" r="1.8" fill="#0a0a0a"/>
<circle cx="468.7" cy="433.8" r="1.8" fill="#0a0a0a"/>
<circle cx="469.2" cy="434.7" r="1.8" fill="#0a0a0a"/>
<circle cx="469.6" cy="431.5" r="1.8" fill="#0a0a0a"/>
<circle cx="469.9" cy="433.0" r="1.8" fill="#0a0a0a"/>
<circle cx="470.4" cy="430.2" r="1.8" fill="#0a0a0a"/>
<circle cx="470.4" cy="436.4" r="1.8" fill="#0a0a0a"/>
<circle cx="471.0" cy="421.5" r="1.8" fill="#0a0a0a"/>
<circle cx="471.3" cy="420.2" r="1.8" fill="#0a0a0a"/>
<circle cx="471.7" cy="426.7" r="1.8" fill="#0a0a0a"/>
<circle cx="471.8" cy="426.2" r="1.8" fill="#0a0a0a"/>
<circle cx="472.1" cy="426.8" r="1.8" fill="#0a0a0a"/>
<circle cx="472.6" cy="424.3" r="1.8" fill="#0a0a0a"/>
<circle cx="472.9" cy="426.1" r="1.8" fill="#0a0a0a"/>
<circle cx="473.2" cy="422.2" r="1.8" fill="#0a0a0a"/>
<circle cx="473.5" cy="423.1" r="1.8" fill="#0a0a0a"/>
<circle cx="474.0" cy="424.0" r="1.8" fill="#0a0a0a"/>
<circle cx="480.9" cy="415.7" r="1.8" fill="#0a0a0a"/>
<circle cx="482.1" cy="419.4" r="1.8" fill="#0a0a0a"/>
<circle cx="483.4" cy="415.1" r="1.8" fill="#0a0a0a"/>
<circle cx="485.2" cy="417.4" r="1.8" fill="#0a0a0a"/>
<circle cx="487.2" cy="414.7" r="1.8" fill="#0a0a0a"/>
<circle cx="488.1" cy="417.8" r="1.8" fill="#0a0a0a"/>
<circle cx="490.7" cy="413.1" r="1.8" fill="#0a0a0a"/>
<circle cx="491.8" cy="415.0" r="1.8" fill="#0a0a0a"/>
<circle cx="493.3" cy="412.4" r="1.8" fill="#0a0a0a"/>
<circle cx="495.6" cy="413.5" r="1.8" fill="#0a0a0a"/>
<circle cx="496.8" cy="417.7" r="1.8" fill="#0a0a0a"/>
<circle cx="497.3" cy="416.4" r="1.8" fill="#0a0a0a"/>
<circle cx="498.9" cy="414.3" r="1.8" fill="#0a0a0a"/>
<circle cx="500.5" cy="412.5" r="1.8" fill="#0a0a0a"/>
<circle cx="502.3" cy="410.6" r="1.8" fill="#0a0a0a"/>
<circle cx="503.7" cy="413.4" r="1.8" fill="#0a0a0a"/>
<circle cx="479.7" cy="417.8" r="1.8" fill="#0a0a0a"/>
<circle cx="480.4" cy="429.6" r="1.8" fill="#0a0a0a"/>
<circle cx="480.6" cy="433.3" r="1.8" fill="#0a0a0a"/>
<circle cx="480.9" cy="420.2" r="1.8" fill="#0a0a0a"/>
<circle cx="481.3" cy="421.5" r="1.8" fill="#0a0a0a"/>
<circle cx="481.6" cy="421.2" r="1.8" fill="#0a0a0a"/>
<circle cx="481.9" cy="428.5" r="1.8" fill="#0a0a0a"/>
<circle cx="482.4" cy="432.6" r="1.8" fill="#0a0a0a"/>
<circle cx="482.6" cy="436.1" r="1.8" fill="#0a0a0a"/>
<circle cx="482.9" cy="432.2" r="1.8" fill="#0a0a0a"/>
<circle cx="483.2" cy="422.0" r="1.8" fill="#0a0a0a"/>
<circle cx="483.8" cy="429.4" r="1.8" fill="#0a0a0a"/>
<circle cx="484.2" cy="437.5" r="1.8" fill="#0a0a0a"/>
<circle cx="484.5" cy="435.5" r="1.8" fill="#0a0a0a"/>
<circle cx="484.7" cy="435.6" r="1.8" fill="#0a0a0a"/>
<circle cx="485.1" cy="432.4" r="1.8" fill="#0a0a0a"/>
<circle cx="485.7" cy="431.2" r="1.8" fill="#0a0a0a"/>
<circle cx="486.0" cy="429.9" r="1.8" fill="#0a0a0a"/>
<circle cx="486.1" cy="435.2" r="1.8" fill="#0a0a0a"/>
<circle cx="486.6" cy="429.1" r="1.8" fill="#0a0a0a"/>
<circle cx="487.0" cy="422.3" r="1.8" fill="#0a0a0a"/>
<circle cx="487.4" cy="428.4" r="1.8" fill="#0a0a0a"/>
<circle cx="487.6" cy="432.7" r="1.8" fill="#0a0a0a"/>
<circle cx="488.1" cy="433.7" r="1.8" fill="#0a0a0a"/>
<circle cx="488.4" cy="428.0" r="1.8" fill="#0a0a0a"/>
<circle cx="488.8" cy="428.7" r="1.8" fill="#0a0a0a"/>
<circle cx="488.9" cy="428.3" r="1.8" fill="#0a0a0a"/>
<circle cx="489.6" cy="433.0" r="1.8" fill="#0a0a0a"/>
<circle cx="489.9" cy="425.1" r="1.8" fill="#0a0a0a"/>
<circle cx="490.2" cy="436.2" r="1.8" fill="#0a0a0a"/>
<circle cx="490.5" cy="436.2" r="1.8" fill="#0a0a0a"/>
<circle cx="490.7" cy="427.2" r="1.8" fill="#0a0a0a"/>
<circle cx="491.2" cy="431.4" r="1.8" fill="#0a0a0a"/>
<circle cx="491.5" cy="436.5" r="1.8" fill="#0a0a0a"/>
<circle cx="492.1" cy="439.6" r="1.8" fill="#0a0a0a"/>
<circle cx="492.3" cy="427.5" r="1.8" fill="#0a0a0a"/>
<circle cx="492.7" cy="427.8" r="1.8" fill="#0a0a0a"/>
<circle cx="493.0" cy="427.7" r="1.8" fill="#0a0a0a"/>
<circle cx="493.4" cy="436.8" r="1.8" fill="#0a0a0a"/>
<circle cx="493.7" cy="434.3" r="1.8" fill="#0a0a0a"/>
<circle cx="494.2" cy="435.4" r="1.8" fill="#0a0a0a"/>
<circle cx="494.4" cy="431.6" r="1.8" fill="#0a0a0a"/>
<circle cx="494.9" cy="429.3" r="1.8" fill="#0a0a0a"/>
<circle cx="495.0" cy="427.9" r="1.8" fill="#0a0a0a"/>
<circle cx="495.6" cy="427.4" r="1.8" fill="#0a0a0a"/>
<circle cx="495.8" cy="422.5" r="1.8" fill="#0a0a0a"/>
<circle cx="496.0" cy="429.0" r="1.8" fill="#0a0a0a"/>
<circle cx="496.7" cy="425.4" r="1.8" fill="#0a0a0a"/>
<circle cx="496.8" cy="427.1" r="1.8" fill="#0a0a0a"/>
<circle cx="497.3" cy="424.9" r="1.8" fill="#0a0a0a"/>
<circle cx="497.5" cy="429.4" r="1.8" fill="#0a0a0a"/>
<circle cx="498.1" cy="430.9" r="1.8" fill="#0a0a0a"/>
<circle cx="498.5" cy="424.3" r="1.8" fill="#0a0a0a"/>
<circle cx="498.8" cy="432.6" r="1.8" fill="#0a0a0a"/>
<circle cx="499.0" cy="424.5" r="1.8" fill="#0a0a0a"/>
<circle cx="499.4" cy="423.6" r="1.8" fill="#0a0a0a"/>
<circle cx="499.7" cy="425.2" r="1.8" fill="#0a0a0a"/>
<circle cx="500.0" cy="420.8" r="1.8" fill="#0a0a0a"/>
<circle cx="500.5" cy="426.1" r="1.8" fill="#0a0a0a"/>
<circle cx="500.7" cy="429.6" r="1.8" fill="#0a0a0a"/>
<circle cx="501.3" cy="423.6" r="1.8" fill="#0a0a0a"/>
<circle cx="501.6" cy="420.8" r="1.8" fill="#0a0a0a"/>
<circle cx="501.8" cy="422.6" r="1.8" fill="#0a0a0a"/>
<circle cx="502.1" cy="427.5" r="1.8" fill="#0a0a0a"/>
<circle cx="502.7" cy="424.3" r="1.8" fill="#0a0a0a"/>
<circle cx="503.1" cy="426.4" r="1.8" fill="#0a0a0a"/>
<circle cx="503.3" cy="424.1" r="1.8" fill="#0a0a0a"/>
<circle cx="503.7" cy="416.9" r="1.8" fill="#0a0a0a"/>
<circle cx="503.9" cy="419.5" r="1.8" fill="#0a0a0a"/>
<circle cx="504.2" cy="422.6" r="1.8" fill="#0a0a0a"/>
<circle cx="504.8" cy="420.2" r="1.8" fill="#0a0a0a"/>
<circle cx="505.0" cy="423.3" r="1.8" fill="#0a0a0a"/>
<circle cx="511.3" cy="409.5" r="1.8" fill="#0a0a0a"/>
<circle cx="514.4" cy="410.9" r="1.8" fill="#0a0a0a"/>
<circle cx="514.6" cy="410.3" r="1.8" fill="#0a0a0a"/>
<circle cx="517.2" cy="413.4" r="1.8" fill="#0a0a0a"/>
<circle cx="519.4" cy="410.8" r="1.8" fill="#0a0a0a"/>
<circle cx="520.1" cy="410.4" r="1.8" fill="#0a0a0a"/>
<circle cx="522.1" cy="410.5" r="1.8" fill="#0a0a0a"/>
<circle cx="524.2" cy="411.6" r="1.8" fill="#0a0a0a"/>
<circle cx="525.7" cy="412.4" r="1.8" fill="#0a0a0a"/>
<circle cx="528.7" cy="410.7" r="1.8" fill="#0a0a0a"/>
<circle cx="529.4" cy="412.4" r="1.8" fill="#0a0a0a"/>
<circle cx="531.1" cy="411.6" r="1.8" fill="#0a0a0a"/>
<circle cx="533.0" cy="408.8" r="1.8" fill="#0a0a0a"/>
<circle cx="536.0" cy="409.9" r="1.8" fill="#0a0a0a"/>
<circle cx="511.0" cy="420.7" r="1.8" fill="#0a0a0a"/>
<circle cx="511.3" cy="425.3" r="1.8" fill="#0a0a0a"/>
<circle cx="511.7" cy="422.3" r="1.8" fill="#0a0a0a"/>
<circle cx="512.2" cy="429.4" r="1.8" fill="#0a0a0a"/>
<circle cx="512.5" cy="423.8" r="1.8" fill="#0a0a0a"/>
<circle cx="512.7" cy="417.0" r="1.8" fill="#0a0a0a"/>
<circle cx="513.0" cy="426.7" r="1.8" fill="#0a0a0a"/>
<circle cx="513.4" cy="420.7" r="1.8" fill="#0a0a0a"/>
<circle cx="513.6" cy="418.3" r="1.8" fill="#0a0a0a"/>
<circle cx="514.1" cy="432.3" r="1.8" fill="#0a0a0a"/>
<circle cx="514.5" cy="417.1" r="1.8" fill="#0a0a0a"/>
<circle cx="514.9" cy="423.4" r="1.8" fill="#0a0a0a"/>
<circle cx="515.1" cy="416.9" r="1.8" fill="#0a0a0a"/>
<circle cx="515.6" cy="420.5" r="1.8" fill="#0a0a0a"/>
<circle cx="516.0" cy="428.7" r="1.8" fill="#0a0a0a"/>
<circle cx="516.2" cy="423.7" r="1.8" fill="#0a0a0a"/>
<circle cx="516.4" cy="426.5" r="1.8" fill="#0a0a0a"/>
<circle cx="517.0" cy="428.8" r="1.8" fill="#0a0a0a"/>
<circle cx="517.1" cy="431.7" r="1.8" fill="#0a0a0a"/>
<circle cx="517.6" cy="425.9" r="1.8" fill="#0a0a0a"/>
<circle cx="517.8" cy="433.5" r="1.8" fill="#0a0a0a"/>
<circle cx="518.4" cy="431.5" r="1.8" fill="#0a0a0a"/>
<circle cx="518.8" cy="421.2" r="1.8" fill="#0a0a0a"/>
<circle cx="518.9" cy="422.2" r="1.8" fill="#0a0a0a"/>
<circle cx="519.2" cy="431.5" r="1.8" fill="#0a0a0a"/>
<circle cx="519.6" cy="427.8" r="1.8" fill="#0a0a0a"/>
<circle cx="520.1" cy="428.6" r="1.8" fill="#0a0a0a"/>
<circle cx="520.2" cy="432.6" r="1.8" fill="#0a0a0a"/>
<circle cx="520.7" cy="421.0" r="1.8" fill="#0a0a0a"/>
<circle cx="521.1" cy="421.2" r="1.8" fill="#0a0a0a"/>
<circle cx="521.5" cy="421.7" r="1.8" fill="#0a0a0a"/>
<circle cx="521.8" cy="424.0" r="1.8" fill="#0a0a0a"/>
<circle cx="522.2" cy="436.2" r="1.8" fill="#0a0a0a"/>
<circle cx="522.3" cy="422.0" r="1.8" fill="#0a0a0a"/>
<circle cx="522.9" cy="419.5" r="1.8" fill="#0a0a0a"/>
<circle cx="523.0" cy="421.1" r="1.8" fill="#0a0a0a"/>
<circle cx="523.6" cy="437.0" r="1.8" fill="#0a0a0a"/>
<circle cx="523.9" cy="435.7" r="1.8" fill="#0a0a0a"/>
<circle cx="524.2" cy="437.6" r="1.8" fill="#0a0a0a"/>
<circle cx="524.6" cy="431.1" r="1.8" fill="#0a0a0a"/>
<circle cx="524.8" cy="427.4" r="1.8" fill="#0a0a0a"/>
<circle cx="525.2" cy="437.0" r="1.8" fill="#0a0a0a"/>
<circle cx="525.6" cy="434.2" r="1.8" fill="#0a0a0a"/>
<circle cx="525.8" cy="425.1" r="1.8" fill="#0a0a0a"/>
<circle cx="526.3" cy="429.3" r="1.8" fill="#0a0a0a"/>
<circle cx="526.7" cy="434.5" r="1.8" fill="#0a0a0a"/>
<circle cx="526.8" cy="423.2" r="1.8" fill="#0a0a0a"/>
<circle cx="527.2" cy="417.6" r="1.8" fill="#0a0a0a"/>
<circle cx="527.5" cy="416.9" r="1.8" fill="#0a0a0a"/>
<circle cx="527.8" cy="427.8" r="1.8" fill="#0a0a0a"/>
<circle cx="528.2" cy="422.3" r="1.8" fill="#0a0a0a"/>
<circle cx="528.7" cy="430.3" r="1.8" fill="#0a0a0a"/>
<circle cx="529.0" cy="421.9" r="1.8" fill="#0a0a0a"/>
<circle cx="529.4" cy="430.2" r="1.8" fill="#0a0a0a"/>
<circle cx="529.8" cy="433.2" r="1.8" fill="#0a0a0a"/>
<circle cx="530.1" cy="418.0" r="1.8" fill="#0a0a0a"/>
<circle cx="530.2" cy="426.0" r="1.8" fill="#0a0a0a"/>
<circle cx="530.7" cy="423.0" r="1.8" fill="#0a0a0a"/>
<circle cx="530.9" cy="431.0" r="1.8" fill="#0a0a0a"/>
<circle cx="531.4" cy="427.0" r="1.8" fill="#0a0a0a"/>
<circle cx="531.9" cy="427.9" r="1.8" fill="#0a0a0a"/>
<circle cx="532.1" cy="411.6" r="1.8" fill="#0a0a0a"/>
<circle cx="532.3" cy="427.7" r="1.8" fill="#0a0a0a"/>
<circle cx="532.7" cy="424.7" r="1.8" fill="#0a0a0a"/>
<circle cx="533.3" cy="422.1" r="1.8" fill="#0a0a0a"/>
<circle cx="533.4" cy="419.7" r="1.8" fill="#0a0a0a"/>
<circle cx="534.0" cy="414.0" r="1.8" fill="#0a0a0a"/>
<circle cx="534.3" cy="415.6" r="1.8" fill="#0a0a0a"/>
<circle cx="534.6" cy="417.4" r="1.8" fill="#0a0a0a"/>
<circle cx="534.8" cy="419.5" r="1.8" fill="#0a0a0a"/>
<circle cx="535.1" cy="416.0" r="1.8" fill="#0a0a0a"/>
<circle cx="535.5" cy="415.7" r="1.8" fill="#0a0a0a"/>
<circle cx="535.8" cy="412.3" r="1.8" fill="#0a0a0a"/>
<circle cx="536.3" cy="413.9" r="1.8" fill="#0a0a0a"/>
<circle cx="542.1" cy="416.6" r="1.8" fill="#0a0a0a"/>
<circle cx="544.2" cy="413.5" r="1.8" fill="#0a0a0a"/>
<circle cx="546.2" cy="414.4" r="1.8" fill="#0a0a0a"/>
<circle cx="549.2" cy="414.0" r="1.8" fill="#0a0a0a"/>
<circle cx="549.7" cy="414.0" r="1.8" fill="#0a0a0a"/>
<circle cx="552.0" cy="414.7" r="1.8" fill="#0a0a0a"/>
<circle cx="554.7" cy="414.4" r="1.8" fill="#0a0a0a"/>
<circle cx="555.8" cy="415.0" r="1.8" fill="#0a0a0a"/>
<circle cx="557.8" cy="414.5" r="1.8" fill="#0a0a0a"/>
<circle cx="559.6" cy="414.5" r="1.8" fill="#0a0a0a"/>
<circle cx="560.7" cy="416.2" r="1.8" fill="#0a0a0a"/>
<circle cx="563.7" cy="413.4" r="1.8" fill="#0a0a0a"/>
<circle cx="565.4" cy="413.5" r="1.8" fill="#0a0a0a"/>
<circle cx="566.4" cy="411.6" r="1.8" fill="#0a0a0a"/>
<circle cx="542.2" cy="433.0" r="1.8" fill="#0a0a0a"/>
<circle cx="542.4" cy="431.2" r="1.8" fill="#0a0a0a"/>
<circle cx="542.7" cy="440.6" r="1.8" fill="#0a0a0a"/>
<circle cx="543.2" cy="417.4" r="1.8" fill="#0a0a0a"/>
<circle cx="543.5" cy="428.1" r="1.8" fill="#0a0a0a"/>
<circle cx="543.8" cy="425.4" r="1.8" fill="#0a0a0a"/>
<circle cx="544.3" cy="432.8" r="1.8" fill="#0a0a0a"/>
<circle cx="544.6" cy="428.2" r="1.8" fill="#0a0a0a"/>
<circle cx="544.8" cy="423.6" r="1.8" fill="#0a0a0a"/>
<circle cx="545.1" cy="433.2" r="1.8" fill="#0a0a0a"/>
<circle cx="545.5" cy="443.3" r="1.8" fill="#0a0a0a"/>
<circle cx="545.9" cy="442.8" r="1.8" fill="#0a0a0a"/>
<circle cx="546.2" cy="433.2" r="1.8" fill="#0a0a0a"/>
<circle cx="546.3" cy="433.4" r="1.8" fill="#0a0a0a"/>
<circle cx="546.8" cy="438.0" r="1.8" fill="#0a0a0a"/>
<circle cx="547.1" cy="438.7" r="1.8" fill="#0a0a0a"/>
<circle cx="547.3" cy="439.4" r="1.8" fill="#0a0a0a"/>
<circle cx="547.8" cy="437.2" r="1.8" fill="#0a0a0a"/>
<circle cx="548.1" cy="447.4" r="1.8" fill="#0a0a0a"/>
<circle cx="548.5" cy="441.8" r="1.8" fill="#0a0a0a"/>
<circle cx="548.6" cy="426.5" r="1.8" fill="#0a0a0a"/>
<circle cx="549.0" cy="435.6" r="1.8" fill="#0a0a0a"/>
<circle cx="549.5" cy="438.4" r="1.8" fill="#0a0a0a"/>
<circle cx="549.9" cy="427.9" r="1.8" fill="#0a0a0a"/>
<circle cx="550.1" cy="428.5" r="1.8" fill="#0a0a0a"/>
<circle cx="550.5" cy="424.4" r="1.8" fill="#0a0a0a"/>
<circle cx="550.8" cy="446.4" r="1.8" fill="#0a0a0a"/>
<circle cx="550.9" cy="427.5" r="1.8" fill="#0a0a0a"/>
<circle cx="551.3" cy="425.7" r="1.8" fill="#0a0a0a"/>
<circle cx="551.6" cy="435.8" r="1.8" fill="#0a0a0a"/>
<circle cx="552.0" cy="435.8" r="1.8" fill="#0a0a0a"/>
<circle cx="552.4" cy="440.8" r="1.8" fill="#0a0a0a"/>
<circle cx="552.7" cy="446.2" r="1.8" fill="#0a0a0a"/>
<circle cx="553.2" cy="424.8" r="1.8" fill="#0a0a0a"/>
<circle cx="553.3" cy="420.7" r="1.8" fill="#0a0a0a"/>
<circle cx="553.7" cy="439.9" r="1.8" fill="#0a0a0a"/>
<circle cx="553.9" cy="428.9" r="1.8" fill="#0a0a0a"/>
<circle cx="554.2" cy="438.6" r="1.8" fill="#0a0a0a"/>
<circle cx="554.7" cy="445.5" r="1.8" fill="#0a0a0a"/>
<circle cx="555.1" cy="437.4" r="1.8" fill="#0a0a0a"/>
<circle cx="555.4" cy="445.7" r="1.8" fill="#0a0a0a"/>
<circle cx="555.7" cy="427.1" r="1.8" fill="#0a0a0a"/>
<circle cx="555.9" cy="419.5" r="1.8" fill="#0a0a0a"/>
<circle cx="556.3" cy="420.8" r="1.8" fill="#0a0a0a"/>
<circle cx="556.7" cy="422.7" r="1.8" fill="#0a0a0a"/>
<circle cx="556.8" cy="427.4" r="1.8" fill="#0a0a0a"/>
<circle cx="557.3" cy="437.5" r="1.8" fill="#0a0a0a"/>
<circle cx="557.5" cy="438.4" r="1.8" fill="#0a0a0a"/>
<circle cx="557.8" cy="423.5" r="1.8" fill="#0a0a0a"/>
<circle cx="558.4" cy="432.5" r="1.8" fill="#0a0a0a"/>
<circle cx="558.5" cy="430.1" r="1.8" fill="#0a0a0a"/>
<circle cx="558.8" cy="426.6" r="1.8" fill="#0a0a0a"/>
<circle cx="559.2" cy="434.3" r="1.8" fill="#0a0a0a"/>
<circle cx="559.5" cy="439.4" r="1.8" fill="#0a0a0a"/>
<circle cx="560.0" cy="422.3" r="1.8" fill="#0a0a0a"/>
<circle cx="560.3" cy="439.0" r="1.8" fill="#0a0a0a"/>
<circle cx="560.4" cy="423.3" r="1.8" fill="#0a0a0a"/>
<circle cx="560.8" cy="439.4" r="1.8" fill="#0a0a0a"/>
<circle cx="561.2" cy="422.8" r="1.8" fill="#0a0a0a"/>
<circle cx="561.5" cy="423.9" r="1.8" fill="#0a0a0a"/>
<circle cx="561.9" cy="433.2" r="1.8" fill="#0a0a0a"/>
<circle cx="562.2" cy="427.3" r="1.8" fill="#0a0a0a"/>
<circle cx="562.5" cy="437.6" r="1.8" fill="#0a0a0a"/>
<circle cx="563.0" cy="418.2" r="1.8" fill="#0a0a0a"/>
<circle cx="563.3" cy="436.1" r="1.8" fill="#0a0a0a"/>
<circle cx="563.5" cy="432.1" r="1.8" fill="#0a0a0a"/>
<circle cx="563.8" cy="429.3" r="1.8" fill="#0a0a0a"/>
<circle cx="564.3" cy="419.6" r="1.8" fill="#0a0a0a"/>
<circle cx="564.4" cy="417.1" r="1.8" fill="#0a0a0a"/>
<circle cx="564.9" cy="418.6" r="1.8" fill="#0a0a0a"/>
<circle cx="565.2" cy="422.6" r="1.8" fill="#0a0a0a"/>
<circle cx="565.4" cy="423.9" r="1.8" fill="#0a0a0a"/>
<circle cx="565.9" cy="423.9" r="1.8" fill="#0a0a0a"/>
<circle cx="566.0" cy="431.6" r="1.8" fill="#0a0a0a"/>
<circle cx="566.4" cy="429.7" r="1.8" fill="#0a0a0a"/>
<circle cx="567.0" cy="420.9" r="1.8" fill="#0a0a0a"/>
<circle cx="567.2" cy="423.7" r="1.8" fill="#0a0a0a"/>
<circle cx="567.5" cy="422.4" r="1.8" fill="#0a0a0a"/>
<circle cx="574.5" cy="415.9" r="1.8" fill="#0a0a0a"/>
<circle cx="576.7" cy="415.5" r="1.8" fill="#0a0a0a"/>
<circle cx="578.3" cy="413.7" r="1.8" fill="#0a0a0a"/>
<circle cx="579.5" cy="411.5" r="1.8" fill="#0a0a0a"/>
<circle cx="582.0" cy="416.4" r="1.8" fill="#0a0a0a"/>
<circle cx="583.6" cy="414.6" r="1.8" fill="#0a0a0a"/>
<circle cx="585.0" cy="415.3" r="1.8" fill="#0a0a0a"/>
<circle cx="587.6" cy="409.6" r="1.8" fill="#0a0a0a"/>
<circle cx="588.2" cy="408.6" r="1.8" fill="#0a0a0a"/>
<circle cx="590.6" cy="410.8" r="1.8" fill="#0a0a0a"/>
<circle cx="592.9" cy="414.5" r="1.8" fill="#0a0a0a"/>
<circle cx="594.9" cy="407.6" r="1.8" fill="#0a0a0a"/>
<circle cx="596.9" cy="406.7" r="1.8" fill="#0a0a0a"/>
<circle cx="597.1" cy="402.7" r="1.8" fill="#0a0a0a"/>
<circle cx="573.3" cy="430.8" r="1.8" fill="#0a0a0a"/>
<circle cx="573.6" cy="421.2" r="1.8" fill="#0a0a0a"/>
<circle cx="574.0" cy="438.9" r="1.8" fill="#0a0a0a"/>
<circle cx="574.2" cy="433.8" r="1.8" fill="#0a0a0a"/>
<circle cx="574.7" cy="421.6" r="1.8" fill="#0a0a0a"/>
<circle cx="575.1" cy="427.6" r="1.8" fill="#0a0a0a"/>
<circle cx="575.3" cy="426.3" r="1.8" fill="#0a0a0a"/>
<circle cx="575.7" cy="427.3" r="1.8" fill="#0a0a0a"/>
<circle cx="575.9" cy="434.8" r="1.8" fill="#0a0a0a"/>
<circle cx="576.4" cy="430.0" r="1.8" fill="#0a0a0a"/>
<circle cx="576.8" cy="426.5" r="1.8" fill="#0a0a0a"/>
<circle cx="576.8" cy="421.7" r="1.8" fill="#0a0a0a"/>
<circle cx="577.4" cy="437.3" r="1.8" fill="#0a0a0a"/>
<circle cx="577.6" cy="428.4" r="1.8" fill="#0a0a0a"/>
<circle cx="578.1" cy="435.4" r="1.8" fill="#0a0a0a"/>
<circle cx="578.2" cy="424.9" r="1.8" fill="#0a0a0a"/>
<circle cx="578.7" cy="435.8" r="1.8" fill="#0a0a0a"/>
<circle cx="578.8" cy="429.3" r="1.8" fill="#0a0a0a"/>
<circle cx="579.3" cy="440.3" r="1.8" fill="#0a0a0a"/>
<circle cx="579.5" cy="439.1" r="1.8" fill="#0a0a0a"/>
<circle cx="580.0" cy="417.7" r="1.8" fill="#0a0a0a"/>
<circle cx="580.2" cy="446.7" r="1.8" fill="#0a0a0a"/>
<circle cx="580.6" cy="432.0" r="1.8" fill="#0a0a0a"/>
<circle cx="580.8" cy="424.9" r="1.8" fill="#0a0a0a"/>
<circle cx="581.1" cy="419.8" r="1.8" fill="#0a0a0a"/>
<circle cx="581.6" cy="439.0" r="1.8" fill="#0a0a0a"/>
<circle cx="581.9" cy="418.2" r="1.8" fill="#0a0a0a"/>
<circle cx="582.1" cy="428.7" r="1.8" fill="#0a0a0a"/>
<circle cx="582.5" cy="421.9" r="1.8" fill="#0a0a0a"/>
<circle cx="583.0" cy="423.7" r="1.8" fill="#0a0a0a"/>
<circle cx="583.3" cy="418.6" r="1.8" fill="#0a0a0a"/>
<circle cx="583.7" cy="442.4" r="1.8" fill="#0a0a0a"/>
<circle cx="583.9" cy="445.4" r="1.8" fill="#0a0a0a"/>
<circle cx="584.3" cy="436.7" r="1.8" fill="#0a0a0a"/>
<circle cx="584.5" cy="443.3" r="1.8" fill="#0a0a0a"/>
<circle cx="585.0" cy="437.8" r="1.8" fill="#0a0a0a"/>
<circle cx="585.3" cy="439.1" r="1.8" fill="#0a0a0a"/>
<circle cx="585.3" cy="444.6" r="1.8" fill="#0a0a0a"/>
<circle cx="586.0" cy="416.7" r="1.8" fill="#0a0a0a"/>
<circle cx="586.2" cy="440.2" r="1.8" fill="#0a0a0a"/>
<circle cx="586.6" cy="420.3" r="1.8" fill="#0a0a0a"/>
<circle cx="586.9" cy="444.8" r="1.8" fill="#0a0a0a"/>
<circle cx="587.2" cy="438.1" r="1.8" fill="#0a0a0a"/>
<circle cx="587.6" cy="438.9" r="1.8" fill="#0a0a0a"/>
<circle cx="587.7" cy="436.8" r="1.8" fill="#0a0a0a"/>
<circle cx="588.2" cy="420.9" r="1.8" fill="#0a0a0a"/>
<circle cx="588.5" cy="434.8" r="1.8" fill="#0a0a0a"/>
<circle cx="588.9" cy="443.0" r="1.8" fill="#0a0a0a"/>
<circle cx="589.2" cy="432.3" r="1.8" fill="#0a0a0a"/>
<circle cx="589.4" cy="438.4" r="1.8" fill="#0a0a0a"/>
<circle cx="589.9" cy="416.1" r="1.8" fill="#0a0a0a"/>
<circle cx="590.3" cy="424.6" r="1.8" fill="#0a0a0a"/>
<circle cx="590.4" cy="417.3" r="1.8" fill="#0a0a0a"/>
<circle cx="590.6" cy="419.1" r="1.8" fill="#0a0a0a"/>
<circle cx="591.2" cy="415.5" r="1.8" fill="#0a0a0a"/>
<circle cx="591.5" cy="437.2" r="1.8" fill="#0a0a0a"/>
<circle cx="591.8" cy="423.6" r="1.8" fill="#0a0a0a"/>
<circle cx="592.0" cy="425.8" r="1.8" fill="#0a0a0a"/>
<circle cx="592.5" cy="423.6" r="1.8" fill="#0a0a0a"/>
<circle cx="592.6" cy="417.4" r="1.8" fill="#0a0a0a"/>
<circle cx="593.2" cy="425.3" r="1.8" fill="#0a0a0a"/>
<circle cx="593.3" cy="431.1" r="1.8" fill="#0a0a0a"/>
<circle cx="593.9" cy="425.3" r="1.8" fill="#0a0a0a"/>
<circle cx="593.9" cy="426.7" r="1.8" fill="#0a0a0a"/>
<circle cx="594.4" cy="431.9" r="1.8" fill="#0a0a0a"/>
<circle cx="594.8" cy="425.4" r="1.8" fill="#0a0a0a"/>
<circle cx="595.2" cy="431.4" r="1.8" fill="#0a0a0a"/>
<circle cx="595.3" cy="413.0" r="1.8" fill="#0a0a0a"/>
<circle cx="595.7" cy="424.3" r="1.8" fill="#0a0a0a"/>
<circle cx="595.9" cy="427.4" r="1.8" fill="#0a0a0a"/>
<circle cx="596.3" cy="421.9" r="1.8" fill="#0a0a0a"/>
<circle cx="596.5" cy="423.3" r="1.8" fill="#0a0a0a"/>
<circle cx="597.0" cy="421.4" r="1.8" fill="#0a0a0a"/>
<circle cx="597.4" cy="419.8" r="1.8" fill="#0a0a0a"/>
<circle cx="597.7" cy="413.5" r="1.8" fill="#0a0a0a"/>
<circle cx="598.1" cy="422.2" r="1.8" fill="#0a0a0a"/>
<circle cx="598.2" cy="419.2" r="1.8" fill="#0a0a0a"/>
<circle cx="598.7" cy="429.1" r="1.8" fill="#0a0a0a"/>
<circle cx="121.8" cy="459.8" r="1.8" fill="#0a0a0a"/>
<circle cx="129.8" cy="414.1" r="1.8" fill="#0a0a0a"/>
<circle cx="142.9" cy="453.8" r="1.8" fill="#0a0a0a"/>
<circle cx="157.8" cy="460.5" r="1.8" fill="#0a0a0a"/>
<circle cx="148.9" cy="413.4" r="1.8" fill="#0a0a0a"/>
<circle cx="170.7" cy="412.9" r="1.8" fill="#0a0a0a"/>
<circle cx="194.3" cy="398.0" r="1.8" fill="#0a0a0a"/>
<circle cx="193.1" cy="412.1" r="1.8" fill="#0a0a0a"/>
<circle cx="182.4" cy="463.0" r="1.8" fill="#0a0a0a"/>
<circle cx="211.2" cy="367.4" r="1.8" fill="#0a0a0a"/>
<circle cx="220.9" cy="385.3" r="1.8" fill="#0a0a0a"/>
<circle cx="212.9" cy="448.1" r="1.8" fill="#0a0a0a"/>
<circle cx="200.5" cy="441.2" r="1.8" fill="#0a0a0a"/>
<circle cx="238.2" cy="453.8" r="1.8" fill="#0a0a0a"/>
<circle cx="248.2" cy="461.3" r="1.8" fill="#0a0a0a"/>
<circle cx="237.0" cy="466.2" r="1.8" fill="#0a0a0a"/>
<circle cx="245.7" cy="466.7" r="1.8" fill="#0a0a0a"/>
<circle cx="232.0" cy="469.9" r="1.8" fill="#0a0a0a"/>
<circle cx="240.7" cy="482.1" r="1.8" fill="#0a0a0a"/>
<circle cx="274.9" cy="469.2" r="1.8" fill="#0a0a0a"/>
<circle cx="276.1" cy="449.3" r="1.8" fill="#0a0a0a"/>
<circle cx="297.2" cy="451.3" r="1.8" fill="#0a0a0a"/>
<circle cx="334.5" cy="465.5" r="1.8" fill="#0a0a0a"/>
<circle cx="369.2" cy="461.0" r="1.8" fill="#0a0a0a"/>
<circle cx="371.2" cy="461.0" r="1.8" fill="#0a0a0a"/>
<circle cx="368.5" cy="469.2" r="1.8" fill="#0a0a0a"/>
<circle cx="376.1" cy="440.7" r="1.8" fill="#0a0a0a"/>
<circle cx="356.3" cy="445.1" r="1.8" fill="#0a0a0a"/>
<circle cx="422.1" cy="390.5" r="1.8" fill="#0a0a0a"/>
<circle cx="390.8" cy="449.8" r="1.8" fill="#0a0a0a"/>
<circle cx="402.0" cy="460.5" r="1.8" fill="#0a0a0a"/>
<circle cx="422.4" cy="390.5" r="1.8" fill="#0a0a0a"/>
<circle cx="418.7" cy="458.8" r="1.8" fill="#0a0a0a"/>
<circle cx="430.4" cy="458.8" r="1.8" fill="#0a0a0a"/>
<circle cx="420.0" cy="450.6" r="1.8" fill="#0a0a0a"/>
<circle cx="431.1" cy="452.3" r="1.8" fill="#0a0a0a"/>
<circle cx="483.2" cy="441.2" r="1.8" fill="#0a0a0a"/>
<circle cx="486.2" cy="444.4" r="1.8" fill="#0a0a0a"/>
<circle cx="534.1" cy="442.6" r="1.8" fill="#0a0a0a"/>
<circle cx="513.8" cy="405.4" r="1.8" fill="#0a0a0a"/>
<circle cx="542.8" cy="452.3" r="1.8" fill="#0a0a0a"/>
<circle cx="560.2" cy="447.4" r="1.8" fill="#0a0a0a"/>
<circle cx="564.6" cy="405.4" r="1.8" fill="#0a0a0a"/>
<circle cx="426.2" cy="412.1" r="1.8" fill="#0a0a0a"/>
<circle cx="428.6" cy="410.4" r="1.8" fill="#0a0a0a"/>
<circle cx="431.1" cy="408.9" r="1.8" fill="#0a0a0a"/>
<circle cx="433.6" cy="407.2" r="1.8" fill="#0a0a0a"/>
<circle cx="436.1" cy="405.7" r="1.8" fill="#0a0a0a"/>
<circle cx="438.6" cy="404.2" r="1.8" fill="#0a0a0a"/>
<circle cx="441.1" cy="402.7" r="1.8" fill="#0a0a0a"/>
<circle cx="429.9" cy="418.3" r="1.8" fill="#0a0a0a"/>
<circle cx="432.4" cy="419.6" r="1.8" fill="#0a0a0a"/>
<circle cx="434.9" cy="420.6" r="1.8" fill="#0a0a0a"/>
<circle cx="437.3" cy="421.5" r="1.8" fill="#0a0a0a"/>
<circle cx="439.8" cy="422.5" r="1.8" fill="#0a0a0a"/>
<circle cx="599.4" cy="402.2" r="1.8" fill="#0a0a0a"/>
<circle cx="589.0" cy="453.1" r="1.8" fill="#0a0a0a"/>
<circle cx="592.7" cy="449.3" r="1.8" fill="#0a0a0a"/>
<circle cx="542.8" cy="452.3" r="1.8" fill="#0a0a0a"/>
<circle cx="560.2" cy="447.4" r="1.8" fill="#0a0a0a"/>
<circle cx="533.6" cy="442.6" r="1.8" fill="#0a0a0a"/>
<circle cx="132.3" cy="403.9" r="2.2" fill="#d2691e" stroke="#b4561a" stroke-width="0.7"/>
<circle cx="131.5" cy="408.4" r="2.2" fill="#d2691e" stroke="#b4561a" stroke-width="0.7"/>
<circle cx="131.0" cy="412.1" r="2.2" fill="#d2691e" stroke="#b4561a" stroke-width="0.7"/>
<circle cx="131.0" cy="415.8" r="2.2" fill="#d2691e" stroke="#b4561a" stroke-width="0.7"/>
<circle cx="131.0" cy="418.8" r="2.2" fill="#d2691e" stroke="#b4561a" stroke-width="0.7"/>
<circle cx="161.5" cy="401.4" r="2.2" fill="#d2691e" stroke="#b4561a" stroke-width="0.7"/>
<circle cx="164.0" cy="402.2" r="2.2" fill="#d2691e" stroke="#b4561a" stroke-width="0.7"/>
<circle cx="163.3" cy="410.4" r="2.2" fill="#d2691e" stroke="#b4561a" stroke-width="0.7"/>
<circle cx="162.5" cy="414.6" r="2.2" fill="#d2691e" stroke="#b4561a" stroke-width="0.7"/>
<circle cx="162.0" cy="417.6" r="2.2" fill="#d2691e" stroke="#b4561a" stroke-width="0.7"/>
<circle cx="225.8" cy="398.5" r="2.2" fill="#d2691e" stroke="#b4561a" stroke-width="0.7"/>
<circle cx="224.1" cy="407.2" r="2.2" fill="#d2691e" stroke="#b4561a" stroke-width="0.7"/>
<circle cx="225.8" cy="408.4" r="2.2" fill="#d2691e" stroke="#b4561a" stroke-width="0.7"/>
<circle cx="224.6" cy="413.4" r="2.2" fill="#d2691e" stroke="#b4561a" stroke-width="0.7"/>
<circle cx="224.6" cy="417.6" r="2.2" fill="#d2691e" stroke="#b4561a" stroke-width="0.7"/>
<circle cx="224.6" cy="420.8" r="2.2" fill="#d2691e" stroke="#b4561a" stroke-width="0.7"/>
<circle cx="256.8" cy="397.7" r="2.2" fill="#d2691e" stroke="#b4561a" stroke-width="0.7"/>
<circle cx="256.4" cy="402.7" r="2.2" fill="#d2691e" stroke="#b4561a" stroke-width="0.7"/>
<circle cx="256.4" cy="409.6" r="2.2" fill="#d2691e" stroke="#b4561a" stroke-width="0.7"/>
<circle cx="255.9" cy="415.1" r="2.2" fill="#d2691e" stroke="#b4561a" stroke-width="0.7"/>
<circle cx="255.4" cy="419.6" r="2.2" fill="#d2691e" stroke="#b4561a" stroke-width="0.7"/>
<circle cx="288.0" cy="398.5" r="2.2" fill="#d2691e" stroke="#b4561a" stroke-width="0.7"/>
<circle cx="286.1" cy="406.4" r="2.2" fill="#d2691e" stroke="#b4561a" stroke-width="0.7"/>
<circle cx="287.8" cy="413.4" r="2.2" fill="#d2691e" stroke="#b4561a" stroke-width="0.7"/>
<circle cx="286.8" cy="415.8" r="2.2" fill="#d2691e" stroke="#b4561a" stroke-width="0.7"/>
<circle cx="319.1" cy="397.7" r="2.2" fill="#d2691e" stroke="#b4561a" stroke-width="0.7"/>
<circle cx="317.6" cy="406.4" r="2.2" fill="#d2691e" stroke="#b4561a" stroke-width="0.7"/>
<circle cx="319.1" cy="409.6" r="2.2" fill="#d2691e" stroke="#b4561a" stroke-width="0.7"/>
<circle cx="318.6" cy="413.4" r="2.2" fill="#d2691e" stroke="#b4561a" stroke-width="0.7"/>
<circle cx="318.3" cy="417.1" r="2.2" fill="#d2691e" stroke="#b4561a" stroke-width="0.7"/>
<circle cx="318.1" cy="420.1" r="2.2" fill="#d2691e" stroke="#b4561a" stroke-width="0.7"/>
<circle cx="350.3" cy="397.0" r="2.2" fill="#d2691e" stroke="#b4561a" stroke-width="0.7"/>
<circle cx="348.4" cy="408.4" r="2.2" fill="#d2691e" stroke="#b4561a" stroke-width="0.7"/>
<circle cx="349.8" cy="413.4" r="2.2" fill="#d2691e" stroke="#b4561a" stroke-width="0.7"/>
<circle cx="349.3" cy="417.6" r="2.2" fill="#d2691e" stroke="#b4561a" stroke-width="0.7"/>
<circle cx="381.6" cy="402.7" r="2.2" fill="#d2691e" stroke="#b4561a" stroke-width="0.7"/>
<circle cx="379.6" cy="404.7" r="2.2" fill="#d2691e" stroke="#b4561a" stroke-width="0.7"/>
<circle cx="381.1" cy="413.4" r="2.2" fill="#d2691e" stroke="#b4561a" stroke-width="0.7"/>
<circle cx="379.6" cy="415.8" r="2.2" fill="#d2691e" stroke="#b4561a" stroke-width="0.7"/>
<circle cx="410.6" cy="405.4" r="2.2" fill="#d2691e" stroke="#b4561a" stroke-width="0.7"/>
<circle cx="412.6" cy="404.7" r="2.2" fill="#d2691e" stroke="#b4561a" stroke-width="0.7"/>
<circle cx="411.9" cy="409.6" r="2.2" fill="#d2691e" stroke="#b4561a" stroke-width="0.7"/>
<circle cx="412.4" cy="413.4" r="2.2" fill="#d2691e" stroke="#b4561a" stroke-width="0.7"/>
<circle cx="412.1" cy="418.3" r="2.2" fill="#d2691e" stroke="#b4561a" stroke-width="0.7"/>
<circle cx="444.3" cy="400.9" r="2.2" fill="#d2691e" stroke="#b4561a" stroke-width="0.7"/>
<circle cx="442.8" cy="410.9" r="2.2" fill="#d2691e" stroke="#b4561a" stroke-width="0.7"/>
<circle cx="444.3" cy="412.6" r="2.2" fill="#d2691e" stroke="#b4561a" stroke-width="0.7"/>
<circle cx="443.5" cy="416.6" r="2.2" fill="#d2691e" stroke="#b4561a" stroke-width="0.7"/>
<circle cx="475.1" cy="390.3" r="2.2" fill="#d2691e" stroke="#b4561a" stroke-width="0.7"/>
<circle cx="473.3" cy="400.9" r="2.2" fill="#d2691e" stroke="#b4561a" stroke-width="0.7"/>
<circle cx="474.6" cy="412.1" r="2.2" fill="#d2691e" stroke="#b4561a" stroke-width="0.7"/>
<circle cx="474.6" cy="415.8" r="2.2" fill="#d2691e" stroke="#b4561a" stroke-width="0.7"/>
<circle cx="474.1" cy="419.6" r="2.2" fill="#d2691e" stroke="#b4561a" stroke-width="0.7"/>
<circle cx="473.8" cy="424.0" r="2.2" fill="#d2691e" stroke="#b4561a" stroke-width="0.7"/>
<circle cx="506.3" cy="401.4" r="2.2" fill="#d2691e" stroke="#b4561a" stroke-width="0.7"/>
<circle cx="504.3" cy="405.2" r="2.2" fill="#d2691e" stroke="#b4561a" stroke-width="0.7"/>
<circle cx="505.6" cy="410.9" r="2.2" fill="#d2691e" stroke="#b4561a" stroke-width="0.7"/>
<circle cx="505.8" cy="415.8" r="2.2" fill="#d2691e" stroke="#b4561a" stroke-width="0.7"/>
<circle cx="505.1" cy="419.1" r="2.2" fill="#d2691e" stroke="#b4561a" stroke-width="0.7"/>
<circle cx="537.1" cy="401.4" r="2.2" fill="#d2691e" stroke="#b4561a" stroke-width="0.7"/>
<circle cx="535.4" cy="404.7" r="2.2" fill="#d2691e" stroke="#b4561a" stroke-width="0.7"/>
<circle cx="537.1" cy="412.6" r="2.2" fill="#d2691e" stroke="#b4561a" stroke-width="0.7"/>
<circle cx="536.6" cy="415.8" r="2.2" fill="#d2691e" stroke="#b4561a" stroke-width="0.7"/>
<circle cx="536.6" cy="419.1" r="2.2" fill="#d2691e" stroke="#b4561a" stroke-width="0.7"/>
<circle cx="568.9" cy="390.5" r="2.2" fill="#d2691e" stroke="#b4561a" stroke-width="0.7"/>
<circle cx="567.9" cy="404.7" r="2.2" fill="#d2691e" stroke="#b4561a" stroke-width="0.7"/>
<circle cx="567.6" cy="407.2" r="2.2" fill="#d2691e" stroke="#b4561a" stroke-width="0.7"/>
<circle cx="567.1" cy="411.4" r="2.2" fill="#d2691e" stroke="#b4561a" stroke-width="0.7"/>
<circle cx="567.1" cy="418.8" r="2.2" fill="#d2691e" stroke="#b4561a" stroke-width="0.7"/>
<circle cx="104.0" cy="571.9" r="2.3" fill="#2c3a9c" stroke="#1b2478" stroke-width="0.5"/>
<circle cx="105.2" cy="571.6" r="2.3" fill="#2c3a9c" stroke="#1b2478" stroke-width="0.5"/>
<circle cx="106.4" cy="571.3" r="2.3" fill="#2c3a9c" stroke="#1b2478" stroke-width="0.5"/>
<circle cx="135.2" cy="571.9" r="2.3" fill="#2c3a9c" stroke="#1b2478" stroke-width="0.5"/>
<circle cx="136.4" cy="571.6" r="2.3" fill="#2c3a9c" stroke="#1b2478" stroke-width="0.5"/>
<circle cx="137.6" cy="571.3" r="2.3" fill="#2c3a9c" stroke="#1b2478" stroke-width="0.5"/>
<circle cx="166.3" cy="571.9" r="2.3" fill="#2c3a9c" stroke="#1b2478" stroke-width="0.5"/>
<circle cx="167.5" cy="571.6" r="2.3" fill="#2c3a9c" stroke="#1b2478" stroke-width="0.5"/>
<circle cx="168.7" cy="571.3" r="2.3" fill="#2c3a9c" stroke="#1b2478" stroke-width="0.5"/>
<circle cx="197.5" cy="571.9" r="2.3" fill="#2c3a9c" stroke="#1b2478" stroke-width="0.5"/>
<circle cx="198.7" cy="571.6" r="2.3" fill="#2c3a9c" stroke="#1b2478" stroke-width="0.5"/>
<circle cx="199.9" cy="571.3" r="2.3" fill="#2c3a9c" stroke="#1b2478" stroke-width="0.5"/>
<circle cx="228.7" cy="571.9" r="2.3" fill="#2c3a9c" stroke="#1b2478" stroke-width="0.5"/>
<circle cx="229.9" cy="571.6" r="2.3" fill="#2c3a9c" stroke="#1b2478" stroke-width="0.5"/>
<circle cx="231.1" cy="571.3" r="2.3" fill="#2c3a9c" stroke="#1b2478" stroke-width="0.5"/>
<circle cx="259.9" cy="571.9" r="2.3" fill="#2c3a9c" stroke="#1b2478" stroke-width="0.5"/>
<circle cx="261.1" cy="571.6" r="2.3" fill="#2c3a9c" stroke="#1b2478" stroke-width="0.5"/>
<circle cx="262.2" cy="571.3" r="2.3" fill="#2c3a9c" stroke="#1b2478" stroke-width="0.5"/>
<circle cx="291.0" cy="571.9" r="2.3" fill="#2c3a9c" stroke="#1b2478" stroke-width="0.5"/>
<circle cx="292.2" cy="571.6" r="2.3" fill="#2c3a9c" stroke="#1b2478" stroke-width="0.5"/>
<circle cx="293.4" cy="571.3" r="2.3" fill="#2c3a9c" stroke="#1b2478" stroke-width="0.5"/>
<circle cx="322.2" cy="571.9" r="2.3" fill="#2c3a9c" stroke="#1b2478" stroke-width="0.5"/>
<circle cx="323.4" cy="571.6" r="2.3" fill="#2c3a9c" stroke="#1b2478" stroke-width="0.5"/>
<circle cx="324.6" cy="571.3" r="2.3" fill="#2c3a9c" stroke="#1b2478" stroke-width="0.5"/>
<circle cx="353.4" cy="571.9" r="2.3" fill="#2c3a9c" stroke="#1b2478" stroke-width="0.5"/>
<circle cx="354.6" cy="571.6" r="2.3" fill="#2c3a9c" stroke="#1b2478" stroke-width="0.5"/>
<circle cx="355.8" cy="571.3" r="2.3" fill="#2c3a9c" stroke="#1b2478" stroke-width="0.5"/>
<circle cx="384.5" cy="571.9" r="2.3" fill="#2c3a9c" stroke="#1b2478" stroke-width="0.5"/>
<circle cx="385.7" cy="571.6" r="2.3" fill="#2c3a9c" stroke="#1b2478" stroke-width="0.5"/>
<circle cx="386.9" cy="571.3" r="2.3" fill="#2c3a9c" stroke="#1b2478" stroke-width="0.5"/>
<circle cx="415.7" cy="571.9" r="2.3" fill="#2c3a9c" stroke="#1b2478" stroke-width="0.5"/>
<circle cx="416.9" cy="571.6" r="2.3" fill="#2c3a9c" stroke="#1b2478" stroke-width="0.5"/>
<circle cx="418.1" cy="571.3" r="2.3" fill="#2c3a9c" stroke="#1b2478" stroke-width="0.5"/>
<circle cx="446.9" cy="571.9" r="2.3" fill="#2c3a9c" stroke="#1b2478" stroke-width="0.5"/>
<circle cx="448.1" cy="571.6" r="2.3" fill="#2c3a9c" stroke="#1b2478" stroke-width="0.5"/>
<circle cx="449.3" cy="571.3" r="2.3" fill="#2c3a9c" stroke="#1b2478" stroke-width="0.5"/>
<circle cx="478.0" cy="571.9" r="2.3" fill="#2c3a9c" stroke="#1b2478" stroke-width="0.5"/>
<circle cx="479.2" cy="571.6" r="2.3" fill="#2c3a9c" stroke="#1b2478" stroke-width="0.5"/>
<circle cx="480.4" cy="571.3" r="2.3" fill="#2c3a9c" stroke="#1b2478" stroke-width="0.5"/>
<circle cx="509.2" cy="571.9" r="2.3" fill="#2c3a9c" stroke="#1b2478" stroke-width="0.5"/>
<circle cx="510.4" cy="571.6" r="2.3" fill="#2c3a9c" stroke="#1b2478" stroke-width="0.5"/>
<circle cx="511.6" cy="571.3" r="2.3" fill="#2c3a9c" stroke="#1b2478" stroke-width="0.5"/>
<circle cx="540.4" cy="571.9" r="2.3" fill="#2c3a9c" stroke="#1b2478" stroke-width="0.5"/>
<circle cx="541.6" cy="571.6" r="2.3" fill="#2c3a9c" stroke="#1b2478" stroke-width="0.5"/>
<circle cx="542.8" cy="571.3" r="2.3" fill="#2c3a9c" stroke="#1b2478" stroke-width="0.5"/>
<circle cx="571.6" cy="571.8" r="2.3" fill="#0a0a0a"/>
<circle cx="573.6" cy="571.6" r="2.3" fill="#0a0a0a"/>
<circle cx="488.9" cy="515.7" r="1.8" fill="#0a0a0a"/>
<text x="487.30" y="510.80" font-size="19.4" text-anchor="start" font-weight="normal" fill="#222222" >4</text>
<circle cx="486.2" cy="527.8" r="1.8" fill="#0a0a0a"/>
<text x="470.60" y="537.00" font-size="19.4" text-anchor="start" font-weight="normal" fill="#222222" >3</text>
<circle cx="555.6" cy="539.4" r="1.8" fill="#0a0a0a"/>
<text x="540.20" y="547.50" font-size="19.4" text-anchor="start" font-weight="normal" fill="#222222" >5</text>
<circle cx="586.3" cy="500.5" r="1.8" fill="#0a0a0a"/>
<text x="589.00" y="510.40" font-size="19.4" text-anchor="start" font-weight="normal" fill="#222222" >6</text>
</g>
<g id="panelD">
<text x="-0.50" y="676.00" font-size="23.0" text-anchor="start" font-weight="bold" fill="#111" >D</text>
<text x="196.50" y="673.80" font-size="19.4" text-anchor="middle" font-weight="normal" fill="#222222" >stage V (day 12)</text>
<line x1="58.90" y1="683.53" x2="58.90" y2="896.95" stroke="#111111" stroke-width="1.9" />
<line x1="54.70" y1="896.00" x2="58.90" y2="896.00" stroke="#111111" stroke-width="1.5" />
<text x="53.40" y="901.30" font-size="19.4" text-anchor="end" font-weight="normal" fill="#222222" >0</text>
<line x1="54.70" y1="799.42" x2="58.90" y2="799.42" stroke="#111111" stroke-width="1.5" />
<text x="53.40" y="804.72" font-size="19.4" text-anchor="end" font-weight="normal" fill="#222222" >50</text>
<line x1="54.70" y1="702.85" x2="58.90" y2="702.85" stroke="#111111" stroke-width="1.5" />
<text x="53.40" y="708.15" font-size="19.4" text-anchor="end" font-weight="normal" fill="#222222" >100</text>
<text transform="translate(27,797.0) rotate(-90)" font-size="19.4" text-anchor="middle" fill="#222222">survival [%]</text>
<line x1="57.95" y1="896.00" x2="318.91" y2="896.00" stroke="#111111" stroke-width="1.9" />
<line x1="68.63" y1="896.00" x2="68.63" y2="898.50" stroke="#111111" stroke-width="0.9" />
<line x1="74.34" y1="896.00" x2="74.34" y2="898.50" stroke="#111111" stroke-width="0.9" />
<line x1="78.39" y1="896.00" x2="78.39" y2="898.50" stroke="#111111" stroke-width="0.9" />
<line x1="81.54" y1="896.00" x2="81.54" y2="898.50" stroke="#111111" stroke-width="0.9" />
<line x1="84.11" y1="896.00" x2="84.11" y2="898.50" stroke="#111111" stroke-width="0.9" />
<line x1="86.28" y1="896.00" x2="86.28" y2="898.50" stroke="#111111" stroke-width="0.9" />
<line x1="88.16" y1="896.00" x2="88.16" y2="898.50" stroke="#111111" stroke-width="0.9" />
<line x1="89.82" y1="896.00" x2="89.82" y2="898.50" stroke="#111111" stroke-width="0.9" />
<line x1="91.30" y1="896.00" x2="91.30" y2="899.80" stroke="#111111" stroke-width="1.5" />
<line x1="101.06" y1="896.00" x2="101.06" y2="898.50" stroke="#111111" stroke-width="0.9" />
<line x1="106.77" y1="896.00" x2="106.77" y2="898.50" stroke="#111111" stroke-width="0.9" />
<line x1="110.82" y1="896.00" x2="110.82" y2="898.50" stroke="#111111" stroke-width="0.9" />
<line x1="113.97" y1="896.00" x2="113.97" y2="898.50" stroke="#111111" stroke-width="0.9" />
<line x1="116.54" y1="896.00" x2="116.54" y2="898.50" stroke="#111111" stroke-width="0.9" />
<line x1="118.71" y1="896.00" x2="118.71" y2="898.50" stroke="#111111" stroke-width="0.9" />
<line x1="120.59" y1="896.00" x2="120.59" y2="898.50" stroke="#111111" stroke-width="0.9" />
<line x1="122.25" y1="896.00" x2="122.25" y2="898.50" stroke="#111111" stroke-width="0.9" />
<line x1="123.73" y1="896.00" x2="123.73" y2="899.80" stroke="#111111" stroke-width="1.5" />
<line x1="133.49" y1="896.00" x2="133.49" y2="898.50" stroke="#111111" stroke-width="0.9" />
<line x1="139.20" y1="896.00" x2="139.20" y2="898.50" stroke="#111111" stroke-width="0.9" />
<line x1="143.25" y1="896.00" x2="143.25" y2="898.50" stroke="#111111" stroke-width="0.9" />
<line x1="146.40" y1="896.00" x2="146.40" y2="898.50" stroke="#111111" stroke-width="0.9" />
<line x1="148.97" y1="896.00" x2="148.97" y2="898.50" stroke="#111111" stroke-width="0.9" />
<line x1="151.14" y1="896.00" x2="151.14" y2="898.50" stroke="#111111" stroke-width="0.9" />
<line x1="153.02" y1="896.00" x2="153.02" y2="898.50" stroke="#111111" stroke-width="0.9" />
<line x1="154.68" y1="896.00" x2="154.68" y2="898.50" stroke="#111111" stroke-width="0.9" />
<line x1="156.16" y1="896.00" x2="156.16" y2="899.80" stroke="#111111" stroke-width="1.5" />
<line x1="165.92" y1="896.00" x2="165.92" y2="898.50" stroke="#111111" stroke-width="0.9" />
<line x1="171.63" y1="896.00" x2="171.63" y2="898.50" stroke="#111111" stroke-width="0.9" />
<line x1="175.68" y1="896.00" x2="175.68" y2="898.50" stroke="#111111" stroke-width="0.9" />
<line x1="178.83" y1="896.00" x2="178.83" y2="898.50" stroke="#111111" stroke-width="0.9" />
<line x1="181.40" y1="896.00" x2="181.40" y2="898.50" stroke="#111111" stroke-width="0.9" />
<line x1="183.57" y1="896.00" x2="183.57" y2="898.50" stroke="#111111" stroke-width="0.9" />
<line x1="185.45" y1="896.00" x2="185.45" y2="898.50" stroke="#111111" stroke-width="0.9" />
<line x1="187.11" y1="896.00" x2="187.11" y2="898.50" stroke="#111111" stroke-width="0.9" />
<line x1="188.59" y1="896.00" x2="188.59" y2="899.80" stroke="#111111" stroke-width="1.5" />
<line x1="198.35" y1="896.00" x2="198.35" y2="898.50" stroke="#111111" stroke-width="0.9" />
<line x1="204.06" y1="896.00" x2="204.06" y2="898.50" stroke="#111111" stroke-width="0.9" />
<line x1="208.11" y1="896.00" x2="208.11" y2="898.50" stroke="#111111" stroke-width="0.9" />
<line x1="211.26" y1="896.00" x2="211.26" y2="898.50" stroke="#111111" stroke-width="0.9" />
<line x1="213.83" y1="896.00" x2="213.83" y2="898.50" stroke="#111111" stroke-width="0.9" />
<line x1="216.00" y1="896.00" x2="216.00" y2="898.50" stroke="#111111" stroke-width="0.9" />
<line x1="217.88" y1="896.00" x2="217.88" y2="898.50" stroke="#111111" stroke-width="0.9" />
<line x1="219.54" y1="896.00" x2="219.54" y2="898.50" stroke="#111111" stroke-width="0.9" />
<line x1="221.02" y1="896.00" x2="221.02" y2="899.80" stroke="#111111" stroke-width="1.5" />
<line x1="230.78" y1="896.00" x2="230.78" y2="898.50" stroke="#111111" stroke-width="0.9" />
<line x1="236.49" y1="896.00" x2="236.49" y2="898.50" stroke="#111111" stroke-width="0.9" />
<line x1="240.54" y1="896.00" x2="240.54" y2="898.50" stroke="#111111" stroke-width="0.9" />
<line x1="243.69" y1="896.00" x2="243.69" y2="898.50" stroke="#111111" stroke-width="0.9" />
<line x1="246.26" y1="896.00" x2="246.26" y2="898.50" stroke="#111111" stroke-width="0.9" />
<line x1="248.43" y1="896.00" x2="248.43" y2="898.50" stroke="#111111" stroke-width="0.9" />
<line x1="250.31" y1="896.00" x2="250.31" y2="898.50" stroke="#111111" stroke-width="0.9" />
<line x1="251.97" y1="896.00" x2="251.97" y2="898.50" stroke="#111111" stroke-width="0.9" />
<line x1="253.45" y1="896.00" x2="253.45" y2="899.80" stroke="#111111" stroke-width="1.5" />
<line x1="263.21" y1="896.00" x2="263.21" y2="898.50" stroke="#111111" stroke-width="0.9" />
<line x1="268.92" y1="896.00" x2="268.92" y2="898.50" stroke="#111111" stroke-width="0.9" />
<line x1="272.97" y1="896.00" x2="272.97" y2="898.50" stroke="#111111" stroke-width="0.9" />
<line x1="276.12" y1="896.00" x2="276.12" y2="898.50" stroke="#111111" stroke-width="0.9" />
<line x1="278.69" y1="896.00" x2="278.69" y2="898.50" stroke="#111111" stroke-width="0.9" />
<line x1="280.86" y1="896.00" x2="280.86" y2="898.50" stroke="#111111" stroke-width="0.9" />
<line x1="282.74" y1="896.00" x2="282.74" y2="898.50" stroke="#111111" stroke-width="0.9" />
<line x1="284.40" y1="896.00" x2="284.40" y2="898.50" stroke="#111111" stroke-width="0.9" />
<line x1="285.88" y1="896.00" x2="285.88" y2="899.80" stroke="#111111" stroke-width="1.5" />
<line x1="295.64" y1="896.00" x2="295.64" y2="898.50" stroke="#111111" stroke-width="0.9" />
<line x1="301.35" y1="896.00" x2="301.35" y2="898.50" stroke="#111111" stroke-width="0.9" />
<line x1="305.40" y1="896.00" x2="305.40" y2="898.50" stroke="#111111" stroke-width="0.9" />
<line x1="308.55" y1="896.00" x2="308.55" y2="898.50" stroke="#111111" stroke-width="0.9" />
<line x1="311.12" y1="896.00" x2="311.12" y2="898.50" stroke="#111111" stroke-width="0.9" />
<line x1="313.29" y1="896.00" x2="313.29" y2="898.50" stroke="#111111" stroke-width="0.9" />
<line x1="315.17" y1="896.00" x2="315.17" y2="898.50" stroke="#111111" stroke-width="0.9" />
<line x1="316.83" y1="896.00" x2="316.83" y2="898.50" stroke="#111111" stroke-width="0.9" />
<line x1="318.31" y1="896.00" x2="318.31" y2="899.80" stroke="#111111" stroke-width="1.5" />
<text transform="translate(96.8,912.0) rotate(-45)" font-size="19.4" text-anchor="end" fill="#222222">0.01</text>
<text transform="translate(127.9,912.0) rotate(-45)" font-size="19.4" text-anchor="end" fill="#222222">0.1</text>
<text transform="translate(158.2,912.0) rotate(-45)" font-size="19.4" text-anchor="end" fill="#222222">1</text>
<text transform="translate(192.0,912.0) rotate(-45)" font-size="19.4" text-anchor="end" fill="#222222">10</text>
<text transform="translate(225.8,912.0) rotate(-45)" font-size="19.4" text-anchor="end" fill="#222222">100</text>
<text transform="translate(259.7,912.0) rotate(-45)" font-size="19.4" text-anchor="end" fill="#222222">1000</text>
<text transform="translate(293.5,912.0) rotate(-45)" font-size="19.4" text-anchor="end" fill="#222222">10000</text>
<text transform="translate(327.4,912.0) rotate(-45)" font-size="19.4" text-anchor="end" fill="#222222">100000</text>
<text x="182.00" y="967.50" font-size="19.4" text-anchor="middle" font-weight="normal" fill="#222222" >concentration [nM]</text>
<polyline points="114.5,718.3 115.6,718.3 116.7,718.3 117.7,718.3 118.8,718.3 119.9,718.3 121.0,718.3 122.0,718.3 123.1,718.3 124.2,718.3 125.2,718.3 126.3,718.3 127.4,718.3 128.5,718.3 129.6,718.3 130.6,718.3 131.7,718.3 132.8,718.3 133.8,718.3 134.9,718.3 136.0,718.3 137.1,718.3 138.2,718.3 139.2,718.3 140.3,718.3 141.4,718.3 142.5,718.3 143.5,718.3 144.6,718.3 145.7,718.3 146.8,718.3 147.8,718.3 148.9,718.3 150.0,718.3 151.1,718.3 152.1,718.3 153.2,718.3 154.3,718.3 155.3,718.3 156.4,718.3 157.5,718.3 158.6,718.3 159.7,718.3 160.7,718.3 161.8,718.3 162.9,718.3 163.9,718.3 165.0,718.3 166.1,718.3 167.2,718.3 168.2,718.3 169.3,718.3 170.4,718.3 171.5,718.3 172.6,718.3 173.6,718.3 174.7,718.3 175.8,718.3 176.8,718.3 177.9,718.3 179.0,718.3 180.1,718.3 181.1,718.3 182.2,718.3 183.3,718.4 184.4,718.4 185.5,718.4 186.5,718.4 187.6,718.4 188.7,718.5 189.8,718.5 190.8,718.6 191.9,718.7 193.0,718.8 194.1,718.9 195.1,719.1 196.2,719.3 197.3,719.6 198.3,720.0 199.4,720.5 200.5,721.1 201.6,721.9 202.7,722.9 203.7,724.2 204.8,725.8 205.9,727.8 206.9,730.4 208.0,733.5 209.1,737.4 210.2,742.1 211.2,747.8 212.3,754.4 213.4,762.1 214.5,770.9 215.5,780.5 216.6,790.9 217.7,801.6 218.8,812.5 219.9,823.1 220.9,833.1 222.0,842.4 223.1,850.7 224.1,857.9 225.2,864.1 226.3,869.4 227.4,873.7 228.4,877.2 229.5,880.1 230.6,882.4 231.7,884.2 232.8,885.7 233.8,886.8 234.9,887.7 236.0,888.5 237.1,889.0 238.1,889.4 239.2,889.8 240.3,890.0 241.4,890.3 242.4,890.4 243.5,890.5 244.6,890.6 245.6,890.7 246.7,890.8 247.8,890.8 248.9,890.9 250.0,890.9 251.0,890.9 252.1,890.9 253.2,890.9 254.2,890.9 255.3,891.0 256.4,891.0 257.5,891.0 258.6,891.0 259.6,891.0 260.7,891.0 261.8,891.0 262.9,891.0 263.9,891.0 265.0,891.0 266.1,891.0 267.1,891.0 268.2,891.0 269.3,891.0 270.4,891.0 271.4,891.0 272.5,891.0 273.6,891.0 274.7,891.0 275.8,891.0 276.8,891.0 277.9,891.0 279.0,891.0 280.1,891.0 281.1,891.0 282.2,891.0 283.3,891.0 284.4,891.0 285.4,891.0 286.5,891.0" fill="none" stroke="#0a0a0a" stroke-width="1.6" stroke-linejoin="round" stroke-dasharray="3.6 2.4"/>
<line x1="130.90" y1="705.50" x2="130.90" y2="727.50" stroke="#0a0a0a" stroke-width="1.5" />
<line x1="128.60" y1="705.50" x2="133.20" y2="705.50" stroke="#0a0a0a" stroke-width="1.5" />
<line x1="128.60" y1="727.50" x2="133.20" y2="727.50" stroke="#0a0a0a" stroke-width="1.5" />
<circle cx="130.9" cy="716.5" r="2.0" fill="#0a0a0a"/>
<line x1="146.40" y1="710.00" x2="146.40" y2="726.40" stroke="#0a0a0a" stroke-width="1.5" />
<line x1="144.10" y1="710.00" x2="148.70" y2="710.00" stroke="#0a0a0a" stroke-width="1.5" />
<line x1="144.10" y1="726.40" x2="148.70" y2="726.40" stroke="#0a0a0a" stroke-width="1.5" />
<circle cx="146.4" cy="718.2" r="2.0" fill="#0a0a0a"/>
<line x1="193.10" y1="710.10" x2="193.10" y2="735.70" stroke="#0a0a0a" stroke-width="1.5" />
<line x1="190.80" y1="710.10" x2="195.40" y2="710.10" stroke="#0a0a0a" stroke-width="1.5" />
<line x1="190.80" y1="735.70" x2="195.40" y2="735.70" stroke="#0a0a0a" stroke-width="1.5" />
<circle cx="193.1" cy="722.9" r="2.0" fill="#0a0a0a"/>
<line x1="208.40" y1="729.70" x2="208.40" y2="750.10" stroke="#0a0a0a" stroke-width="1.5" />
<line x1="206.10" y1="729.70" x2="210.70" y2="729.70" stroke="#0a0a0a" stroke-width="1.5" />
<line x1="206.10" y1="750.10" x2="210.70" y2="750.10" stroke="#0a0a0a" stroke-width="1.5" />
<circle cx="208.4" cy="739.9" r="2.0" fill="#0a0a0a"/>
<line x1="223.80" y1="842.40" x2="223.80" y2="868.40" stroke="#0a0a0a" stroke-width="1.5" />
<line x1="221.50" y1="842.40" x2="226.10" y2="842.40" stroke="#0a0a0a" stroke-width="1.5" />
<line x1="221.50" y1="868.40" x2="226.10" y2="868.40" stroke="#0a0a0a" stroke-width="1.5" />
<circle cx="223.8" cy="855.4" r="2.0" fill="#0a0a0a"/>
<line x1="238.90" y1="887.50" x2="238.90" y2="891.50" stroke="#0a0a0a" stroke-width="1.5" />
<line x1="236.60" y1="887.50" x2="241.20" y2="887.50" stroke="#0a0a0a" stroke-width="1.5" />
<line x1="236.60" y1="891.50" x2="241.20" y2="891.50" stroke="#0a0a0a" stroke-width="1.5" />
<circle cx="238.9" cy="889.5" r="2.0" fill="#0a0a0a"/>
<line x1="254.20" y1="889.30" x2="254.20" y2="892.30" stroke="#0a0a0a" stroke-width="1.5" />
<line x1="251.90" y1="889.30" x2="256.50" y2="889.30" stroke="#0a0a0a" stroke-width="1.5" />
<line x1="251.90" y1="892.30" x2="256.50" y2="892.30" stroke="#0a0a0a" stroke-width="1.5" />
<circle cx="254.2" cy="890.8" r="2.0" fill="#0a0a0a"/>
<circle cx="270.1" cy="890.1" r="2.0" fill="#0a0a0a"/>
<circle cx="285.9" cy="891.2" r="2.0" fill="#0a0a0a"/>
<polyline points="114.5,728.0 115.6,728.0 116.7,728.0 117.7,728.0 118.8,728.0 119.9,728.0 121.0,728.0 122.0,728.0 123.1,728.0 124.2,728.0 125.2,728.0 126.3,728.0 127.4,728.0 128.5,728.0 129.6,728.0 130.6,728.0 131.7,728.0 132.8,728.0 133.8,728.0 134.9,728.0 136.0,728.0 137.1,728.0 138.2,728.0 139.2,728.0 140.3,728.0 141.4,728.0 142.5,728.0 143.5,728.0 144.6,728.0 145.7,728.0 146.8,728.0 147.8,728.0 148.9,728.0 150.0,728.0 151.1,728.0 152.1,728.0 153.2,728.0 154.3,728.0 155.3,728.0 156.4,728.0 157.5,728.0 158.6,728.0 159.7,728.0 160.7,728.0 161.8,728.0 162.9,728.0 163.9,728.0 165.0,728.1 166.1,728.1 167.2,728.1 168.2,728.1 169.3,728.1 170.4,728.1 171.5,728.2 172.6,728.2 173.6,728.2 174.7,728.2 175.8,728.3 176.8,728.3 177.9,728.3 179.0,728.4 180.1,728.4 181.1,728.5 182.2,728.5 183.3,728.6 184.4,728.7 185.5,728.8 186.5,728.9 187.6,729.0 188.7,729.1 189.8,729.2 190.8,729.4 191.9,729.5 193.0,729.7 194.1,729.9 195.1,730.1 196.2,730.4 197.3,730.7 198.3,731.0 199.4,731.3 200.5,731.7 201.6,732.1 202.7,732.6 203.7,733.1 204.8,733.7 205.9,734.4 206.9,735.1 208.0,735.9 209.1,736.8 210.2,737.8 211.2,738.8 212.3,740.0 213.4,741.3 214.5,742.7 215.5,744.3 216.6,746.0 217.7,747.9 218.8,749.9 219.9,752.1 220.9,754.5 222.0,757.0 223.1,759.8 224.1,762.7 225.2,765.9 226.3,769.2 227.4,772.8 228.4,776.5 229.5,780.4 230.6,784.5 231.7,788.7 232.8,793.1 233.8,797.5 234.9,802.1 236.0,806.7 237.1,811.3 238.1,816.0 239.2,820.6 240.3,825.2 241.4,829.7 242.4,834.0 243.5,838.3 244.6,842.4 245.6,846.4 246.7,850.2 247.8,853.8 248.9,857.2 250.0,860.4 251.0,863.4 252.1,866.2 253.2,868.8 254.2,871.2 255.3,873.5 256.4,875.6 257.5,877.5 258.6,879.2 259.6,880.8 260.7,882.3 261.8,883.6 262.9,884.8 263.9,885.9 265.0,886.9 266.1,887.8 267.1,888.6 268.2,889.4 269.3,890.1 270.4,890.7 271.4,891.2 272.5,891.7 273.6,892.1 274.7,892.5 275.8,892.9 276.8,893.2 277.9,893.5 279.0,893.8 280.1,894.0 281.1,894.2 282.2,894.4 283.3,894.5 284.4,894.7 285.4,894.8 286.5,895.0" fill="none" stroke="#a5a7aa" stroke-width="1.7" stroke-linejoin="round"/>
<circle cx="115.5" cy="702.9" r="1.7" fill="#a5a7aa"/>
<line x1="130.90" y1="712.00" x2="130.90" y2="722.00" stroke="#a5a7aa" stroke-width="1.3" />
<line x1="128.70" y1="712.00" x2="133.10" y2="712.00" stroke="#a5a7aa" stroke-width="1.3" />
<line x1="128.70" y1="722.00" x2="133.10" y2="722.00" stroke="#a5a7aa" stroke-width="1.3" />
<circle cx="130.9" cy="717.0" r="1.7" fill="#a5a7aa"/>
<line x1="146.40" y1="723.40" x2="146.40" y2="731.40" stroke="#a5a7aa" stroke-width="1.3" />
<line x1="144.20" y1="723.40" x2="148.60" y2="723.40" stroke="#a5a7aa" stroke-width="1.3" />
<line x1="144.20" y1="731.40" x2="148.60" y2="731.40" stroke="#a5a7aa" stroke-width="1.3" />
<circle cx="146.4" cy="727.4" r="1.7" fill="#a5a7aa"/>
<line x1="161.90" y1="717.80" x2="161.90" y2="745.40" stroke="#a5a7aa" stroke-width="1.3" />
<line x1="159.70" y1="717.80" x2="164.10" y2="717.80" stroke="#a5a7aa" stroke-width="1.3" />
<line x1="159.70" y1="745.40" x2="164.10" y2="745.40" stroke="#a5a7aa" stroke-width="1.3" />
<circle cx="161.9" cy="731.6" r="1.7" fill="#a5a7aa"/>
<line x1="177.60" y1="716.30" x2="177.60" y2="729.50" stroke="#a5a7aa" stroke-width="1.3" />
<line x1="175.40" y1="716.30" x2="179.80" y2="716.30" stroke="#a5a7aa" stroke-width="1.3" />
<line x1="175.40" y1="729.50" x2="179.80" y2="729.50" stroke="#a5a7aa" stroke-width="1.3" />
<circle cx="177.6" cy="722.9" r="1.7" fill="#a5a7aa"/>
<line x1="193.10" y1="730.10" x2="193.10" y2="750.50" stroke="#a5a7aa" stroke-width="1.3" />
<line x1="190.90" y1="730.10" x2="195.30" y2="730.10" stroke="#a5a7aa" stroke-width="1.3" />
<line x1="190.90" y1="750.50" x2="195.30" y2="750.50" stroke="#a5a7aa" stroke-width="1.3" />
<circle cx="193.1" cy="740.3" r="1.7" fill="#a5a7aa"/>
<line x1="208.40" y1="741.30" x2="208.40" y2="759.70" stroke="#a5a7aa" stroke-width="1.3" />
<line x1="206.20" y1="741.30" x2="210.60" y2="741.30" stroke="#a5a7aa" stroke-width="1.3" />
<line x1="206.20" y1="759.70" x2="210.60" y2="759.70" stroke="#a5a7aa" stroke-width="1.3" />
<circle cx="208.4" cy="750.5" r="1.7" fill="#a5a7aa"/>
<circle cx="223.8" cy="755.0" r="1.7" fill="#a5a7aa"/>
<line x1="239.50" y1="804.90" x2="239.50" y2="818.10" stroke="#a5a7aa" stroke-width="1.3" />
<line x1="237.30" y1="804.90" x2="241.70" y2="804.90" stroke="#a5a7aa" stroke-width="1.3" />
<line x1="237.30" y1="818.10" x2="241.70" y2="818.10" stroke="#a5a7aa" stroke-width="1.3" />
<circle cx="239.5" cy="811.5" r="1.7" fill="#a5a7aa"/>
<circle cx="254.8" cy="879.3" r="1.7" fill="#a5a7aa"/>
<circle cx="270.1" cy="891.0" r="1.7" fill="#a5a7aa"/>
<circle cx="285.9" cy="892.5" r="1.7" fill="#a5a7aa"/>
<polyline points="83.0,729.1 84.1,729.1 85.1,729.1 86.2,729.1 87.3,729.1 88.3,729.1 89.4,729.1 90.5,729.1 91.5,729.1 92.6,729.1 93.7,729.1 94.8,729.1 95.8,729.1 96.9,729.1 98.0,729.1 99.0,729.1 100.1,729.1 101.2,729.1 102.2,729.1 103.3,729.1 104.4,729.1 105.4,729.1 106.5,729.1 107.6,729.1 108.7,729.1 109.7,729.1 110.8,729.1 111.9,729.1 112.9,729.1 114.0,729.1 115.1,729.1 116.1,729.1 117.2,729.1 118.3,729.1 119.3,729.1 120.4,729.1 121.5,729.1 122.5,729.1 123.6,729.1 124.7,729.1 125.8,729.1 126.8,729.1 127.9,729.1 129.0,729.1 130.0,729.1 131.1,729.1 132.2,729.1 133.2,729.1 134.3,729.1 135.4,729.1 136.4,729.1 137.5,729.1 138.6,729.1 139.6,729.1 140.7,729.1 141.8,729.1 142.8,729.1 143.9,729.1 145.0,729.1 146.1,729.1 147.1,729.1 148.2,729.1 149.3,729.1 150.3,729.1 151.4,729.2 152.5,729.2 153.5,729.2 154.6,729.2 155.7,729.2 156.7,729.2 157.8,729.2 158.9,729.3 159.9,729.3 161.0,729.3 162.1,729.4 163.2,729.5 164.2,729.5 165.3,729.6 166.4,729.8 167.4,729.9 168.5,730.1 169.6,730.3 170.6,730.6 171.7,730.9 172.8,731.4 173.8,731.9 174.9,732.5 176.0,733.3 177.1,734.3 178.1,735.5 179.2,736.9 180.3,738.7 181.3,740.8 182.4,743.3 183.5,746.3 184.5,749.9 185.6,754.0 186.7,758.9 187.7,764.4 188.8,770.7 189.9,777.6 190.9,785.2 192.0,793.3 193.1,801.8 194.2,810.6 195.2,819.3 196.3,827.9 197.4,836.2 198.4,843.9 199.5,851.0 200.6,857.5 201.6,863.2 202.7,868.3 203.8,872.6 204.8,876.3 205.9,879.5 207.0,882.1 208.0,884.4 209.1,886.2 210.2,887.7 211.2,889.0 212.3,890.0 213.4,890.8 214.5,891.5 215.5,892.1 216.6,892.5 217.7,892.9 218.7,893.2 219.8,893.4 220.9,893.6 221.9,893.8 223.0,893.9 224.1,894.0 225.1,894.1 226.2,894.2 227.3,894.2 228.3,894.3 229.4,894.3 230.5,894.3 231.6,894.4 232.6,894.4 233.7,894.4 234.8,894.4 235.8,894.4 236.9,894.4 238.0,894.4 239.0,894.4 240.1,894.4 241.2,894.4 242.2,894.4 243.3,894.4 244.4,894.4 245.4,894.4 246.5,894.4 247.6,894.5 248.7,894.5 249.7,894.5 250.8,894.5 251.9,894.5 252.9,894.5 254.0,894.5" fill="none" stroke="#0a0a0a" stroke-width="1.9" stroke-linejoin="round"/>
<circle cx="83.0" cy="703.1" r="2.0" fill="#0a0a0a"/>
<line x1="98.50" y1="713.30" x2="98.50" y2="728.50" stroke="#0a0a0a" stroke-width="1.5" />
<line x1="96.20" y1="713.30" x2="100.80" y2="713.30" stroke="#0a0a0a" stroke-width="1.5" />
<line x1="96.20" y1="728.50" x2="100.80" y2="728.50" stroke="#0a0a0a" stroke-width="1.5" />
<circle cx="98.5" cy="720.9" r="2.0" fill="#0a0a0a"/>
<line x1="114.10" y1="707.10" x2="114.10" y2="731.70" stroke="#0a0a0a" stroke-width="1.5" />
<line x1="111.80" y1="707.10" x2="116.40" y2="707.10" stroke="#0a0a0a" stroke-width="1.5" />
<line x1="111.80" y1="731.70" x2="116.40" y2="731.70" stroke="#0a0a0a" stroke-width="1.5" />
<circle cx="114.1" cy="719.4" r="2.0" fill="#0a0a0a"/>
<line x1="129.60" y1="731.00" x2="129.60" y2="742.60" stroke="#0a0a0a" stroke-width="1.5" />
<line x1="127.30" y1="731.00" x2="131.90" y2="731.00" stroke="#0a0a0a" stroke-width="1.5" />
<line x1="127.30" y1="742.60" x2="131.90" y2="742.60" stroke="#0a0a0a" stroke-width="1.5" />
<circle cx="129.6" cy="736.8" r="2.0" fill="#0a0a0a"/>
<line x1="144.90" y1="732.60" x2="144.90" y2="745.20" stroke="#0a0a0a" stroke-width="1.5" />
<line x1="142.60" y1="732.60" x2="147.20" y2="732.60" stroke="#0a0a0a" stroke-width="1.5" />
<line x1="142.60" y1="745.20" x2="147.20" y2="745.20" stroke="#0a0a0a" stroke-width="1.5" />
<circle cx="144.9" cy="738.9" r="2.0" fill="#0a0a0a"/>
<line x1="160.50" y1="740.50" x2="160.50" y2="748.30" stroke="#0a0a0a" stroke-width="1.5" />
<line x1="158.20" y1="740.50" x2="162.80" y2="740.50" stroke="#0a0a0a" stroke-width="1.5" />
<line x1="158.20" y1="748.30" x2="162.80" y2="748.30" stroke="#0a0a0a" stroke-width="1.5" />
<circle cx="160.5" cy="744.4" r="2.0" fill="#0a0a0a"/>
<line x1="176.20" y1="735.20" x2="176.20" y2="757.60" stroke="#0a0a0a" stroke-width="1.5" />
<line x1="173.90" y1="735.20" x2="178.50" y2="735.20" stroke="#0a0a0a" stroke-width="1.5" />
<line x1="173.90" y1="757.60" x2="178.50" y2="757.60" stroke="#0a0a0a" stroke-width="1.5" />
<circle cx="176.2" cy="746.4" r="2.0" fill="#0a0a0a"/>
<line x1="191.50" y1="775.20" x2="191.50" y2="789.20" stroke="#0a0a0a" stroke-width="1.5" />
<line x1="189.20" y1="775.20" x2="193.80" y2="775.20" stroke="#0a0a0a" stroke-width="1.5" />
<line x1="189.20" y1="789.20" x2="193.80" y2="789.20" stroke="#0a0a0a" stroke-width="1.5" />
<circle cx="191.5" cy="782.2" r="2.0" fill="#0a0a0a"/>
<line x1="207.20" y1="876.80" x2="207.20" y2="891.20" stroke="#0a0a0a" stroke-width="1.5" />
<line x1="204.90" y1="876.80" x2="209.50" y2="876.80" stroke="#0a0a0a" stroke-width="1.5" />
<line x1="204.90" y1="891.20" x2="209.50" y2="891.20" stroke="#0a0a0a" stroke-width="1.5" />
<circle cx="207.2" cy="884.0" r="2.0" fill="#0a0a0a"/>
<circle cx="222.7" cy="892.2" r="2.0" fill="#0a0a0a"/>
<circle cx="238.5" cy="892.8" r="2.0" fill="#0a0a0a"/>
<circle cx="253.8" cy="891.6" r="2.0" fill="#0a0a0a"/>
</g>
<g id="panelE">
<text x="354.80" y="676.00" font-size="19.7" text-anchor="start" font-weight="bold" fill="#111" >E</text>
<text x="537.00" y="674.00" font-size="19.4" text-anchor="middle" font-weight="normal" fill="#222222" >asexual parasites</text>
<line x1="400.40" y1="681.86" x2="400.40" y2="895.55" stroke="#111111" stroke-width="1.9" />
<line x1="396.20" y1="894.60" x2="400.40" y2="894.60" stroke="#111111" stroke-width="1.5" />
<text x="395.60" y="901.50" font-size="19.4" text-anchor="end" font-weight="normal" fill="#222222" >0</text>
<line x1="396.20" y1="797.90" x2="400.40" y2="797.90" stroke="#111111" stroke-width="1.5" />
<text x="395.60" y="804.80" font-size="19.4" text-anchor="end" font-weight="normal" fill="#222222" >50</text>
<line x1="396.20" y1="701.20" x2="400.40" y2="701.20" stroke="#111111" stroke-width="1.5" />
<text x="395.60" y="708.10" font-size="19.4" text-anchor="end" font-weight="normal" fill="#222222" >100</text>
<text transform="translate(368.6,797.0) rotate(-90)" font-size="19.4" text-anchor="middle" fill="#222222">survival [%]</text>
<line x1="399.45" y1="894.60" x2="660.20" y2="894.60" stroke="#111111" stroke-width="1.9" />
<line x1="400.40" y1="894.60" x2="400.40" y2="898.40" stroke="#111111" stroke-width="1.5" />
<line x1="426.41" y1="894.60" x2="426.41" y2="897.10" stroke="#111111" stroke-width="0.9" />
<line x1="441.62" y1="894.60" x2="441.62" y2="897.10" stroke="#111111" stroke-width="0.9" />
<line x1="452.42" y1="894.60" x2="452.42" y2="897.10" stroke="#111111" stroke-width="0.9" />
<line x1="460.79" y1="894.60" x2="460.79" y2="897.10" stroke="#111111" stroke-width="0.9" />
<line x1="467.63" y1="894.60" x2="467.63" y2="897.10" stroke="#111111" stroke-width="0.9" />
<line x1="473.42" y1="894.60" x2="473.42" y2="897.10" stroke="#111111" stroke-width="0.9" />
<line x1="478.43" y1="894.60" x2="478.43" y2="897.10" stroke="#111111" stroke-width="0.9" />
<line x1="482.85" y1="894.60" x2="482.85" y2="897.10" stroke="#111111" stroke-width="0.9" />
<line x1="486.80" y1="894.60" x2="486.80" y2="898.40" stroke="#111111" stroke-width="1.5" />
<line x1="512.81" y1="894.60" x2="512.81" y2="897.10" stroke="#111111" stroke-width="0.9" />
<line x1="528.02" y1="894.60" x2="528.02" y2="897.10" stroke="#111111" stroke-width="0.9" />
<line x1="538.82" y1="894.60" x2="538.82" y2="897.10" stroke="#111111" stroke-width="0.9" />
<line x1="547.19" y1="894.60" x2="547.19" y2="897.10" stroke="#111111" stroke-width="0.9" />
<line x1="554.03" y1="894.60" x2="554.03" y2="897.10" stroke="#111111" stroke-width="0.9" />
<line x1="559.82" y1="894.60" x2="559.82" y2="897.10" stroke="#111111" stroke-width="0.9" />
<line x1="564.83" y1="894.60" x2="564.83" y2="897.10" stroke="#111111" stroke-width="0.9" />
<line x1="569.25" y1="894.60" x2="569.25" y2="897.10" stroke="#111111" stroke-width="0.9" />
<line x1="573.20" y1="894.60" x2="573.20" y2="898.40" stroke="#111111" stroke-width="1.5" />
<line x1="599.21" y1="894.60" x2="599.21" y2="897.10" stroke="#111111" stroke-width="0.9" />
<line x1="614.42" y1="894.60" x2="614.42" y2="897.10" stroke="#111111" stroke-width="0.9" />
<line x1="625.22" y1="894.60" x2="625.22" y2="897.10" stroke="#111111" stroke-width="0.9" />
<line x1="633.59" y1="894.60" x2="633.59" y2="897.10" stroke="#111111" stroke-width="0.9" />
<line x1="640.43" y1="894.60" x2="640.43" y2="897.10" stroke="#111111" stroke-width="0.9" />
<line x1="646.22" y1="894.60" x2="646.22" y2="897.10" stroke="#111111" stroke-width="0.9" />
<line x1="651.23" y1="894.60" x2="651.23" y2="897.10" stroke="#111111" stroke-width="0.9" />
<line x1="655.65" y1="894.60" x2="655.65" y2="897.10" stroke="#111111" stroke-width="0.9" />
<line x1="659.60" y1="894.60" x2="659.60" y2="898.40" stroke="#111111" stroke-width="1.5" />
<text transform="translate(408.1,910.6) rotate(-45)" font-size="19.4" text-anchor="end" fill="#222222">1</text>
<text transform="translate(494.5,910.6) rotate(-45)" font-size="19.4" text-anchor="end" fill="#222222">10</text>
<text transform="translate(580.9,910.6) rotate(-45)" font-size="19.4" text-anchor="end" fill="#222222">100</text>
<text transform="translate(667.3,910.6) rotate(-45)" font-size="19.4" text-anchor="end" fill="#222222">1000</text>
<text x="531.00" y="968.00" font-size="19.4" text-anchor="middle" font-weight="normal" fill="#222222" >concentration [nM]</text>
<polyline points="443.2,692.6 443.8,692.6 444.5,692.6 445.1,692.6 445.7,692.6 446.4,692.6 447.0,692.6 447.7,692.6 448.3,692.6 448.9,692.6 449.6,692.6 450.2,692.6 450.8,692.6 451.5,692.7 452.1,692.7 452.7,692.7 453.4,692.7 454.0,692.7 454.7,692.7 455.3,692.8 455.9,692.8 456.6,692.8 457.2,692.8 457.8,692.9 458.5,692.9 459.1,692.9 459.7,693.0 460.4,693.0 461.0,693.1 461.7,693.1 462.3,693.2 462.9,693.2 463.6,693.3 464.2,693.4 464.8,693.5 465.5,693.5 466.1,693.6 466.7,693.7 467.4,693.8 468.0,694.0 468.6,694.1 469.3,694.2 469.9,694.4 470.6,694.6 471.2,694.7 471.8,694.9 472.5,695.1 473.1,695.4 473.7,695.6 474.4,695.9 475.0,696.2 475.6,696.5 476.3,696.9 476.9,697.2 477.6,697.6 478.2,698.1 478.8,698.6 479.5,699.1 480.1,699.7 480.7,700.3 481.4,700.9 482.0,701.6 482.6,702.4 483.3,703.2 483.9,704.1 484.6,705.1 485.2,706.1 485.8,707.2 486.5,708.5 487.1,709.7 487.7,711.1 488.4,712.6 489.0,714.2 489.6,715.9 490.3,717.7 490.9,719.6 491.6,721.7 492.2,723.9 492.8,726.2 493.5,728.6 494.1,731.2 494.7,734.0 495.4,736.8 496.0,739.8 496.6,743.0 497.3,746.2 497.9,749.6 498.6,753.2 499.2,756.8 499.8,760.6 500.5,764.5 501.1,768.5 501.7,772.5 502.4,776.7 503.0,780.9 503.6,785.1 504.3,789.4 504.9,793.6 505.6,797.9 506.2,802.2 506.8,806.4 507.5,810.6 508.1,814.7 508.7,818.8 509.4,822.8 510.0,826.6 510.6,830.4 511.3,834.1 511.9,837.6 512.6,841.0 513.2,844.3 513.8,847.4 514.5,850.4 515.1,853.3 515.7,856.0 516.4,858.6 517.0,861.0 517.6,863.3 518.3,865.5 518.9,867.5 519.5,869.5 520.2,871.3 520.8,873.0 521.5,874.6 522.1,876.0 522.7,877.4 523.4,878.7 524.0,879.9 524.6,881.0 525.3,882.0 525.9,883.0 526.5,883.9 527.2,884.7 527.8,885.5 528.5,886.2 529.1,886.9 529.7,887.5 530.4,888.0 531.0,888.5 531.6,889.0 532.3,889.5 532.9,889.9 533.5,890.3 534.2,890.6 534.8,890.9 535.5,891.2 536.1,891.5 536.7,891.7 537.4,892.0 538.0,892.2 538.6,892.4 539.3,892.5 539.9,892.7 540.5,892.9 541.2,893.0 541.8,893.1 542.5,893.3 543.1,893.4 543.7,893.5 544.4,893.6 545.0,893.6" fill="none" stroke="#a5a7aa" stroke-width="1.7" stroke-linejoin="round"/>
<line x1="443.20" y1="689.50" x2="443.20" y2="697.50" stroke="#a5a7aa" stroke-width="1.6" />
<line x1="440.40" y1="689.50" x2="446.00" y2="689.50" stroke="#a5a7aa" stroke-width="1.6" />
<line x1="440.40" y1="697.50" x2="446.00" y2="697.50" stroke="#a5a7aa" stroke-width="1.6" />
<circle cx="443.2" cy="693.5" r="1.9" fill="#a5a7aa"/>
<line x1="469.60" y1="689.00" x2="469.60" y2="697.60" stroke="#a5a7aa" stroke-width="1.6" />
<line x1="466.80" y1="689.00" x2="472.40" y2="689.00" stroke="#a5a7aa" stroke-width="1.6" />
<line x1="466.80" y1="697.60" x2="472.40" y2="697.60" stroke="#a5a7aa" stroke-width="1.6" />
<circle cx="469.6" cy="693.3" r="1.9" fill="#a5a7aa"/>
<line x1="495.10" y1="717.10" x2="495.10" y2="756.50" stroke="#a5a7aa" stroke-width="1.6" />
<line x1="492.30" y1="717.10" x2="497.90" y2="717.10" stroke="#a5a7aa" stroke-width="1.6" />
<line x1="492.30" y1="756.50" x2="497.90" y2="756.50" stroke="#a5a7aa" stroke-width="1.6" />
<circle cx="495.1" cy="736.8" r="1.9" fill="#a5a7aa"/>
<line x1="521.30" y1="861.00" x2="521.30" y2="881.60" stroke="#a5a7aa" stroke-width="1.6" />
<line x1="518.50" y1="861.00" x2="524.10" y2="861.00" stroke="#a5a7aa" stroke-width="1.6" />
<line x1="518.50" y1="881.60" x2="524.10" y2="881.60" stroke="#a5a7aa" stroke-width="1.6" />
<circle cx="521.3" cy="871.3" r="1.9" fill="#a5a7aa"/>
<circle cx="547.3" cy="894.0" r="1.9" fill="#a5a7aa"/>
<polyline points="443.2,708.0 444.2,708.0 445.2,708.1 446.1,708.1 447.1,708.1 448.1,708.1 449.1,708.1 450.0,708.1 451.0,708.1 452.0,708.1 453.0,708.2 454.0,708.2 454.9,708.2 455.9,708.2 456.9,708.2 457.9,708.3 458.8,708.3 459.8,708.3 460.8,708.4 461.8,708.4 462.8,708.5 463.7,708.5 464.7,708.6 465.7,708.6 466.7,708.7 467.6,708.8 468.6,708.8 469.6,708.9 470.6,709.0 471.5,709.1 472.5,709.3 473.5,709.4 474.5,709.5 475.5,709.7 476.4,709.9 477.4,710.1 478.4,710.3 479.4,710.5 480.3,710.8 481.3,711.1 482.3,711.4 483.3,711.7 484.3,712.1 485.2,712.5 486.2,712.9 487.2,713.4 488.2,714.0 489.1,714.6 490.1,715.2 491.1,715.9 492.1,716.7 493.1,717.6 494.0,718.5 495.0,719.5 496.0,720.6 497.0,721.8 497.9,723.1 498.9,724.5 499.9,726.1 500.9,727.7 501.9,729.5 502.8,731.5 503.8,733.5 504.8,735.8 505.8,738.2 506.7,740.7 507.7,743.4 508.7,746.3 509.7,749.4 510.6,752.6 511.6,756.0 512.6,759.6 513.6,763.3 514.6,767.2 515.5,771.2 516.5,775.4 517.5,779.6 518.5,784.0 519.4,788.4 520.4,792.9 521.4,797.5 522.4,802.0 523.4,806.6 524.3,811.1 525.3,815.6 526.3,820.0 527.3,824.3 528.2,828.6 529.2,832.7 530.2,836.6 531.2,840.5 532.2,844.1 533.1,847.7 534.1,851.0 535.1,854.2 536.1,857.2 537.0,860.0 538.0,862.7 539.0,865.2 540.0,867.5 541.0,869.7 541.9,871.8 542.9,873.6 543.9,875.4 544.9,877.0 545.8,878.5 546.8,879.9 547.8,881.2 548.8,882.3 549.7,883.4 550.7,884.4 551.7,885.3 552.7,886.1 553.7,886.9 554.6,887.6 555.6,888.2 556.6,888.8 557.6,889.3 558.5,889.8 559.5,890.2 560.5,890.6 561.5,891.0 562.5,891.3 563.4,891.6 564.4,891.9 565.4,892.1 566.4,892.4 567.3,892.6 568.3,892.8 569.3,892.9 570.3,893.1 571.3,893.2 572.2,893.3 573.2,893.5 574.2,893.6 575.2,893.7 576.1,893.8 577.1,893.8 578.1,893.9 579.1,894.0 580.0,894.0 581.0,894.1 582.0,894.1 583.0,894.2 584.0,894.2 584.9,894.2 585.9,894.3 586.9,894.3 587.9,894.3 588.8,894.4 589.8,894.4 590.8,894.4 591.8,894.4 592.8,894.4 593.7,894.5 594.7,894.5 595.7,894.5 596.7,894.5 597.6,894.5 598.6,894.5 599.6,894.5" fill="none" stroke="#0a0a0a" stroke-width="1.6" stroke-linejoin="round" stroke-dasharray="3.6 2.4"/>
<line x1="443.20" y1="687.90" x2="443.20" y2="699.90" stroke="#0a0a0a" stroke-width="1.7" />
<line x1="440.40" y1="687.90" x2="446.00" y2="687.90" stroke="#0a0a0a" stroke-width="1.7" />
<line x1="440.40" y1="699.90" x2="446.00" y2="699.90" stroke="#0a0a0a" stroke-width="1.7" />
<circle cx="443.2" cy="693.9" r="2.5" fill="#0a0a0a"/>
<line x1="469.60" y1="712.60" x2="469.60" y2="725.80" stroke="#0a0a0a" stroke-width="1.7" />
<line x1="466.80" y1="712.60" x2="472.40" y2="712.60" stroke="#0a0a0a" stroke-width="1.7" />
<line x1="466.80" y1="725.80" x2="472.40" y2="725.80" stroke="#0a0a0a" stroke-width="1.7" />
<circle cx="469.6" cy="719.2" r="2.5" fill="#0a0a0a"/>
<line x1="495.10" y1="721.30" x2="495.10" y2="736.70" stroke="#0a0a0a" stroke-width="1.7" />
<line x1="492.30" y1="721.30" x2="497.90" y2="721.30" stroke="#0a0a0a" stroke-width="1.7" />
<line x1="492.30" y1="736.70" x2="497.90" y2="736.70" stroke="#0a0a0a" stroke-width="1.7" />
<circle cx="495.1" cy="729.0" r="2.5" fill="#0a0a0a"/>
<line x1="521.30" y1="780.00" x2="521.30" y2="809.00" stroke="#0a0a0a" stroke-width="1.7" />
<line x1="518.50" y1="780.00" x2="524.10" y2="780.00" stroke="#0a0a0a" stroke-width="1.7" />
<line x1="518.50" y1="809.00" x2="524.10" y2="809.00" stroke="#0a0a0a" stroke-width="1.7" />
<circle cx="521.3" cy="794.5" r="2.5" fill="#0a0a0a"/>
<line x1="547.30" y1="886.00" x2="547.30" y2="895.20" stroke="#0a0a0a" stroke-width="1.7" />
<line x1="544.50" y1="886.00" x2="550.10" y2="886.00" stroke="#0a0a0a" stroke-width="1.7" />
<line x1="544.50" y1="895.20" x2="550.10" y2="895.20" stroke="#0a0a0a" stroke-width="1.7" />
<circle cx="547.3" cy="890.6" r="2.5" fill="#0a0a0a"/>
<circle cx="573.2" cy="894.0" r="2.5" fill="#0a0a0a"/>
<circle cx="599.6" cy="894.0" r="2.5" fill="#0a0a0a"/>
<polyline points="417.1,727.3 418.2,727.6 419.4,727.9 420.5,728.3 421.7,728.7 422.8,729.2 423.9,729.6 425.1,730.2 426.2,730.8 427.4,731.4 428.5,732.1 429.6,732.9 430.8,733.7 431.9,734.6 433.1,735.6 434.2,736.7 435.4,737.9 436.5,739.3 437.6,740.7 438.8,742.2 439.9,743.9 441.1,745.7 442.2,747.6 443.3,749.7 444.5,751.9 445.6,754.3 446.8,756.9 447.9,759.6 449.0,762.5 450.2,765.5 451.3,768.7 452.5,772.1 453.6,775.6 454.7,779.3 455.9,783.1 457.0,787.0 458.2,791.0 459.3,795.1 460.4,799.3 461.6,803.5 462.7,807.8 463.9,812.0 465.0,816.3 466.1,820.5 467.3,824.7 468.4,828.8 469.6,832.8 470.7,836.7 471.9,840.4 473.0,844.1 474.1,847.6 475.3,850.9 476.4,854.1 477.6,857.1 478.7,859.9 479.8,862.6 481.0,865.1 482.1,867.5 483.3,869.7 484.4,871.8 485.5,873.7 486.7,875.5 487.8,877.1 489.0,878.6 490.1,880.0 491.2,881.3 492.4,882.5 493.5,883.6 494.7,884.5 495.8,885.5 496.9,886.3 498.1,887.0 499.2,887.7 500.4,888.4 501.5,888.9 502.6,889.5 503.8,889.9 504.9,890.4 506.1,890.8 507.2,891.1 508.4,891.5 509.5,891.7 510.6,892.0 511.8,892.3 512.9,892.5 514.1,892.7 515.2,892.9 516.3,893.0 517.5,893.2 518.6,893.3 519.8,893.4 520.9,893.5 522.0,893.6 523.2,893.7 524.3,893.8 525.5,893.9 526.6,894.0 527.7,894.0 528.9,894.1 530.0,894.1 531.2,894.2 532.3,894.2 533.4,894.2 534.6,894.3 535.7,894.3 536.9,894.3 538.0,894.4 539.1,894.4 540.3,894.4 541.4,894.4 542.6,894.4 543.7,894.5 544.9,894.5 546.0,894.5 547.1,894.5 548.3,894.5 549.4,894.5 550.6,894.5 551.7,894.5 552.8,894.5 554.0,894.5 555.1,894.5 556.3,894.6 557.4,894.6 558.5,894.6 559.7,894.6 560.8,894.6 562.0,894.6 563.1,894.6 564.2,894.6 565.4,894.6 566.5,894.6 567.7,894.6 568.8,894.6 569.9,894.6 571.1,894.6 572.2,894.6 573.4,894.6 574.5,894.6 575.6,894.6 576.8,894.6 577.9,894.6 579.1,894.6 580.2,894.6 581.4,894.6 582.5,894.6 583.6,894.6 584.8,894.6 585.9,894.6 587.1,894.6 588.2,894.6 589.3,894.6 590.5,894.6 591.6,894.6 592.8,894.6 593.9,894.6 595.0,894.6 596.2,894.6 597.3,894.6 598.5,894.6 599.6,894.6" fill="none" stroke="#0a0a0a" stroke-width="1.9" stroke-linejoin="round"/>
<line x1="417.10" y1="711.20" x2="417.10" y2="742.80" stroke="#0a0a0a" stroke-width="1.7" />
<line x1="414.30" y1="711.20" x2="419.90" y2="711.20" stroke="#0a0a0a" stroke-width="1.7" />
<line x1="414.30" y1="742.80" x2="419.90" y2="742.80" stroke="#0a0a0a" stroke-width="1.7" />
<circle cx="417.1" cy="727.0" r="2.5" fill="#0a0a0a"/>
<line x1="443.20" y1="741.20" x2="443.20" y2="752.40" stroke="#0a0a0a" stroke-width="1.7" />
<line x1="440.40" y1="741.20" x2="446.00" y2="741.20" stroke="#0a0a0a" stroke-width="1.7" />
<line x1="440.40" y1="752.40" x2="446.00" y2="752.40" stroke="#0a0a0a" stroke-width="1.7" />
<circle cx="443.2" cy="746.8" r="2.5" fill="#0a0a0a"/>
<line x1="469.60" y1="818.40" x2="469.60" y2="846.60" stroke="#0a0a0a" stroke-width="1.7" />
<line x1="466.80" y1="818.40" x2="472.40" y2="818.40" stroke="#0a0a0a" stroke-width="1.7" />
<line x1="466.80" y1="846.60" x2="472.40" y2="846.60" stroke="#0a0a0a" stroke-width="1.7" />
<circle cx="469.6" cy="832.5" r="2.5" fill="#0a0a0a"/>
<circle cx="495.2" cy="885.6" r="2.5" fill="#0a0a0a"/>
<circle cx="521.3" cy="894.2" r="2.5" fill="#0a0a0a"/>
<circle cx="547.3" cy="894.2" r="2.5" fill="#0a0a0a"/>
<circle cx="573.2" cy="894.0" r="2.5" fill="#0a0a0a"/>
<circle cx="599.6" cy="894.0" r="2.5" fill="#0a0a0a"/>
</g>
<rect x="15" y="982.5" width="324.8" height="57.9" fill="#fff" stroke="#222" stroke-width="1.5"/>
<line x1="21.40" y1="991.10" x2="24.60" y2="991.10" stroke="#0a0a0a" stroke-width="1.5" />
<line x1="33.20" y1="991.10" x2="34.80" y2="991.10" stroke="#0a0a0a" stroke-width="1.5" />
<ellipse cx="28.1" cy="991.1" rx="3.0" ry="2.4" fill="#0a0a0a"/>
<text x="41.6" y="995.5" font-size="13.8" fill="#222222">SGI-1027 (IC<tspan font-size="8" dy="4.6">50</tspan><tspan dy="-4.6"> = 88 nM; 95% CI = 66-92 nM)</tspan></text>
<line x1="21.40" y1="1010.80" x2="34.80" y2="1010.80" stroke="#a5a7aa" stroke-width="1.5" />
<path d="M25.9,1010.8 L28.1,1008.8 L30.3,1010.8 L28.1,1012.8Z" fill="#a5a7aa"/>
<text x="41.6" y="1015.2" font-size="13.8" fill="#222222">alexidine (IC<tspan font-size="8" dy="4.6">50</tspan><tspan dy="-4.6"> = 347 nM; 95% CI = 254-481 nM)</tspan></text>
<line x1="21.40" y1="1030.50" x2="34.80" y2="1030.50" stroke="#0a0a0a" stroke-width="1.7" />
<ellipse cx="28.1" cy="1030.5" rx="3.0" ry="2.4" fill="#0a0a0a"/>
<text x="41.6" y="1034.9" font-size="13.8" fill="#222222">monensin (IC<tspan font-size="8" dy="4.6">50</tspan><tspan dy="-4.6"> = 15 nM; 95% CI = 13-19 nM)</tspan></text>
<rect x="350.5" y="982.5" width="321.3" height="57.9" fill="#fff" stroke="#222" stroke-width="1.5"/>
<line x1="356.90" y1="991.10" x2="360.10" y2="991.10" stroke="#0a0a0a" stroke-width="1.5" />
<line x1="368.70" y1="991.10" x2="370.30" y2="991.10" stroke="#0a0a0a" stroke-width="1.5" />
<ellipse cx="363.6" cy="991.1" rx="3.0" ry="2.4" fill="#0a0a0a"/>
<text x="377.6" y="995.5" font-size="13.8" fill="#222222">SGI-1027 (IC<tspan font-size="8" dy="4.6">50</tspan><tspan dy="-4.6"> = 26 nM; 95% CI = 22-29 nM)</tspan></text>
<line x1="356.90" y1="1010.80" x2="370.30" y2="1010.80" stroke="#a5a7aa" stroke-width="1.5" />
<path d="M361.4,1010.8 L363.6,1008.8 L365.8,1010.8 L363.6,1012.8Z" fill="#a5a7aa"/>
<text x="377.6" y="1015.2" font-size="13.8" fill="#222222">alexidine (IC<tspan font-size="8" dy="4.6">50</tspan><tspan dy="-4.6"> = 16 nM; 95% CI = 15-18 nM)</tspan></text>
<line x1="356.90" y1="1030.50" x2="370.30" y2="1030.50" stroke="#0a0a0a" stroke-width="1.7" />
<ellipse cx="363.6" cy="1030.5" rx="3.0" ry="2.4" fill="#0a0a0a"/>
<text x="377.6" y="1034.9" font-size="13.8" fill="#222222">monensin (IC<tspan font-size="8" dy="4.6">50</tspan><tspan dy="-4.6"> = 5.3 nM; 95% CI = 4.5-6.1 nM)</tspan></text>
</svg>
</body></html>
